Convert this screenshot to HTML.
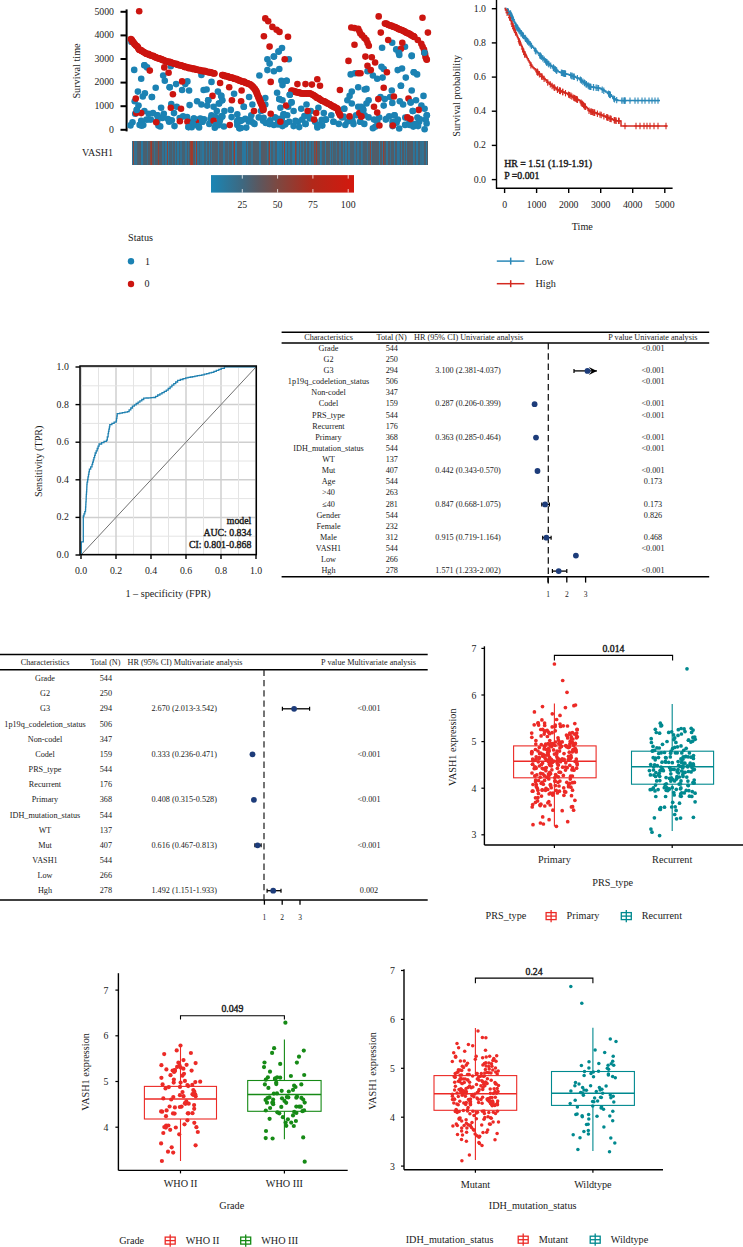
<!DOCTYPE html>
<html><head><meta charset="utf-8"><style>
html,body{margin:0;padding:0;background:#fff;width:743px;height:1247px;overflow:hidden}
svg{display:block}
text{font-family:"Liberation Serif",serif}
</style></head><body>
<svg width="743" height="1247" viewBox="0 0 743 1247">
<line x1="126.6" y1="9.4" x2="126.6" y2="131.4" stroke="#000" stroke-width="2"/>
<line x1="120.5" y1="11.8" x2="126.6" y2="11.8" stroke="#000" stroke-width="2"/>
<text x="114" y="14.5" font-size="9.8" text-anchor="end" fill="#222">5000</text>
<line x1="120.5" y1="35.4" x2="126.6" y2="35.4" stroke="#000" stroke-width="2"/>
<text x="114" y="38.1" font-size="9.8" text-anchor="end" fill="#222">4000</text>
<line x1="120.5" y1="59" x2="126.6" y2="59" stroke="#000" stroke-width="2"/>
<text x="114" y="61.7" font-size="9.8" text-anchor="end" fill="#222">3000</text>
<line x1="120.5" y1="82.6" x2="126.6" y2="82.6" stroke="#000" stroke-width="2"/>
<text x="114" y="85.3" font-size="9.8" text-anchor="end" fill="#222">2000</text>
<line x1="120.5" y1="106.2" x2="126.6" y2="106.2" stroke="#000" stroke-width="2"/>
<text x="114" y="108.9" font-size="9.8" text-anchor="end" fill="#222">1000</text>
<line x1="120.5" y1="129.8" x2="126.6" y2="129.8" stroke="#000" stroke-width="2"/>
<text x="114" y="132.5" font-size="9.8" text-anchor="end" fill="#222">0</text>
<text x="0" y="0" font-size="10.2" text-anchor="middle" fill="#1a1a1a" transform="translate(79.8,71) rotate(-90)">Survival time</text>
<circle cx="134.2" cy="69.9" r="3.3" fill="#1b82b3"/>
<circle cx="144.4" cy="65.2" r="3.3" fill="#1b82b3"/>
<circle cx="147.1" cy="67.4" r="3.3" fill="#1b82b3"/>
<circle cx="141.2" cy="78.7" r="3.3" fill="#1b82b3"/>
<circle cx="163.2" cy="75.5" r="3.3" fill="#1b82b3"/>
<circle cx="164.8" cy="80.8" r="3.3" fill="#1b82b3"/>
<circle cx="170.8" cy="66.3" r="3.3" fill="#1b82b3"/>
<circle cx="155.7" cy="87.8" r="3.3" fill="#1b82b3"/>
<circle cx="169.7" cy="87.3" r="3.3" fill="#1b82b3"/>
<circle cx="176.1" cy="84.1" r="3.3" fill="#1b82b3"/>
<circle cx="187.4" cy="81.4" r="3.3" fill="#1b82b3"/>
<circle cx="185.3" cy="84.1" r="3.3" fill="#1b82b3"/>
<circle cx="182.1" cy="90" r="3.3" fill="#1b82b3"/>
<circle cx="189.1" cy="90.5" r="3.3" fill="#1b82b3"/>
<circle cx="137.9" cy="91.6" r="3.3" fill="#1b82b3"/>
<circle cx="144.9" cy="93.2" r="3.3" fill="#1b82b3"/>
<circle cx="142.8" cy="96.5" r="3.3" fill="#1b82b3"/>
<circle cx="151.9" cy="97" r="3.3" fill="#1b82b3"/>
<circle cx="134.7" cy="101.3" r="3.3" fill="#1b82b3"/>
<circle cx="138.5" cy="105.6" r="3.3" fill="#1b82b3"/>
<circle cx="136.8" cy="109.9" r="3.3" fill="#1b82b3"/>
<circle cx="135.2" cy="113.7" r="3.3" fill="#1b82b3"/>
<circle cx="144.4" cy="111" r="3.3" fill="#1b82b3"/>
<circle cx="148.7" cy="113.7" r="3.3" fill="#1b82b3"/>
<circle cx="153" cy="113.1" r="3.3" fill="#1b82b3"/>
<circle cx="161.1" cy="107.8" r="3.3" fill="#1b82b3"/>
<circle cx="163.8" cy="113.7" r="3.3" fill="#1b82b3"/>
<circle cx="157.3" cy="115.3" r="3.3" fill="#1b82b3"/>
<circle cx="146.5" cy="119.6" r="3.3" fill="#1b82b3"/>
<circle cx="141.2" cy="120.7" r="3.3" fill="#1b82b3"/>
<circle cx="143.3" cy="125" r="3.3" fill="#1b82b3"/>
<circle cx="132.5" cy="122.3" r="3.3" fill="#1b82b3"/>
<circle cx="150.8" cy="119.6" r="3.3" fill="#1b82b3"/>
<circle cx="157.3" cy="120.7" r="3.3" fill="#1b82b3"/>
<circle cx="158.4" cy="125.5" r="3.3" fill="#1b82b3"/>
<circle cx="171.3" cy="104" r="3.3" fill="#1b82b3"/>
<circle cx="176.7" cy="106.7" r="3.3" fill="#1b82b3"/>
<circle cx="174" cy="113.1" r="3.3" fill="#1b82b3"/>
<circle cx="169.1" cy="121.8" r="3.3" fill="#1b82b3"/>
<circle cx="174.5" cy="126.1" r="3.3" fill="#1b82b3"/>
<circle cx="183.1" cy="116.4" r="3.3" fill="#1b82b3"/>
<circle cx="189.6" cy="105.1" r="3.3" fill="#1b82b3"/>
<circle cx="197.1" cy="101.3" r="3.3" fill="#1b82b3"/>
<circle cx="201.4" cy="104.5" r="3.3" fill="#1b82b3"/>
<circle cx="203.6" cy="90" r="3.3" fill="#1b82b3"/>
<circle cx="201.4" cy="74.9" r="3.3" fill="#1b82b3"/>
<circle cx="189.6" cy="121.8" r="3.3" fill="#1b82b3"/>
<circle cx="193.9" cy="118.5" r="3.3" fill="#1b82b3"/>
<circle cx="200.4" cy="118.5" r="3.3" fill="#1b82b3"/>
<circle cx="188.5" cy="127.1" r="3.3" fill="#1b82b3"/>
<circle cx="198.2" cy="126.1" r="3.3" fill="#1b82b3"/>
<circle cx="202.5" cy="121.8" r="3.3" fill="#1b82b3"/>
<circle cx="192.8" cy="123.9" r="3.3" fill="#1b82b3"/>
<circle cx="211.5" cy="81.9" r="3.3" fill="#1b82b3"/>
<circle cx="206.6" cy="89.5" r="3.3" fill="#1b82b3"/>
<circle cx="217.9" cy="91.6" r="3.3" fill="#1b82b3"/>
<circle cx="221.2" cy="95.9" r="3.3" fill="#1b82b3"/>
<circle cx="222.2" cy="100.2" r="3.3" fill="#1b82b3"/>
<circle cx="219" cy="103.5" r="3.3" fill="#1b82b3"/>
<circle cx="208.2" cy="100.2" r="3.3" fill="#1b82b3"/>
<circle cx="207.2" cy="105.6" r="3.3" fill="#1b82b3"/>
<circle cx="213.6" cy="106.7" r="3.3" fill="#1b82b3"/>
<circle cx="216.8" cy="111" r="3.3" fill="#1b82b3"/>
<circle cx="211.5" cy="115.3" r="3.3" fill="#1b82b3"/>
<circle cx="209.3" cy="123.9" r="3.3" fill="#1b82b3"/>
<circle cx="215.8" cy="125" r="3.3" fill="#1b82b3"/>
<circle cx="220.1" cy="119.6" r="3.3" fill="#1b82b3"/>
<circle cx="222.2" cy="116.4" r="3.3" fill="#1b82b3"/>
<circle cx="224.4" cy="111" r="3.3" fill="#1b82b3"/>
<circle cx="230.8" cy="109.9" r="3.3" fill="#1b82b3"/>
<circle cx="234.1" cy="93.8" r="3.3" fill="#1b82b3"/>
<circle cx="237.3" cy="114.2" r="3.3" fill="#1b82b3"/>
<circle cx="238.4" cy="119.6" r="3.3" fill="#1b82b3"/>
<circle cx="237.3" cy="125" r="3.3" fill="#1b82b3"/>
<circle cx="239.5" cy="128.2" r="3.3" fill="#1b82b3"/>
<circle cx="243.8" cy="106.7" r="3.3" fill="#1b82b3"/>
<circle cx="249.1" cy="97" r="3.3" fill="#1b82b3"/>
<circle cx="252.4" cy="104.5" r="3.3" fill="#1b82b3"/>
<circle cx="251.3" cy="115.3" r="3.3" fill="#1b82b3"/>
<circle cx="250.2" cy="119.6" r="3.3" fill="#1b82b3"/>
<circle cx="254.5" cy="123.9" r="3.3" fill="#1b82b3"/>
<circle cx="258.8" cy="117.4" r="3.3" fill="#1b82b3"/>
<circle cx="261" cy="111" r="3.3" fill="#1b82b3"/>
<circle cx="263.1" cy="120.7" r="3.3" fill="#1b82b3"/>
<circle cx="265.3" cy="98.1" r="3.3" fill="#1b82b3"/>
<circle cx="265.3" cy="104.5" r="3.3" fill="#1b82b3"/>
<circle cx="269.6" cy="123.9" r="3.3" fill="#1b82b3"/>
<circle cx="275" cy="117.4" r="3.3" fill="#1b82b3"/>
<circle cx="273.9" cy="125" r="3.3" fill="#1b82b3"/>
<circle cx="278.2" cy="121.8" r="3.3" fill="#1b82b3"/>
<circle cx="282.5" cy="126.1" r="3.3" fill="#1b82b3"/>
<circle cx="280.4" cy="107.8" r="3.3" fill="#1b82b3"/>
<circle cx="283.6" cy="114.2" r="3.3" fill="#1b82b3"/>
<circle cx="277.1" cy="92.7" r="3.3" fill="#1b82b3"/>
<circle cx="279.3" cy="99.1" r="3.3" fill="#1b82b3"/>
<circle cx="282.5" cy="100.2" r="3.3" fill="#1b82b3"/>
<circle cx="281.4" cy="80.8" r="3.3" fill="#1b82b3"/>
<circle cx="282.5" cy="85.1" r="3.3" fill="#1b82b3"/>
<circle cx="259.4" cy="75.5" r="3.3" fill="#1b82b3"/>
<circle cx="267.4" cy="59.3" r="3.3" fill="#1b82b3"/>
<circle cx="269.6" cy="63.6" r="3.3" fill="#1b82b3"/>
<circle cx="273.9" cy="56.6" r="3.3" fill="#1b82b3"/>
<circle cx="267.4" cy="70.1" r="3.3" fill="#1b82b3"/>
<circle cx="273.9" cy="71.2" r="3.3" fill="#1b82b3"/>
<circle cx="279.3" cy="69" r="3.3" fill="#1b82b3"/>
<circle cx="288.8" cy="59.3" r="3.3" fill="#1b82b3"/>
<circle cx="286.6" cy="80.8" r="3.3" fill="#1b82b3"/>
<circle cx="289.8" cy="94.8" r="3.3" fill="#1b82b3"/>
<circle cx="291.5" cy="102.4" r="3.3" fill="#1b82b3"/>
<circle cx="288.2" cy="106.7" r="3.3" fill="#1b82b3"/>
<circle cx="293.6" cy="111" r="3.3" fill="#1b82b3"/>
<circle cx="287.2" cy="115.3" r="3.3" fill="#1b82b3"/>
<circle cx="289.3" cy="121.8" r="3.3" fill="#1b82b3"/>
<circle cx="293.6" cy="126.1" r="3.3" fill="#1b82b3"/>
<circle cx="301.2" cy="108.8" r="3.3" fill="#1b82b3"/>
<circle cx="306.5" cy="104.5" r="3.3" fill="#1b82b3"/>
<circle cx="310.8" cy="111" r="3.3" fill="#1b82b3"/>
<circle cx="318.4" cy="107.8" r="3.3" fill="#1b82b3"/>
<circle cx="302.2" cy="119.6" r="3.3" fill="#1b82b3"/>
<circle cx="305.5" cy="123.9" r="3.3" fill="#1b82b3"/>
<circle cx="309.8" cy="118.5" r="3.3" fill="#1b82b3"/>
<circle cx="315.1" cy="121.8" r="3.3" fill="#1b82b3"/>
<circle cx="317.3" cy="126.1" r="3.3" fill="#1b82b3"/>
<circle cx="323.8" cy="113.1" r="3.3" fill="#1b82b3"/>
<circle cx="325.9" cy="119.6" r="3.3" fill="#1b82b3"/>
<circle cx="331.3" cy="115.3" r="3.3" fill="#1b82b3"/>
<circle cx="333.5" cy="121.8" r="3.3" fill="#1b82b3"/>
<circle cx="338.8" cy="123.9" r="3.3" fill="#1b82b3"/>
<circle cx="342.1" cy="117.4" r="3.3" fill="#1b82b3"/>
<circle cx="344.2" cy="108.8" r="3.3" fill="#1b82b3"/>
<circle cx="347.4" cy="100.2" r="3.3" fill="#1b82b3"/>
<circle cx="349.6" cy="95.9" r="3.3" fill="#1b82b3"/>
<circle cx="351.8" cy="91.6" r="3.3" fill="#1b82b3"/>
<circle cx="351.8" cy="103.5" r="3.3" fill="#1b82b3"/>
<circle cx="358.2" cy="87.3" r="3.3" fill="#1b82b3"/>
<circle cx="350.7" cy="74.4" r="3.3" fill="#1b82b3"/>
<circle cx="355" cy="73.3" r="3.3" fill="#1b82b3"/>
<circle cx="358.2" cy="106.7" r="3.3" fill="#1b82b3"/>
<circle cx="362.5" cy="107.8" r="3.3" fill="#1b82b3"/>
<circle cx="356.1" cy="115.3" r="3.3" fill="#1b82b3"/>
<circle cx="360.4" cy="121.8" r="3.3" fill="#1b82b3"/>
<circle cx="364.7" cy="115.3" r="3.3" fill="#1b82b3"/>
<circle cx="345.3" cy="125" r="3.3" fill="#1b82b3"/>
<circle cx="351.8" cy="119.6" r="3.3" fill="#1b82b3"/>
<circle cx="364.7" cy="89.5" r="3.3" fill="#1b82b3"/>
<circle cx="297.9" cy="121.8" r="3.3" fill="#1b82b3"/>
<circle cx="399.3" cy="55" r="3.3" fill="#1b82b3"/>
<circle cx="411.7" cy="56.1" r="3.3" fill="#1b82b3"/>
<circle cx="381.5" cy="66.8" r="3.3" fill="#1b82b3"/>
<circle cx="383.7" cy="69" r="3.3" fill="#1b82b3"/>
<circle cx="367.5" cy="71.2" r="3.3" fill="#1b82b3"/>
<circle cx="372.9" cy="75.5" r="3.3" fill="#1b82b3"/>
<circle cx="377.2" cy="78.7" r="3.3" fill="#1b82b3"/>
<circle cx="382.6" cy="77.6" r="3.3" fill="#1b82b3"/>
<circle cx="397.7" cy="70.1" r="3.3" fill="#1b82b3"/>
<circle cx="402" cy="68.5" r="3.3" fill="#1b82b3"/>
<circle cx="413.8" cy="72.2" r="3.3" fill="#1b82b3"/>
<circle cx="417.1" cy="74.4" r="3.3" fill="#1b82b3"/>
<circle cx="405.8" cy="77.6" r="3.3" fill="#1b82b3"/>
<circle cx="400.9" cy="85.7" r="3.3" fill="#1b82b3"/>
<circle cx="366.5" cy="88.9" r="3.3" fill="#1b82b3"/>
<circle cx="391.8" cy="90.5" r="3.3" fill="#1b82b3"/>
<circle cx="411.7" cy="90.5" r="3.3" fill="#1b82b3"/>
<circle cx="423.5" cy="95.9" r="3.3" fill="#1b82b3"/>
<circle cx="380.5" cy="97" r="3.3" fill="#1b82b3"/>
<circle cx="384.8" cy="99.1" r="3.3" fill="#1b82b3"/>
<circle cx="390.1" cy="97" r="3.3" fill="#1b82b3"/>
<circle cx="392.3" cy="102.9" r="3.3" fill="#1b82b3"/>
<circle cx="399.8" cy="101.3" r="3.3" fill="#1b82b3"/>
<circle cx="403.1" cy="104.5" r="3.3" fill="#1b82b3"/>
<circle cx="410.6" cy="102.4" r="3.3" fill="#1b82b3"/>
<circle cx="416" cy="100.2" r="3.3" fill="#1b82b3"/>
<circle cx="421.4" cy="105.6" r="3.3" fill="#1b82b3"/>
<circle cx="424.6" cy="108.8" r="3.3" fill="#1b82b3"/>
<circle cx="412.8" cy="111" r="3.3" fill="#1b82b3"/>
<circle cx="368.6" cy="100.2" r="3.3" fill="#1b82b3"/>
<circle cx="366.5" cy="103.5" r="3.3" fill="#1b82b3"/>
<circle cx="361.1" cy="106.7" r="3.3" fill="#1b82b3"/>
<circle cx="363.2" cy="109.9" r="3.3" fill="#1b82b3"/>
<circle cx="383.7" cy="105.6" r="3.3" fill="#1b82b3"/>
<circle cx="394.5" cy="115.3" r="3.3" fill="#1b82b3"/>
<circle cx="385.8" cy="119.6" r="3.3" fill="#1b82b3"/>
<circle cx="396.6" cy="122.8" r="3.3" fill="#1b82b3"/>
<circle cx="426.8" cy="115.3" r="3.3" fill="#1b82b3"/>
<circle cx="425.7" cy="119.6" r="3.3" fill="#1b82b3"/>
<circle cx="419.2" cy="121.8" r="3.3" fill="#1b82b3"/>
<circle cx="418.1" cy="126.1" r="3.3" fill="#1b82b3"/>
<circle cx="424.6" cy="129.3" r="3.3" fill="#1b82b3"/>
<circle cx="368.6" cy="117.4" r="3.3" fill="#1b82b3"/>
<circle cx="374" cy="119.6" r="3.3" fill="#1b82b3"/>
<circle cx="377.2" cy="121.8" r="3.3" fill="#1b82b3"/>
<circle cx="364.3" cy="123.9" r="3.3" fill="#1b82b3"/>
<circle cx="372.9" cy="128.2" r="3.3" fill="#1b82b3"/>
<circle cx="360" cy="121.8" r="3.3" fill="#1b82b3"/>
<circle cx="131.5" cy="42" r="3.3" fill="#1b82b3"/>
<circle cx="278.6" cy="51.6" r="3.3" fill="#1b82b3"/>
<circle cx="282" cy="48" r="3.3" fill="#1b82b3"/>
<circle cx="392.2" cy="42.7" r="3.3" fill="#1b82b3"/>
<circle cx="382.1" cy="47.8" r="3.3" fill="#1b82b3"/>
<circle cx="396.2" cy="49.4" r="3.3" fill="#1b82b3"/>
<circle cx="398.9" cy="52.8" r="3.3" fill="#1b82b3"/>
<circle cx="405" cy="46.7" r="3.3" fill="#1b82b3"/>
<circle cx="411.7" cy="55.5" r="3.3" fill="#1b82b3"/>
<circle cx="424.5" cy="52.8" r="3.3" fill="#1b82b3"/>
<circle cx="171.8" cy="120.3" r="3.3" fill="#1b82b3"/>
<circle cx="223.9" cy="126.5" r="3.3" fill="#1b82b3"/>
<circle cx="130.5" cy="125.4" r="3.3" fill="#1b82b3"/>
<circle cx="379.2" cy="117.5" r="3.3" fill="#1b82b3"/>
<circle cx="405.1" cy="124.9" r="3.3" fill="#1b82b3"/>
<circle cx="397.8" cy="119.6" r="3.3" fill="#1b82b3"/>
<circle cx="240.5" cy="120.9" r="3.3" fill="#1b82b3"/>
<circle cx="426.6" cy="123.4" r="3.3" fill="#1b82b3"/>
<circle cx="237.1" cy="121.4" r="3.3" fill="#1b82b3"/>
<circle cx="211.7" cy="116.6" r="3.3" fill="#1b82b3"/>
<circle cx="160.2" cy="126.4" r="3.3" fill="#1b82b3"/>
<circle cx="214.8" cy="127.7" r="3.3" fill="#1b82b3"/>
<circle cx="204" cy="119.3" r="3.3" fill="#1b82b3"/>
<circle cx="281.8" cy="118.4" r="3.3" fill="#1b82b3"/>
<circle cx="240.9" cy="128" r="3.3" fill="#1b82b3"/>
<circle cx="392.6" cy="126.1" r="3.3" fill="#1b82b3"/>
<circle cx="317.4" cy="127.4" r="3.3" fill="#1b82b3"/>
<circle cx="409.4" cy="122.9" r="3.3" fill="#1b82b3"/>
<circle cx="343.7" cy="116.6" r="3.3" fill="#1b82b3"/>
<circle cx="347.5" cy="121.6" r="3.3" fill="#1b82b3"/>
<circle cx="353.5" cy="124.1" r="3.3" fill="#1b82b3"/>
<circle cx="215" cy="116.6" r="3.3" fill="#1b82b3"/>
<circle cx="405.3" cy="117.6" r="3.3" fill="#1b82b3"/>
<circle cx="270.2" cy="120.3" r="3.3" fill="#1b82b3"/>
<circle cx="218.4" cy="125.2" r="3.3" fill="#1b82b3"/>
<circle cx="420" cy="119.3" r="3.3" fill="#1b82b3"/>
<circle cx="324.8" cy="119.8" r="3.3" fill="#1b82b3"/>
<circle cx="295.5" cy="120.9" r="3.3" fill="#1b82b3"/>
<circle cx="179.7" cy="118" r="3.3" fill="#1b82b3"/>
<circle cx="191.7" cy="127.3" r="3.3" fill="#1b82b3"/>
<circle cx="277.6" cy="118.8" r="3.3" fill="#1b82b3"/>
<circle cx="399.2" cy="128.5" r="3.3" fill="#1b82b3"/>
<circle cx="263.6" cy="117.7" r="3.3" fill="#1b82b3"/>
<circle cx="187.1" cy="117.1" r="3.3" fill="#1b82b3"/>
<circle cx="231.6" cy="117.1" r="3.3" fill="#1b82b3"/>
<circle cx="201" cy="119.2" r="3.3" fill="#1b82b3"/>
<circle cx="299.2" cy="127.1" r="3.3" fill="#1b82b3"/>
<circle cx="352.6" cy="121.2" r="3.3" fill="#1b82b3"/>
<circle cx="252.9" cy="122.6" r="3.3" fill="#1b82b3"/>
<circle cx="241.9" cy="120.2" r="3.3" fill="#1b82b3"/>
<circle cx="148.4" cy="119.5" r="3.3" fill="#1b82b3"/>
<circle cx="417.4" cy="117.6" r="3.3" fill="#1b82b3"/>
<circle cx="279.5" cy="123.9" r="3.3" fill="#1b82b3"/>
<circle cx="386.3" cy="118.7" r="3.3" fill="#1b82b3"/>
<circle cx="210.5" cy="119.1" r="3.3" fill="#1b82b3"/>
<circle cx="248.7" cy="121.6" r="3.3" fill="#1b82b3"/>
<circle cx="413.3" cy="126.6" r="3.3" fill="#1b82b3"/>
<circle cx="389.2" cy="116.3" r="3.3" fill="#1b82b3"/>
<circle cx="139.6" cy="124.9" r="3.3" fill="#1b82b3"/>
<circle cx="396" cy="121.9" r="3.3" fill="#1b82b3"/>
<circle cx="304.4" cy="116" r="3.3" fill="#1b82b3"/>
<circle cx="246.3" cy="127.6" r="3.3" fill="#1b82b3"/>
<circle cx="375.2" cy="126.7" r="3.3" fill="#1b82b3"/>
<circle cx="418.8" cy="119.1" r="3.3" fill="#1b82b3"/>
<circle cx="162.4" cy="117.9" r="3.3" fill="#1b82b3"/>
<circle cx="285.1" cy="124.5" r="3.3" fill="#1b82b3"/>
<circle cx="409.6" cy="125" r="3.3" fill="#1b82b3"/>
<circle cx="322.3" cy="125.6" r="3.3" fill="#1b82b3"/>
<circle cx="265.8" cy="122.9" r="3.3" fill="#1b82b3"/>
<circle cx="141.7" cy="125.8" r="3.3" fill="#1b82b3"/>
<circle cx="199.1" cy="127.5" r="3.3" fill="#1b82b3"/>
<circle cx="321.7" cy="119.8" r="3.3" fill="#1b82b3"/>
<circle cx="168" cy="119.1" r="3.3" fill="#1b82b3"/>
<circle cx="319" cy="124.7" r="3.3" fill="#1b82b3"/>
<circle cx="163.3" cy="116.9" r="3.3" fill="#1b82b3"/>
<circle cx="285.8" cy="123.3" r="3.3" fill="#1b82b3"/>
<circle cx="245.3" cy="118.8" r="3.3" fill="#1b82b3"/>
<circle cx="308.5" cy="116.1" r="3.3" fill="#1b82b3"/>
<circle cx="219.6" cy="121.8" r="3.3" fill="#1b82b3"/>
<circle cx="414.8" cy="124.1" r="3.3" fill="#1b82b3"/>
<circle cx="392.5" cy="121.9" r="3.3" fill="#1b82b3"/>
<circle cx="199.7" cy="119.1" r="3.3" fill="#1b82b3"/>
<circle cx="415.3" cy="124.8" r="3.3" fill="#1b82b3"/>
<circle cx="221.3" cy="116.3" r="3.3" fill="#1b82b3"/>
<circle cx="278" cy="124.4" r="3.3" fill="#1b82b3"/>
<circle cx="130.9" cy="39.1" r="3.3" fill="#cc1510"/>
<circle cx="131.7" cy="39.8" r="3.3" fill="#cc1510"/>
<circle cx="132.2" cy="40.7" r="3.3" fill="#cc1510"/>
<circle cx="132.4" cy="41.5" r="3.3" fill="#cc1510"/>
<circle cx="133" cy="42.1" r="3.3" fill="#cc1510"/>
<circle cx="133.6" cy="42.6" r="3.3" fill="#cc1510"/>
<circle cx="134.4" cy="43.9" r="3.3" fill="#cc1510"/>
<circle cx="134.8" cy="44.2" r="3.3" fill="#cc1510"/>
<circle cx="135.8" cy="45.5" r="3.3" fill="#cc1510"/>
<circle cx="136.4" cy="45.8" r="3.3" fill="#cc1510"/>
<circle cx="137.3" cy="46.3" r="3.3" fill="#cc1510"/>
<circle cx="137.9" cy="47.3" r="3.3" fill="#cc1510"/>
<circle cx="138.1" cy="47.9" r="3.3" fill="#cc1510"/>
<circle cx="138.8" cy="49.3" r="3.3" fill="#cc1510"/>
<circle cx="139.4" cy="49.9" r="3.3" fill="#cc1510"/>
<circle cx="140.5" cy="50.1" r="3.3" fill="#cc1510"/>
<circle cx="141.2" cy="50.4" r="3.3" fill="#cc1510"/>
<circle cx="141.7" cy="50.9" r="3.3" fill="#cc1510"/>
<circle cx="142.9" cy="51.5" r="3.3" fill="#cc1510"/>
<circle cx="143.4" cy="52.1" r="3.3" fill="#cc1510"/>
<circle cx="144.3" cy="52.3" r="3.3" fill="#cc1510"/>
<circle cx="145.3" cy="53.1" r="3.3" fill="#cc1510"/>
<circle cx="145.7" cy="53.5" r="3.3" fill="#cc1510"/>
<circle cx="146.8" cy="54" r="3.3" fill="#cc1510"/>
<circle cx="147.8" cy="53.9" r="3.3" fill="#cc1510"/>
<circle cx="148.8" cy="54.1" r="3.3" fill="#cc1510"/>
<circle cx="149.3" cy="54.9" r="3.3" fill="#cc1510"/>
<circle cx="150" cy="55" r="3.3" fill="#cc1510"/>
<circle cx="150.8" cy="55.5" r="3.3" fill="#cc1510"/>
<circle cx="152.1" cy="55.8" r="3.3" fill="#cc1510"/>
<circle cx="153.1" cy="55.9" r="3.3" fill="#cc1510"/>
<circle cx="153.8" cy="56.4" r="3.3" fill="#cc1510"/>
<circle cx="154.6" cy="56.7" r="3.3" fill="#cc1510"/>
<circle cx="155.6" cy="57.4" r="3.3" fill="#cc1510"/>
<circle cx="156.3" cy="57.5" r="3.3" fill="#cc1510"/>
<circle cx="156.9" cy="57.8" r="3.3" fill="#cc1510"/>
<circle cx="158.1" cy="58.4" r="3.3" fill="#cc1510"/>
<circle cx="159.1" cy="58.2" r="3.3" fill="#cc1510"/>
<circle cx="159.7" cy="58.8" r="3.3" fill="#cc1510"/>
<circle cx="160.3" cy="59" r="3.3" fill="#cc1510"/>
<circle cx="161.3" cy="59" r="3.3" fill="#cc1510"/>
<circle cx="162.1" cy="59.9" r="3.3" fill="#cc1510"/>
<circle cx="163" cy="59.8" r="3.3" fill="#cc1510"/>
<circle cx="164" cy="60.6" r="3.3" fill="#cc1510"/>
<circle cx="164.7" cy="60.6" r="3.3" fill="#cc1510"/>
<circle cx="165.9" cy="61.3" r="3.3" fill="#cc1510"/>
<circle cx="166.9" cy="61.6" r="3.3" fill="#cc1510"/>
<circle cx="167.4" cy="61.5" r="3.3" fill="#cc1510"/>
<circle cx="168.4" cy="62.1" r="3.3" fill="#cc1510"/>
<circle cx="169.6" cy="61.8" r="3.3" fill="#cc1510"/>
<circle cx="170" cy="62.1" r="3.3" fill="#cc1510"/>
<circle cx="170.9" cy="62.6" r="3.3" fill="#cc1510"/>
<circle cx="172" cy="62.7" r="3.3" fill="#cc1510"/>
<circle cx="172.5" cy="63.1" r="3.3" fill="#cc1510"/>
<circle cx="173.6" cy="63.5" r="3.3" fill="#cc1510"/>
<circle cx="174.8" cy="63.8" r="3.3" fill="#cc1510"/>
<circle cx="175.4" cy="64" r="3.3" fill="#cc1510"/>
<circle cx="176.4" cy="63.8" r="3.3" fill="#cc1510"/>
<circle cx="177.4" cy="64.7" r="3.3" fill="#cc1510"/>
<circle cx="178.2" cy="65" r="3.3" fill="#cc1510"/>
<circle cx="178.8" cy="64.9" r="3.3" fill="#cc1510"/>
<circle cx="179.5" cy="65.3" r="3.3" fill="#cc1510"/>
<circle cx="180.4" cy="65.2" r="3.3" fill="#cc1510"/>
<circle cx="181.3" cy="65.5" r="3.3" fill="#cc1510"/>
<circle cx="182.3" cy="65.7" r="3.3" fill="#cc1510"/>
<circle cx="182.9" cy="66" r="3.3" fill="#cc1510"/>
<circle cx="183.9" cy="66.4" r="3.3" fill="#cc1510"/>
<circle cx="184.7" cy="67.1" r="3.3" fill="#cc1510"/>
<circle cx="185.9" cy="66.8" r="3.3" fill="#cc1510"/>
<circle cx="186.6" cy="67.2" r="3.3" fill="#cc1510"/>
<circle cx="187.5" cy="67.3" r="3.3" fill="#cc1510"/>
<circle cx="188.7" cy="68.2" r="3.3" fill="#cc1510"/>
<circle cx="189.4" cy="68" r="3.3" fill="#cc1510"/>
<circle cx="190.1" cy="67.9" r="3.3" fill="#cc1510"/>
<circle cx="191.1" cy="68.2" r="3.3" fill="#cc1510"/>
<circle cx="192.3" cy="68.3" r="3.3" fill="#cc1510"/>
<circle cx="192.7" cy="69.1" r="3.3" fill="#cc1510"/>
<circle cx="193.9" cy="68.7" r="3.3" fill="#cc1510"/>
<circle cx="194.9" cy="68.8" r="3.3" fill="#cc1510"/>
<circle cx="195.7" cy="69.7" r="3.3" fill="#cc1510"/>
<circle cx="196.9" cy="69.7" r="3.3" fill="#cc1510"/>
<circle cx="197.4" cy="69.6" r="3.3" fill="#cc1510"/>
<circle cx="198.2" cy="70.1" r="3.3" fill="#cc1510"/>
<circle cx="199.4" cy="70.3" r="3.3" fill="#cc1510"/>
<circle cx="200.1" cy="70.1" r="3.3" fill="#cc1510"/>
<circle cx="201.3" cy="70.9" r="3.3" fill="#cc1510"/>
<circle cx="202.3" cy="70.9" r="3.3" fill="#cc1510"/>
<circle cx="203.1" cy="71.1" r="3.3" fill="#cc1510"/>
<circle cx="203.7" cy="71.1" r="3.3" fill="#cc1510"/>
<circle cx="204.7" cy="70.9" r="3.3" fill="#cc1510"/>
<circle cx="205.4" cy="71.3" r="3.3" fill="#cc1510"/>
<circle cx="206.4" cy="71.8" r="3.3" fill="#cc1510"/>
<circle cx="207.7" cy="71.8" r="3.3" fill="#cc1510"/>
<circle cx="208.6" cy="72.4" r="3.3" fill="#cc1510"/>
<circle cx="209.6" cy="72.1" r="3.3" fill="#cc1510"/>
<circle cx="210" cy="72.2" r="3.3" fill="#cc1510"/>
<circle cx="210.9" cy="72.4" r="3.3" fill="#cc1510"/>
<circle cx="212.1" cy="73.1" r="3.3" fill="#cc1510"/>
<circle cx="213.1" cy="73" r="3.3" fill="#cc1510"/>
<circle cx="213.9" cy="73.4" r="3.3" fill="#cc1510"/>
<circle cx="214.5" cy="73.5" r="3.3" fill="#cc1510"/>
<circle cx="222.2" cy="75.1" r="3.3" fill="#cc1510"/>
<circle cx="223" cy="75.1" r="3.3" fill="#cc1510"/>
<circle cx="223.6" cy="75.6" r="3.3" fill="#cc1510"/>
<circle cx="224.5" cy="75.9" r="3.3" fill="#cc1510"/>
<circle cx="225.8" cy="75.8" r="3.3" fill="#cc1510"/>
<circle cx="226.3" cy="76.5" r="3.3" fill="#cc1510"/>
<circle cx="227.4" cy="76.2" r="3.3" fill="#cc1510"/>
<circle cx="227.9" cy="76.4" r="3.3" fill="#cc1510"/>
<circle cx="229.2" cy="77.2" r="3.3" fill="#cc1510"/>
<circle cx="229.7" cy="77.5" r="3.3" fill="#cc1510"/>
<circle cx="231" cy="77.6" r="3.3" fill="#cc1510"/>
<circle cx="231.5" cy="77.8" r="3.3" fill="#cc1510"/>
<circle cx="232.3" cy="77.6" r="3.3" fill="#cc1510"/>
<circle cx="233.7" cy="78.4" r="3.3" fill="#cc1510"/>
<circle cx="234.3" cy="78.8" r="3.3" fill="#cc1510"/>
<circle cx="235.1" cy="79" r="3.3" fill="#cc1510"/>
<circle cx="236.2" cy="78.8" r="3.3" fill="#cc1510"/>
<circle cx="236.7" cy="79.2" r="3.3" fill="#cc1510"/>
<circle cx="237.6" cy="79.7" r="3.3" fill="#cc1510"/>
<circle cx="238.5" cy="79.9" r="3.3" fill="#cc1510"/>
<circle cx="239.3" cy="80.7" r="3.3" fill="#cc1510"/>
<circle cx="240.3" cy="80.6" r="3.3" fill="#cc1510"/>
<circle cx="241.4" cy="81.3" r="3.3" fill="#cc1510"/>
<circle cx="242.2" cy="81.7" r="3.3" fill="#cc1510"/>
<circle cx="243.1" cy="81.7" r="3.3" fill="#cc1510"/>
<circle cx="244" cy="81.6" r="3.3" fill="#cc1510"/>
<circle cx="244.8" cy="82.1" r="3.3" fill="#cc1510"/>
<circle cx="245.5" cy="82.9" r="3.3" fill="#cc1510"/>
<circle cx="246.5" cy="83" r="3.3" fill="#cc1510"/>
<circle cx="247.7" cy="83.4" r="3.3" fill="#cc1510"/>
<circle cx="248.3" cy="83.7" r="3.3" fill="#cc1510"/>
<circle cx="249.3" cy="84.2" r="3.3" fill="#cc1510"/>
<circle cx="250" cy="84.3" r="3.3" fill="#cc1510"/>
<circle cx="250.7" cy="84.8" r="3.3" fill="#cc1510"/>
<circle cx="251.7" cy="85.6" r="3.3" fill="#cc1510"/>
<circle cx="252.3" cy="86.5" r="3.3" fill="#cc1510"/>
<circle cx="253.2" cy="86.9" r="3.3" fill="#cc1510"/>
<circle cx="253.7" cy="87.7" r="3.3" fill="#cc1510"/>
<circle cx="254.3" cy="88.5" r="3.3" fill="#cc1510"/>
<circle cx="255" cy="89" r="3.3" fill="#cc1510"/>
<circle cx="255.4" cy="90.2" r="3.3" fill="#cc1510"/>
<circle cx="255.9" cy="91" r="3.3" fill="#cc1510"/>
<circle cx="256.4" cy="91.4" r="3.3" fill="#cc1510"/>
<circle cx="256.6" cy="92.8" r="3.3" fill="#cc1510"/>
<circle cx="257.1" cy="93" r="3.3" fill="#cc1510"/>
<circle cx="257.1" cy="94.2" r="3.3" fill="#cc1510"/>
<circle cx="257.5" cy="94.9" r="3.3" fill="#cc1510"/>
<circle cx="257.9" cy="96.1" r="3.3" fill="#cc1510"/>
<circle cx="258.7" cy="97.1" r="3.3" fill="#cc1510"/>
<circle cx="258.6" cy="97.9" r="3.3" fill="#cc1510"/>
<circle cx="259.3" cy="98.3" r="3.3" fill="#cc1510"/>
<circle cx="259.8" cy="99.8" r="3.3" fill="#cc1510"/>
<circle cx="259.8" cy="100.7" r="3.3" fill="#cc1510"/>
<circle cx="260.2" cy="101.2" r="3.3" fill="#cc1510"/>
<circle cx="260.9" cy="102.4" r="3.3" fill="#cc1510"/>
<circle cx="260.8" cy="102.9" r="3.3" fill="#cc1510"/>
<circle cx="261.4" cy="103.8" r="3.3" fill="#cc1510"/>
<circle cx="261.6" cy="104.7" r="3.3" fill="#cc1510"/>
<circle cx="262.3" cy="105.3" r="3.3" fill="#cc1510"/>
<circle cx="262.6" cy="106.6" r="3.3" fill="#cc1510"/>
<circle cx="262.6" cy="107.4" r="3.3" fill="#cc1510"/>
<circle cx="263.4" cy="108.4" r="3.3" fill="#cc1510"/>
<circle cx="263.4" cy="109.7" r="3.3" fill="#cc1510"/>
<circle cx="291.5" cy="90.8" r="3.3" fill="#cc1510"/>
<circle cx="292" cy="90.5" r="3.3" fill="#cc1510"/>
<circle cx="293" cy="91.2" r="3.3" fill="#cc1510"/>
<circle cx="294.1" cy="91" r="3.3" fill="#cc1510"/>
<circle cx="295.1" cy="91.9" r="3.3" fill="#cc1510"/>
<circle cx="296.3" cy="91.7" r="3.3" fill="#cc1510"/>
<circle cx="296.9" cy="92.5" r="3.3" fill="#cc1510"/>
<circle cx="298.1" cy="92.6" r="3.3" fill="#cc1510"/>
<circle cx="298.8" cy="92.4" r="3.3" fill="#cc1510"/>
<circle cx="300.1" cy="92.9" r="3.3" fill="#cc1510"/>
<circle cx="300.8" cy="93.4" r="3.3" fill="#cc1510"/>
<circle cx="302.2" cy="93.4" r="3.3" fill="#cc1510"/>
<circle cx="303" cy="93.5" r="3.3" fill="#cc1510"/>
<circle cx="304.1" cy="93.6" r="3.3" fill="#cc1510"/>
<circle cx="305.4" cy="93.3" r="3.3" fill="#cc1510"/>
<circle cx="306.5" cy="93.8" r="3.3" fill="#cc1510"/>
<circle cx="307.4" cy="93.3" r="3.3" fill="#cc1510"/>
<circle cx="308.7" cy="93.4" r="3.3" fill="#cc1510"/>
<circle cx="309.5" cy="93.4" r="3.3" fill="#cc1510"/>
<circle cx="310.5" cy="93.6" r="3.3" fill="#cc1510"/>
<circle cx="311.6" cy="94.2" r="3.3" fill="#cc1510"/>
<circle cx="312.8" cy="94.8" r="3.3" fill="#cc1510"/>
<circle cx="313.6" cy="95.3" r="3.3" fill="#cc1510"/>
<circle cx="314.4" cy="95.8" r="3.3" fill="#cc1510"/>
<circle cx="315.3" cy="96.4" r="3.3" fill="#cc1510"/>
<circle cx="316.5" cy="97.4" r="3.3" fill="#cc1510"/>
<circle cx="317.1" cy="98" r="3.3" fill="#cc1510"/>
<circle cx="318.5" cy="98.1" r="3.3" fill="#cc1510"/>
<circle cx="319.3" cy="98.9" r="3.3" fill="#cc1510"/>
<circle cx="320" cy="99.6" r="3.3" fill="#cc1510"/>
<circle cx="320.8" cy="99.8" r="3.3" fill="#cc1510"/>
<circle cx="321.9" cy="100.7" r="3.3" fill="#cc1510"/>
<circle cx="322.6" cy="101" r="3.3" fill="#cc1510"/>
<circle cx="323.7" cy="101.3" r="3.3" fill="#cc1510"/>
<circle cx="324.4" cy="101.5" r="3.3" fill="#cc1510"/>
<circle cx="325.1" cy="101.8" r="3.3" fill="#cc1510"/>
<circle cx="326" cy="102.8" r="3.3" fill="#cc1510"/>
<circle cx="327" cy="102.8" r="3.3" fill="#cc1510"/>
<circle cx="327.8" cy="103.8" r="3.3" fill="#cc1510"/>
<circle cx="329.1" cy="104.1" r="3.3" fill="#cc1510"/>
<circle cx="329.7" cy="104.3" r="3.3" fill="#cc1510"/>
<circle cx="330.5" cy="104.9" r="3.3" fill="#cc1510"/>
<circle cx="331.4" cy="105.4" r="3.3" fill="#cc1510"/>
<circle cx="332.3" cy="106.3" r="3.3" fill="#cc1510"/>
<circle cx="333.6" cy="106.4" r="3.3" fill="#cc1510"/>
<circle cx="334.1" cy="107.2" r="3.3" fill="#cc1510"/>
<circle cx="335" cy="107.2" r="3.3" fill="#cc1510"/>
<circle cx="335.7" cy="107.7" r="3.3" fill="#cc1510"/>
<circle cx="336.9" cy="108.3" r="3.3" fill="#cc1510"/>
<circle cx="337.6" cy="108.8" r="3.3" fill="#cc1510"/>
<circle cx="337.9" cy="109.7" r="3.3" fill="#cc1510"/>
<circle cx="338.3" cy="110.9" r="3.3" fill="#cc1510"/>
<circle cx="338.6" cy="111.7" r="3.3" fill="#cc1510"/>
<circle cx="339.1" cy="112.9" r="3.3" fill="#cc1510"/>
<circle cx="339.7" cy="114.2" r="3.3" fill="#cc1510"/>
<circle cx="340.2" cy="115.4" r="3.3" fill="#cc1510"/>
<circle cx="351.3" cy="27.5" r="3.3" fill="#cc1510"/>
<circle cx="354.5" cy="28.1" r="3.3" fill="#cc1510"/>
<circle cx="358.2" cy="28.9" r="3.3" fill="#cc1510"/>
<circle cx="359.4" cy="31.3" r="3.3" fill="#cc1510"/>
<circle cx="360.3" cy="33.5" r="3.3" fill="#cc1510"/>
<circle cx="362.1" cy="35.4" r="3.3" fill="#cc1510"/>
<circle cx="364.4" cy="37.9" r="3.3" fill="#cc1510"/>
<circle cx="366.4" cy="40" r="3.3" fill="#cc1510"/>
<circle cx="367.6" cy="43" r="3.3" fill="#cc1510"/>
<circle cx="368.8" cy="45.7" r="3.3" fill="#cc1510"/>
<circle cx="384.9" cy="23.5" r="3.3" fill="#cc1510"/>
<circle cx="385.9" cy="23.7" r="3.3" fill="#cc1510"/>
<circle cx="386.5" cy="23.6" r="3.3" fill="#cc1510"/>
<circle cx="387.4" cy="24.3" r="3.3" fill="#cc1510"/>
<circle cx="388.4" cy="25" r="3.3" fill="#cc1510"/>
<circle cx="389.6" cy="25.3" r="3.3" fill="#cc1510"/>
<circle cx="390.6" cy="25.7" r="3.3" fill="#cc1510"/>
<circle cx="391.4" cy="25.6" r="3.3" fill="#cc1510"/>
<circle cx="392.6" cy="26.5" r="3.3" fill="#cc1510"/>
<circle cx="393.4" cy="26.8" r="3.3" fill="#cc1510"/>
<circle cx="394.4" cy="26.8" r="3.3" fill="#cc1510"/>
<circle cx="395.4" cy="27.3" r="3.3" fill="#cc1510"/>
<circle cx="395.9" cy="27.7" r="3.3" fill="#cc1510"/>
<circle cx="397.3" cy="28.1" r="3.3" fill="#cc1510"/>
<circle cx="398.2" cy="29.1" r="3.3" fill="#cc1510"/>
<circle cx="399" cy="29" r="3.3" fill="#cc1510"/>
<circle cx="400" cy="29.6" r="3.3" fill="#cc1510"/>
<circle cx="401.1" cy="30" r="3.3" fill="#cc1510"/>
<circle cx="401.9" cy="30" r="3.3" fill="#cc1510"/>
<circle cx="402.5" cy="30.6" r="3.3" fill="#cc1510"/>
<circle cx="403.7" cy="31.1" r="3.3" fill="#cc1510"/>
<circle cx="404.5" cy="31.3" r="3.3" fill="#cc1510"/>
<circle cx="405.1" cy="32" r="3.3" fill="#cc1510"/>
<circle cx="406.4" cy="32.8" r="3.3" fill="#cc1510"/>
<circle cx="407.3" cy="32.9" r="3.3" fill="#cc1510"/>
<circle cx="408.1" cy="33.5" r="3.3" fill="#cc1510"/>
<circle cx="409" cy="33.6" r="3.3" fill="#cc1510"/>
<circle cx="410.1" cy="34.1" r="3.3" fill="#cc1510"/>
<circle cx="411.1" cy="35.2" r="3.3" fill="#cc1510"/>
<circle cx="411.4" cy="35.2" r="3.3" fill="#cc1510"/>
<circle cx="412.8" cy="36.1" r="3.3" fill="#cc1510"/>
<circle cx="413.5" cy="36" r="3.3" fill="#cc1510"/>
<circle cx="414.2" cy="37" r="3.3" fill="#cc1510"/>
<circle cx="414.2" cy="36.7" r="3.3" fill="#cc1510"/>
<circle cx="417.8" cy="40" r="3.3" fill="#cc1510"/>
<circle cx="421.3" cy="43.7" r="3.3" fill="#cc1510"/>
<circle cx="422.6" cy="46.7" r="3.3" fill="#cc1510"/>
<circle cx="424" cy="49.6" r="3.3" fill="#cc1510"/>
<circle cx="424.3" cy="52.2" r="3.3" fill="#cc1510"/>
<circle cx="425.1" cy="54.1" r="3.3" fill="#cc1510"/>
<circle cx="425.5" cy="57" r="3.3" fill="#cc1510"/>
<circle cx="426.5" cy="59.3" r="3.3" fill="#cc1510"/>
<circle cx="149.8" cy="70.6" r="3.3" fill="#cc1510"/>
<circle cx="164.3" cy="67.4" r="3.3" fill="#cc1510"/>
<circle cx="168.6" cy="72.8" r="3.3" fill="#cc1510"/>
<circle cx="182.1" cy="81.4" r="3.3" fill="#cc1510"/>
<circle cx="172.9" cy="94.3" r="3.3" fill="#cc1510"/>
<circle cx="135.8" cy="98.6" r="3.3" fill="#cc1510"/>
<circle cx="136.3" cy="113.1" r="3.3" fill="#cc1510"/>
<circle cx="141.2" cy="113.1" r="3.3" fill="#cc1510"/>
<circle cx="170.8" cy="107.8" r="3.3" fill="#cc1510"/>
<circle cx="181" cy="108.8" r="3.3" fill="#cc1510"/>
<circle cx="179.9" cy="121.2" r="3.3" fill="#cc1510"/>
<circle cx="187.4" cy="121.8" r="3.3" fill="#cc1510"/>
<circle cx="196.1" cy="122.3" r="3.3" fill="#cc1510"/>
<circle cx="156.2" cy="122.3" r="3.3" fill="#cc1510"/>
<circle cx="220.1" cy="83" r="3.3" fill="#cc1510"/>
<circle cx="212.5" cy="95.9" r="3.3" fill="#cc1510"/>
<circle cx="229.2" cy="87.3" r="3.3" fill="#cc1510"/>
<circle cx="231.9" cy="100.2" r="3.3" fill="#cc1510"/>
<circle cx="241.6" cy="90.5" r="3.3" fill="#cc1510"/>
<circle cx="241.1" cy="101.3" r="3.3" fill="#cc1510"/>
<circle cx="254" cy="111" r="3.3" fill="#cc1510"/>
<circle cx="263.1" cy="109.9" r="3.3" fill="#cc1510"/>
<circle cx="270.7" cy="113.7" r="3.3" fill="#cc1510"/>
<circle cx="280.4" cy="121.8" r="3.3" fill="#cc1510"/>
<circle cx="213.6" cy="120.7" r="3.3" fill="#cc1510"/>
<circle cx="229.8" cy="125" r="3.3" fill="#cc1510"/>
<circle cx="270.7" cy="81.9" r="3.3" fill="#cc1510"/>
<circle cx="284.7" cy="59.3" r="3.3" fill="#cc1510"/>
<circle cx="297.4" cy="84.1" r="3.3" fill="#cc1510"/>
<circle cx="305.5" cy="84.1" r="3.3" fill="#cc1510"/>
<circle cx="311.9" cy="84.6" r="3.3" fill="#cc1510"/>
<circle cx="317.3" cy="79.2" r="3.3" fill="#cc1510"/>
<circle cx="320" cy="85.7" r="3.3" fill="#cc1510"/>
<circle cx="339.9" cy="90" r="3.3" fill="#cc1510"/>
<circle cx="348.5" cy="60.9" r="3.3" fill="#cc1510"/>
<circle cx="358.2" cy="73.3" r="3.3" fill="#cc1510"/>
<circle cx="307.6" cy="111" r="3.3" fill="#cc1510"/>
<circle cx="316.2" cy="113.1" r="3.3" fill="#cc1510"/>
<circle cx="314.1" cy="119.6" r="3.3" fill="#cc1510"/>
<circle cx="349.6" cy="116.4" r="3.3" fill="#cc1510"/>
<circle cx="359.3" cy="113.1" r="3.3" fill="#cc1510"/>
<circle cx="361.4" cy="116.4" r="3.3" fill="#cc1510"/>
<circle cx="286.1" cy="105.6" r="3.3" fill="#cc1510"/>
<circle cx="365.4" cy="56.6" r="3.3" fill="#cc1510"/>
<circle cx="371.8" cy="57.2" r="3.3" fill="#cc1510"/>
<circle cx="375.1" cy="62.5" r="3.3" fill="#cc1510"/>
<circle cx="367.5" cy="65.8" r="3.3" fill="#cc1510"/>
<circle cx="370.8" cy="70.1" r="3.3" fill="#cc1510"/>
<circle cx="386.9" cy="72.2" r="3.3" fill="#cc1510"/>
<circle cx="426.8" cy="59.8" r="3.3" fill="#cc1510"/>
<circle cx="383.7" cy="87.8" r="3.3" fill="#cc1510"/>
<circle cx="378.3" cy="99.1" r="3.3" fill="#cc1510"/>
<circle cx="393.9" cy="96.5" r="3.3" fill="#cc1510"/>
<circle cx="408.5" cy="98.6" r="3.3" fill="#cc1510"/>
<circle cx="418.7" cy="109.9" r="3.3" fill="#cc1510"/>
<circle cx="374" cy="106.7" r="3.3" fill="#cc1510"/>
<circle cx="377.2" cy="112.6" r="3.3" fill="#cc1510"/>
<circle cx="361.1" cy="116.4" r="3.3" fill="#cc1510"/>
<circle cx="407.4" cy="117.4" r="3.3" fill="#cc1510"/>
<circle cx="410.6" cy="119.1" r="3.3" fill="#cc1510"/>
<circle cx="379.4" cy="125.5" r="3.3" fill="#cc1510"/>
<circle cx="392.8" cy="125.5" r="3.3" fill="#cc1510"/>
<circle cx="360.5" cy="73.3" r="3.3" fill="#cc1510"/>
<circle cx="139.2" cy="11.3" r="3.3" fill="#cc1510"/>
<circle cx="265.3" cy="18.4" r="3.3" fill="#cc1510"/>
<circle cx="268.2" cy="21.2" r="3.3" fill="#cc1510"/>
<circle cx="272.4" cy="26.9" r="3.3" fill="#cc1510"/>
<circle cx="276.6" cy="29.7" r="3.3" fill="#cc1510"/>
<circle cx="279.5" cy="31.9" r="3.3" fill="#cc1510"/>
<circle cx="288" cy="36.7" r="3.3" fill="#cc1510"/>
<circle cx="263.9" cy="36.2" r="3.3" fill="#cc1510"/>
<circle cx="269.6" cy="46.6" r="3.3" fill="#cc1510"/>
<circle cx="378.7" cy="16.4" r="3.3" fill="#cc1510"/>
<circle cx="422.5" cy="17.8" r="3.3" fill="#cc1510"/>
<circle cx="354.5" cy="44.7" r="3.3" fill="#cc1510"/>
<circle cx="380.8" cy="32.6" r="3.3" fill="#cc1510"/>
<circle cx="427.9" cy="32.6" r="3.3" fill="#cc1510"/>
<circle cx="388.2" cy="40" r="3.3" fill="#cc1510"/>
<circle cx="402.3" cy="42.7" r="3.3" fill="#cc1510"/>
<circle cx="401" cy="48.7" r="3.3" fill="#cc1510"/>
<circle cx="289.8" cy="94.8" r="3.3" fill="#1b82b3"/>
<circle cx="136.8" cy="109.9" r="3.3" fill="#1b82b3"/>
<circle cx="215.8" cy="125" r="3.3" fill="#1b82b3"/>
<circle cx="219" cy="103.5" r="3.3" fill="#1b82b3"/>
<circle cx="410.6" cy="102.4" r="3.3" fill="#1b82b3"/>
<circle cx="291.5" cy="102.4" r="3.3" fill="#1b82b3"/>
<circle cx="279.3" cy="99.1" r="3.3" fill="#1b82b3"/>
<circle cx="398.9" cy="52.8" r="3.3" fill="#1b82b3"/>
<circle cx="333.5" cy="121.8" r="3.3" fill="#1b82b3"/>
<circle cx="169.7" cy="87.3" r="3.3" fill="#1b82b3"/>
<circle cx="363.2" cy="109.9" r="3.3" fill="#1b82b3"/>
<circle cx="269.6" cy="123.9" r="3.3" fill="#1b82b3"/>
<circle cx="426.8" cy="115.3" r="3.3" fill="#1b82b3"/>
<circle cx="424.5" cy="52.8" r="3.3" fill="#1b82b3"/>
<circle cx="283.6" cy="114.2" r="3.3" fill="#1b82b3"/>
<circle cx="412.8" cy="111" r="3.3" fill="#1b82b3"/>
<circle cx="273.9" cy="56.6" r="3.3" fill="#1b82b3"/>
<circle cx="198.2" cy="126.1" r="3.3" fill="#1b82b3"/>
<circle cx="144.4" cy="65.2" r="3.3" fill="#1b82b3"/>
<circle cx="239.5" cy="128.2" r="3.3" fill="#1b82b3"/>
<circle cx="344.2" cy="108.8" r="3.3" fill="#1b82b3"/>
<circle cx="151.9" cy="97" r="3.3" fill="#1b82b3"/>
<circle cx="192.8" cy="123.9" r="3.3" fill="#1b82b3"/>
<circle cx="278.6" cy="51.6" r="3.3" fill="#1b82b3"/>
<circle cx="202.5" cy="121.8" r="3.3" fill="#1b82b3"/>
<circle cx="250.2" cy="119.6" r="3.3" fill="#1b82b3"/>
<circle cx="188.5" cy="127.1" r="3.3" fill="#1b82b3"/>
<circle cx="208.2" cy="100.2" r="3.3" fill="#1b82b3"/>
<circle cx="305.5" cy="123.9" r="3.3" fill="#1b82b3"/>
<circle cx="221.2" cy="95.9" r="3.3" fill="#1b82b3"/>
<circle cx="222.2" cy="116.4" r="3.3" fill="#1b82b3"/>
<circle cx="243.8" cy="106.7" r="3.3" fill="#1b82b3"/>
<circle cx="157.3" cy="115.3" r="3.3" fill="#1b82b3"/>
<circle cx="400.9" cy="85.7" r="3.3" fill="#1b82b3"/>
<circle cx="394.5" cy="115.3" r="3.3" fill="#1b82b3"/>
<circle cx="413.8" cy="72.2" r="3.3" fill="#1b82b3"/>
<circle cx="193.9" cy="118.5" r="3.3" fill="#1b82b3"/>
<circle cx="222.2" cy="100.2" r="3.3" fill="#1b82b3"/>
<circle cx="325.9" cy="119.6" r="3.3" fill="#1b82b3"/>
<circle cx="286.6" cy="80.8" r="3.3" fill="#1b82b3"/>
<text x="113" y="156" font-size="10" text-anchor="end" fill="#222">VASH1</text>
<g shape-rendering="crispEdges">
<rect x="132" y="141.3" width="1" height="23.4" fill="rgb(47, 115, 150)"/>
<rect x="133" y="141.3" width="1" height="23.4" fill="rgb(136, 72, 61)"/>
<rect x="134" y="141.3" width="1" height="23.4" fill="rgb(49, 113, 147)"/>
<rect x="135" y="141.3" width="2" height="23.4" fill="rgb(53, 111, 143)"/>
<rect x="137" y="141.3" width="1" height="23.4" fill="rgb(73, 96, 112)"/>
<rect x="138" y="141.3" width="1" height="23.4" fill="rgb(82, 92, 104)"/>
<rect x="139" y="141.3" width="2" height="23.4" fill="rgb(83, 91, 102)"/>
<rect x="141" y="141.3" width="1" height="23.4" fill="rgb(37, 121, 163)"/>
<rect x="142" y="141.3" width="1" height="23.4" fill="rgb(38, 121, 162)"/>
<rect x="143" y="141.3" width="2" height="23.4" fill="rgb(75, 95, 110)"/>
<rect x="145" y="141.3" width="2" height="23.4" fill="rgb(73, 96, 111)"/>
<rect x="147" y="141.3" width="1" height="23.4" fill="rgb(53, 111, 143)"/>
<rect x="148" y="141.3" width="2" height="23.4" fill="rgb(80, 93, 105)"/>
<rect x="150" y="141.3" width="1" height="23.4" fill="rgb(136, 71, 61)"/>
<rect x="151" y="141.3" width="1" height="23.4" fill="rgb(163, 56, 42)"/>
<rect x="152" y="141.3" width="2" height="23.4" fill="rgb(84, 91, 101)"/>
<rect x="154" y="141.3" width="1" height="23.4" fill="rgb(54, 111, 141)"/>
<rect x="155" y="141.3" width="2" height="23.4" fill="rgb(75, 95, 110)"/>
<rect x="157" y="141.3" width="1" height="23.4" fill="rgb(80, 93, 106)"/>
<rect x="158" y="141.3" width="1" height="23.4" fill="rgb(142, 68, 57)"/>
<rect x="159" y="141.3" width="2" height="23.4" fill="rgb(85, 90, 101)"/>
<rect x="161" y="141.3" width="1" height="23.4" fill="rgb(83, 91, 103)"/>
<rect x="162" y="141.3" width="2" height="23.4" fill="rgb(51, 112, 145)"/>
<rect x="164" y="141.3" width="1" height="23.4" fill="rgb(72, 96, 112)"/>
<rect x="165" y="141.3" width="2" height="23.4" fill="rgb(43, 118, 156)"/>
<rect x="167" y="141.3" width="1" height="23.4" fill="rgb(141, 69, 58)"/>
<rect x="168" y="141.3" width="1" height="23.4" fill="rgb(37, 121, 163)"/>
<rect x="169" y="141.3" width="2" height="23.4" fill="rgb(73, 96, 112)"/>
<rect x="171" y="141.3" width="1" height="23.4" fill="rgb(74, 95, 110)"/>
<rect x="172" y="141.3" width="1" height="23.4" fill="rgb(55, 110, 140)"/>
<rect x="173" y="141.3" width="1" height="23.4" fill="rgb(77, 94, 108)"/>
<rect x="174" y="141.3" width="1" height="23.4" fill="rgb(81, 92, 105)"/>
<rect x="175" y="141.3" width="1" height="23.4" fill="rgb(41, 119, 158)"/>
<rect x="176" y="141.3" width="1" height="23.4" fill="rgb(73, 96, 111)"/>
<rect x="177" y="141.3" width="2" height="23.4" fill="rgb(41, 119, 158)"/>
<rect x="179" y="141.3" width="1" height="23.4" fill="rgb(74, 95, 110)"/>
<rect x="180" y="141.3" width="2" height="23.4" fill="rgb(51, 112, 145)"/>
<rect x="182" y="141.3" width="1" height="23.4" fill="rgb(70, 97, 114)"/>
<rect x="183" y="141.3" width="2" height="23.4" fill="rgb(71, 97, 113)"/>
<rect x="185" y="141.3" width="2" height="23.4" fill="rgb(47, 115, 150)"/>
<rect x="187" y="141.3" width="1" height="23.4" fill="rgb(78, 93, 107)"/>
<rect x="188" y="141.3" width="1" height="23.4" fill="rgb(51, 113, 146)"/>
<rect x="189" y="141.3" width="1" height="23.4" fill="rgb(80, 93, 105)"/>
<rect x="190" y="141.3" width="1" height="23.4" fill="rgb(145, 66, 55)"/>
<rect x="191" y="141.3" width="1" height="23.4" fill="rgb(165, 55, 40)"/>
<rect x="192" y="141.3" width="1" height="23.4" fill="rgb(157, 60, 46)"/>
<rect x="193" y="141.3" width="2" height="23.4" fill="rgb(83, 91, 103)"/>
<rect x="195" y="141.3" width="1" height="23.4" fill="rgb(42, 118, 157)"/>
<rect x="196" y="141.3" width="1" height="23.4" fill="rgb(150, 64, 51)"/>
<rect x="197" y="141.3" width="2" height="23.4" fill="rgb(51, 112, 145)"/>
<rect x="199" y="141.3" width="1" height="23.4" fill="rgb(71, 96, 113)"/>
<rect x="200" y="141.3" width="2" height="23.4" fill="rgb(55, 110, 140)"/>
<rect x="202" y="141.3" width="2" height="23.4" fill="rgb(42, 118, 157)"/>
<rect x="204" y="141.3" width="2" height="23.4" fill="rgb(70, 97, 114)"/>
<rect x="206" y="141.3" width="1" height="23.4" fill="rgb(44, 117, 155)"/>
<rect x="207" y="141.3" width="1" height="23.4" fill="rgb(72, 96, 112)"/>
<rect x="208" y="141.3" width="1" height="23.4" fill="rgb(77, 94, 108)"/>
<rect x="209" y="141.3" width="1" height="23.4" fill="rgb(39, 120, 161)"/>
<rect x="210" y="141.3" width="1" height="23.4" fill="rgb(76, 94, 109)"/>
<rect x="211" y="141.3" width="1" height="23.4" fill="rgb(46, 116, 152)"/>
<rect x="212" y="141.3" width="1" height="23.4" fill="rgb(83, 91, 103)"/>
<rect x="213" y="141.3" width="2" height="23.4" fill="rgb(71, 97, 113)"/>
<rect x="215" y="141.3" width="1" height="23.4" fill="rgb(80, 93, 105)"/>
<rect x="216" y="141.3" width="1" height="23.4" fill="rgb(83, 91, 102)"/>
<rect x="217" y="141.3" width="1" height="23.4" fill="rgb(80, 93, 105)"/>
<rect x="218" y="141.3" width="1" height="23.4" fill="rgb(40, 119, 160)"/>
<rect x="219" y="141.3" width="1" height="23.4" fill="rgb(76, 94, 109)"/>
<rect x="220" y="141.3" width="1" height="23.4" fill="rgb(84, 91, 101)"/>
<rect x="221" y="141.3" width="2" height="23.4" fill="rgb(81, 92, 105)"/>
<rect x="223" y="141.3" width="2" height="23.4" fill="rgb(46, 115, 151)"/>
<rect x="225" y="141.3" width="1" height="23.4" fill="rgb(75, 95, 110)"/>
<rect x="226" y="141.3" width="2" height="23.4" fill="rgb(77, 94, 108)"/>
<rect x="228" y="141.3" width="1" height="23.4" fill="rgb(55, 110, 140)"/>
<rect x="229" y="141.3" width="2" height="23.4" fill="rgb(82, 92, 103)"/>
<rect x="231" y="141.3" width="1" height="23.4" fill="rgb(76, 94, 108)"/>
<rect x="232" y="141.3" width="1" height="23.4" fill="rgb(38, 121, 163)"/>
<rect x="233" y="141.3" width="1" height="23.4" fill="rgb(71, 97, 113)"/>
<rect x="234" y="141.3" width="1" height="23.4" fill="rgb(157, 60, 46)"/>
<rect x="235" y="141.3" width="2" height="23.4" fill="rgb(37, 121, 164)"/>
<rect x="237" y="141.3" width="1" height="23.4" fill="rgb(83, 92, 103)"/>
<rect x="238" y="141.3" width="1" height="23.4" fill="rgb(82, 92, 104)"/>
<rect x="239" y="141.3" width="1" height="23.4" fill="rgb(78, 94, 107)"/>
<rect x="240" y="141.3" width="2" height="23.4" fill="rgb(74, 95, 111)"/>
<rect x="242" y="141.3" width="2" height="23.4" fill="rgb(42, 118, 157)"/>
<rect x="244" y="141.3" width="2" height="23.4" fill="rgb(39, 120, 161)"/>
<rect x="246" y="141.3" width="1" height="23.4" fill="rgb(79, 93, 106)"/>
<rect x="247" y="141.3" width="1" height="23.4" fill="rgb(39, 120, 160)"/>
<rect x="248" y="141.3" width="2" height="23.4" fill="rgb(75, 95, 109)"/>
<rect x="250" y="141.3" width="1" height="23.4" fill="rgb(72, 96, 112)"/>
<rect x="251" y="141.3" width="2" height="23.4" fill="rgb(53, 112, 143)"/>
<rect x="253" y="141.3" width="2" height="23.4" fill="rgb(84, 91, 101)"/>
<rect x="255" y="141.3" width="2" height="23.4" fill="rgb(76, 94, 108)"/>
<rect x="257" y="141.3" width="2" height="23.4" fill="rgb(79, 93, 106)"/>
<rect x="259" y="141.3" width="2" height="23.4" fill="rgb(40, 119, 159)"/>
<rect x="261" y="141.3" width="2" height="23.4" fill="rgb(83, 91, 103)"/>
<rect x="263" y="141.3" width="2" height="23.4" fill="rgb(84, 91, 102)"/>
<rect x="265" y="141.3" width="2" height="23.4" fill="rgb(74, 95, 111)"/>
<rect x="267" y="141.3" width="1" height="23.4" fill="rgb(46, 116, 152)"/>
<rect x="268" y="141.3" width="1" height="23.4" fill="rgb(80, 92, 105)"/>
<rect x="269" y="141.3" width="1" height="23.4" fill="rgb(152, 62, 50)"/>
<rect x="270" y="141.3" width="1" height="23.4" fill="rgb(46, 116, 152)"/>
<rect x="271" y="141.3" width="2" height="23.4" fill="rgb(73, 96, 111)"/>
<rect x="273" y="141.3" width="2" height="23.4" fill="rgb(51, 112, 145)"/>
<rect x="275" y="141.3" width="2" height="23.4" fill="rgb(80, 93, 105)"/>
<rect x="277" y="141.3" width="2" height="23.4" fill="rgb(36, 122, 165)"/>
<rect x="279" y="141.3" width="2" height="23.4" fill="rgb(47, 115, 150)"/>
<rect x="281" y="141.3" width="1" height="23.4" fill="rgb(50, 113, 147)"/>
<rect x="282" y="141.3" width="1" height="23.4" fill="rgb(71, 97, 113)"/>
<rect x="283" y="141.3" width="1" height="23.4" fill="rgb(37, 121, 164)"/>
<rect x="284" y="141.3" width="1" height="23.4" fill="rgb(152, 63, 50)"/>
<rect x="285" y="141.3" width="2" height="23.4" fill="rgb(40, 120, 160)"/>
<rect x="287" y="141.3" width="1" height="23.4" fill="rgb(77, 94, 108)"/>
<rect x="288" y="141.3" width="2" height="23.4" fill="rgb(48, 114, 149)"/>
<rect x="290" y="141.3" width="2" height="23.4" fill="rgb(70, 97, 114)"/>
<rect x="292" y="141.3" width="1" height="23.4" fill="rgb(50, 113, 146)"/>
<rect x="293" y="141.3" width="2" height="23.4" fill="rgb(41, 119, 158)"/>
<rect x="295" y="141.3" width="1" height="23.4" fill="rgb(145, 66, 55)"/>
<rect x="296" y="141.3" width="1" height="23.4" fill="rgb(84, 91, 102)"/>
<rect x="297" y="141.3" width="2" height="23.4" fill="rgb(44, 117, 154)"/>
<rect x="299" y="141.3" width="1" height="23.4" fill="rgb(85, 91, 101)"/>
<rect x="300" y="141.3" width="1" height="23.4" fill="rgb(39, 120, 161)"/>
<rect x="301" y="141.3" width="2" height="23.4" fill="rgb(73, 96, 112)"/>
<rect x="303" y="141.3" width="1" height="23.4" fill="rgb(47, 115, 150)"/>
<rect x="304" y="141.3" width="2" height="23.4" fill="rgb(81, 92, 104)"/>
<rect x="306" y="141.3" width="1" height="23.4" fill="rgb(36, 122, 165)"/>
<rect x="307" y="141.3" width="2" height="23.4" fill="rgb(79, 93, 106)"/>
<rect x="309" y="141.3" width="2" height="23.4" fill="rgb(47, 115, 150)"/>
<rect x="311" y="141.3" width="1" height="23.4" fill="rgb(70, 97, 114)"/>
<rect x="312" y="141.3" width="2" height="23.4" fill="rgb(55, 110, 141)"/>
<rect x="314" y="141.3" width="1" height="23.4" fill="rgb(136, 71, 61)"/>
<rect x="315" y="141.3" width="1" height="23.4" fill="rgb(81, 92, 104)"/>
<rect x="316" y="141.3" width="1" height="23.4" fill="rgb(153, 62, 49)"/>
<rect x="317" y="141.3" width="1" height="23.4" fill="rgb(83, 91, 103)"/>
<rect x="318" y="141.3" width="2" height="23.4" fill="rgb(81, 92, 104)"/>
<rect x="320" y="141.3" width="1" height="23.4" fill="rgb(38, 121, 162)"/>
<rect x="321" y="141.3" width="1" height="23.4" fill="rgb(50, 113, 146)"/>
<rect x="322" y="141.3" width="1" height="23.4" fill="rgb(75, 95, 110)"/>
<rect x="323" y="141.3" width="2" height="23.4" fill="rgb(80, 92, 105)"/>
<rect x="325" y="141.3" width="1" height="23.4" fill="rgb(36, 122, 164)"/>
<rect x="326" y="141.3" width="2" height="23.4" fill="rgb(82, 92, 103)"/>
<rect x="328" y="141.3" width="2" height="23.4" fill="rgb(78, 94, 107)"/>
<rect x="330" y="141.3" width="1" height="23.4" fill="rgb(44, 117, 155)"/>
<rect x="331" y="141.3" width="1" height="23.4" fill="rgb(78, 94, 107)"/>
<rect x="332" y="141.3" width="1" height="23.4" fill="rgb(52, 112, 143)"/>
<rect x="333" y="141.3" width="1" height="23.4" fill="rgb(77, 94, 108)"/>
<rect x="334" y="141.3" width="2" height="23.4" fill="rgb(71, 97, 113)"/>
<rect x="336" y="141.3" width="1" height="23.4" fill="rgb(51, 112, 145)"/>
<rect x="337" y="141.3" width="2" height="23.4" fill="rgb(85, 90, 101)"/>
<rect x="339" y="141.3" width="2" height="23.4" fill="rgb(51, 112, 145)"/>
<rect x="341" y="141.3" width="1" height="23.4" fill="rgb(85, 90, 101)"/>
<rect x="342" y="141.3" width="1" height="23.4" fill="rgb(79, 93, 106)"/>
<rect x="343" y="141.3" width="1" height="23.4" fill="rgb(44, 117, 155)"/>
<rect x="344" y="141.3" width="1" height="23.4" fill="rgb(77, 94, 108)"/>
<rect x="345" y="141.3" width="2" height="23.4" fill="rgb(44, 117, 154)"/>
<rect x="347" y="141.3" width="1" height="23.4" fill="rgb(84, 91, 102)"/>
<rect x="348" y="141.3" width="2" height="23.4" fill="rgb(47, 115, 150)"/>
<rect x="350" y="141.3" width="2" height="23.4" fill="rgb(76, 95, 109)"/>
<rect x="352" y="141.3" width="2" height="23.4" fill="rgb(77, 94, 108)"/>
<rect x="354" y="141.3" width="2" height="23.4" fill="rgb(51, 113, 146)"/>
<rect x="356" y="141.3" width="1" height="23.4" fill="rgb(80, 93, 105)"/>
<rect x="357" y="141.3" width="2" height="23.4" fill="rgb(50, 113, 146)"/>
<rect x="359" y="141.3" width="2" height="23.4" fill="rgb(74, 95, 111)"/>
<rect x="361" y="141.3" width="1" height="23.4" fill="rgb(40, 119, 159)"/>
<rect x="362" y="141.3" width="1" height="23.4" fill="rgb(55, 110, 140)"/>
<rect x="363" y="141.3" width="1" height="23.4" fill="rgb(76, 94, 109)"/>
<rect x="364" y="141.3" width="1" height="23.4" fill="rgb(77, 94, 108)"/>
<rect x="365" y="141.3" width="2" height="23.4" fill="rgb(74, 95, 110)"/>
<rect x="367" y="141.3" width="1" height="23.4" fill="rgb(52, 112, 144)"/>
<rect x="368" y="141.3" width="2" height="23.4" fill="rgb(80, 93, 105)"/>
<rect x="370" y="141.3" width="1" height="23.4" fill="rgb(143, 68, 56)"/>
<rect x="371" y="141.3" width="1" height="23.4" fill="rgb(41, 119, 159)"/>
<rect x="372" y="141.3" width="1" height="23.4" fill="rgb(80, 92, 105)"/>
<rect x="373" y="141.3" width="1" height="23.4" fill="rgb(84, 91, 102)"/>
<rect x="374" y="141.3" width="2" height="23.4" fill="rgb(77, 94, 108)"/>
<rect x="376" y="141.3" width="1" height="23.4" fill="rgb(84, 91, 101)"/>
<rect x="377" y="141.3" width="2" height="23.4" fill="rgb(80, 93, 105)"/>
<rect x="379" y="141.3" width="1" height="23.4" fill="rgb(36, 122, 165)"/>
<rect x="380" y="141.3" width="2" height="23.4" fill="rgb(84, 91, 102)"/>
<rect x="382" y="141.3" width="1" height="23.4" fill="rgb(45, 116, 153)"/>
<rect x="383" y="141.3" width="1" height="23.4" fill="rgb(151, 63, 50)"/>
<rect x="384" y="141.3" width="2" height="23.4" fill="rgb(85, 90, 101)"/>
<rect x="386" y="141.3" width="2" height="23.4" fill="rgb(46, 116, 151)"/>
<rect x="388" y="141.3" width="2" height="23.4" fill="rgb(83, 91, 103)"/>
<rect x="390" y="141.3" width="1" height="23.4" fill="rgb(54, 111, 141)"/>
<rect x="391" y="141.3" width="1" height="23.4" fill="rgb(78, 93, 107)"/>
<rect x="392" y="141.3" width="2" height="23.4" fill="rgb(80, 93, 105)"/>
<rect x="394" y="141.3" width="1" height="23.4" fill="rgb(36, 122, 165)"/>
<rect x="395" y="141.3" width="2" height="23.4" fill="rgb(81, 92, 105)"/>
<rect x="397" y="141.3" width="2" height="23.4" fill="rgb(44, 117, 155)"/>
<rect x="399" y="141.3" width="1" height="23.4" fill="rgb(54, 110, 141)"/>
<rect x="400" y="141.3" width="1" height="23.4" fill="rgb(82, 92, 103)"/>
<rect x="401" y="141.3" width="1" height="23.4" fill="rgb(40, 119, 159)"/>
<rect x="402" y="141.3" width="2" height="23.4" fill="rgb(83, 91, 103)"/>
<rect x="404" y="141.3" width="1" height="23.4" fill="rgb(46, 115, 151)"/>
<rect x="405" y="141.3" width="1" height="23.4" fill="rgb(83, 92, 103)"/>
<rect x="406" y="141.3" width="1" height="23.4" fill="rgb(41, 119, 159)"/>
<rect x="407" y="141.3" width="2" height="23.4" fill="rgb(83, 91, 103)"/>
<rect x="409" y="141.3" width="2" height="23.4" fill="rgb(75, 95, 110)"/>
<rect x="411" y="141.3" width="2" height="23.4" fill="rgb(81, 92, 105)"/>
<rect x="413" y="141.3" width="1" height="23.4" fill="rgb(43, 117, 155)"/>
<rect x="414" y="141.3" width="1" height="23.4" fill="rgb(51, 113, 145)"/>
<rect x="415" y="141.3" width="1" height="23.4" fill="rgb(79, 93, 106)"/>
<rect x="416" y="141.3" width="2" height="23.4" fill="rgb(42, 118, 158)"/>
<rect x="418" y="141.3" width="2" height="23.4" fill="rgb(74, 95, 111)"/>
<rect x="420" y="141.3" width="2" height="23.4" fill="rgb(53, 111, 142)"/>
<rect x="422" y="141.3" width="1" height="23.4" fill="rgb(48, 115, 150)"/>
<rect x="423" y="141.3" width="1" height="23.4" fill="rgb(51, 113, 145)"/>
<rect x="424" y="141.3" width="2" height="23.4" fill="rgb(78, 93, 107)"/>
<rect x="426" y="141.3" width="1" height="23.4" fill="rgb(38, 121, 162)"/>
<rect x="427" y="141.3" width="1" height="23.4" fill="rgb(78, 94, 107)"/>
</g>
<defs><linearGradient id="cb" x1="0" x2="1" y1="0" y2="0"><stop offset="0" stop-color="rgb(26,134,181)"/><stop offset="0.22" stop-color="rgb(62,104,128)"/><stop offset="0.33" stop-color="rgb(90,88,96)"/><stop offset="0.466" stop-color="rgb(125,72,65)"/><stop offset="0.71" stop-color="rgb(178,40,26)"/><stop offset="1" stop-color="rgb(212,24,14)"/></linearGradient></defs>
<rect x="211" y="175.1" width="143" height="17.5" fill="url(#cb)"/>
<line x1="242.3" y1="175.1" x2="242.3" y2="178.6" stroke="#fff" stroke-width="0.8"/>
<line x1="242.3" y1="189.1" x2="242.3" y2="192.6" stroke="#fff" stroke-width="0.8"/>
<text x="242.3" y="207.8" font-size="9.8" text-anchor="middle" fill="#222">25</text>
<line x1="277.6" y1="175.1" x2="277.6" y2="178.6" stroke="#fff" stroke-width="0.8"/>
<line x1="277.6" y1="189.1" x2="277.6" y2="192.6" stroke="#fff" stroke-width="0.8"/>
<text x="277.6" y="207.8" font-size="9.8" text-anchor="middle" fill="#222">50</text>
<line x1="312.9" y1="175.1" x2="312.9" y2="178.6" stroke="#fff" stroke-width="0.8"/>
<line x1="312.9" y1="189.1" x2="312.9" y2="192.6" stroke="#fff" stroke-width="0.8"/>
<text x="312.9" y="207.8" font-size="9.8" text-anchor="middle" fill="#222">75</text>
<line x1="348.2" y1="175.1" x2="348.2" y2="178.6" stroke="#fff" stroke-width="0.8"/>
<line x1="348.2" y1="189.1" x2="348.2" y2="192.6" stroke="#fff" stroke-width="0.8"/>
<text x="348.2" y="207.8" font-size="9.8" text-anchor="middle" fill="#222">100</text>
<text x="128.1" y="240.9" font-size="10.2" text-anchor="start" fill="#1a1a1a">Status</text>
<circle cx="131" cy="261.3" r="3.2" fill="#1b82b3"/>
<circle cx="131" cy="284" r="3.2" fill="#cc1510"/>
<text x="145" y="264.5" font-size="10" text-anchor="start" fill="#1a1a1a">1</text>
<text x="144.5" y="287.3" font-size="10" text-anchor="start" fill="#1a1a1a">0</text>
<line x1="496.5" y1="0" x2="496.5" y2="188.8" stroke="#000" stroke-width="1.4"/>
<line x1="496" y1="188.3" x2="672.6" y2="188.3" stroke="#000" stroke-width="1.4"/>
<line x1="491.8" y1="8.7" x2="496.5" y2="8.7" stroke="#000" stroke-width="1.4"/>
<text x="486" y="11.7" font-size="9.8" text-anchor="end" fill="#222">1.0</text>
<line x1="491.8" y1="42.9" x2="496.5" y2="42.9" stroke="#000" stroke-width="1.4"/>
<text x="486" y="45.9" font-size="9.8" text-anchor="end" fill="#222">0.8</text>
<line x1="491.8" y1="77.1" x2="496.5" y2="77.1" stroke="#000" stroke-width="1.4"/>
<text x="486" y="80.1" font-size="9.8" text-anchor="end" fill="#222">0.6</text>
<line x1="491.8" y1="111.2" x2="496.5" y2="111.2" stroke="#000" stroke-width="1.4"/>
<text x="486" y="114.2" font-size="9.8" text-anchor="end" fill="#222">0.4</text>
<line x1="491.8" y1="145.4" x2="496.5" y2="145.4" stroke="#000" stroke-width="1.4"/>
<text x="486" y="148.4" font-size="9.8" text-anchor="end" fill="#222">0.2</text>
<line x1="491.8" y1="179.6" x2="496.5" y2="179.6" stroke="#000" stroke-width="1.4"/>
<text x="486" y="182.6" font-size="9.8" text-anchor="end" fill="#222">0.0</text>
<line x1="504.6" y1="188.3" x2="504.6" y2="193" stroke="#000" stroke-width="1.4"/>
<text x="504.6" y="207.8" font-size="9.8" text-anchor="middle" fill="#222">0</text>
<line x1="536.6" y1="188.3" x2="536.6" y2="193" stroke="#000" stroke-width="1.4"/>
<text x="536.6" y="207.8" font-size="9.8" text-anchor="middle" fill="#222">1000</text>
<line x1="568.7" y1="188.3" x2="568.7" y2="193" stroke="#000" stroke-width="1.4"/>
<text x="568.7" y="207.8" font-size="9.8" text-anchor="middle" fill="#222">2000</text>
<line x1="600.7" y1="188.3" x2="600.7" y2="193" stroke="#000" stroke-width="1.4"/>
<text x="600.7" y="207.8" font-size="9.8" text-anchor="middle" fill="#222">3000</text>
<line x1="632.7" y1="188.3" x2="632.7" y2="193" stroke="#000" stroke-width="1.4"/>
<text x="632.7" y="207.8" font-size="9.8" text-anchor="middle" fill="#222">4000</text>
<line x1="664.8" y1="188.3" x2="664.8" y2="193" stroke="#000" stroke-width="1.4"/>
<text x="664.8" y="207.8" font-size="9.8" text-anchor="middle" fill="#222">5000</text>
<text x="0" y="0" font-size="10.2" text-anchor="middle" fill="#1a1a1a" transform="translate(459.5,95.8) rotate(-90)">Survival probability</text>
<text x="582.3" y="230.4" font-size="10.2" text-anchor="middle" fill="#1a1a1a">Time</text>
<path d="M504.6 8.4 H505.8 V9.5 H507.0 V10.6 H508.3 V11.8 H509.5 V12.9 H510.7 V14.0 H511.4 V15.5 H512.0 V17.1 H512.7 V18.6 H513.4 V20.1 H514.0 V21.6 H514.7 V23.1 H515.3 V24.7 H516.0 V26.2 H517.0 V27.6 H518.1 V29.0 H519.1 V30.4 H520.2 V31.8 H521.2 V33.2 H522.2 V34.5 H523.2 V35.7 H524.2 V37.0 H525.2 V38.2 H526.2 V39.5 H527.2 V40.7 H528.2 V42.0 H529.3 V43.3 H530.4 V44.6 H531.5 V45.9 H532.6 V47.2 H533.7 V48.6 H534.8 V49.9 H535.9 V51.2 H537.0 V52.5 H538.2 V53.7 H539.3 V54.8 H540.5 V56.0 H541.7 V57.2 H542.8 V58.3 H544.0 V59.5 H545.2 V60.7 H546.3 V61.8 H547.5 V63.0 H548.8 V64.1 H550.1 V65.2 H551.4 V66.3 H552.8 V67.3 H554.1 V68.4 H555.4 V69.5 H556.7 V70.6 H558.0 V71.7 H559.7 V72.2 H561.5 V72.7 H563.2 V73.2 H565.0 V73.7 H566.7 V74.2 H568.5 V74.7 H570.2 V75.2 H572.0 V75.9 H573.7 V76.6 H575.5 V77.3 H577.2 V78.0 H579.0 V78.7 H580.3 V79.7 H581.6 V80.7 H582.9 V81.7 H584.2 V82.7 H585.6 V83.6 H586.9 V84.6 H588.2 V85.6 H589.5 V86.6 H591.2 V86.9 H593.0 V87.2 H594.8 V87.5 H596.5 V87.8 H598.2 V88.1 H600.0 V88.4 H601.5 V89.3 H602.9 V90.1 H604.4 V91.0 H605.8 V91.9 H607.2 V92.7 H608.7 V93.6 H610.0 V94.9 H611.4 V96.3 H612.7 V97.7 H614.0 V99.0 H615.8 V99.8 H617.5 V100.6 H619.1 V100.6 H620.8 V100.6 H622.4 V100.6 H624.0 V100.6 H625.7 V100.6 H627.3 V100.6 H628.9 V100.6 H630.6 V100.6 H632.2 V100.6 H633.8 V100.6 H635.5 V100.6 H637.1 V100.6 H638.8 V100.6 H640.4 V100.6 H642.0 V100.6 H643.7 V100.6 H645.3 V100.6 H646.9 V100.6 H648.6 V100.6 H650.2 V100.6 H651.8 V100.6 H653.5 V100.6 H655.1 V100.6 H656.7 V100.6 H658.4 V100.6 H660.0 V100.6" fill="none" stroke="#2a88b8" stroke-width="1.5"/>
<path d="M504.6 8.4 H505.5 V9.9 H506.4 V11.3 H507.2 V12.8 H508.1 V14.2 H509.0 V15.7 H509.6 V17.3 H510.2 V18.8 H510.7 V20.4 H511.3 V21.9 H511.9 V23.5 H512.5 V25.0 H513.0 V26.6 H513.6 V28.1 H514.2 V29.7 H514.9 V31.2 H515.5 V32.8 H516.2 V34.3 H516.9 V35.9 H517.5 V37.4 H518.2 V38.9 H518.8 V40.5 H519.5 V42.0 H520.1 V43.5 H520.8 V45.0 H521.5 V46.6 H522.1 V48.1 H522.8 V49.6 H523.4 V51.2 H524.1 V52.7 H524.7 V54.2 H525.6 V55.7 H526.5 V57.3 H527.3 V58.8 H528.2 V60.4 H529.1 V61.9 H530.0 V63.4 H530.8 V65.0 H531.7 V66.5 H532.9 V67.7 H534.0 V68.8 H535.2 V70.0 H536.4 V71.2 H537.5 V72.3 H538.7 V73.5 H540.0 V74.7 H541.2 V76.0 H542.5 V77.2 H543.7 V78.5 H545.0 V79.7 H546.2 V81.0 H547.5 V82.2 H549.0 V83.4 H550.4 V84.5 H551.9 V85.7 H553.3 V86.9 H554.8 V88.0 H556.2 V89.2 H557.7 V89.8 H559.2 V90.5 H560.7 V91.1 H562.2 V91.7 H563.7 V92.3 H565.2 V93.0 H566.7 V93.6 H568.2 V94.5 H569.8 V95.3 H571.3 V96.2 H572.9 V97.1 H574.4 V98.0 H575.9 V98.8 H577.5 V99.7 H579.0 V100.6 H580.2 V101.8 H581.3 V102.9 H582.5 V104.1 H583.7 V105.3 H584.8 V106.4 H586.0 V107.6 H587.2 V108.8 H588.3 V109.9 H589.5 V111.1 H591.2 V111.7 H593.0 V112.3 H594.8 V112.8 H596.5 V113.4 H598.2 V114.0 H600.0 V114.6 H601.7 V115.3 H603.5 V116.0 H605.2 V116.7 H607.0 V117.4 H608.7 V118.1 H610.5 V118.8 H612.2 V119.4 H614.0 V120.0 H615.7 V120.7 H617.5 V120.8 H619.2 V120.9 H621.0 V121.0 H621.0 V122.7 H621.0 V124.3 H621.0 V126.0 H622.7 V126.0 H624.3 V126.0 H626.0 V126.0 H627.6 V126.0 H629.3 V126.0 H630.9 V126.0 H632.6 V126.0 H634.3 V126.0 H635.9 V126.0 H637.6 V126.0 H639.2 V126.0 H640.9 V126.0 H642.5 V126.0 H644.2 V126.0 H645.9 V126.0 H647.5 V126.0 H649.2 V126.0 H650.8 V126.0 H652.5 V126.0 H654.1 V126.0 H655.8 V126.0 H657.5 V126.0 H659.1 V126.0 H660.8 V126.0 H662.4 V126.0 H664.1 V126.0 H665.7 V126.0 H667.4 V126.0" fill="none" stroke="#d42a20" stroke-width="1.5"/>
<line x1="507.6" y1="8" x2="507.6" y2="14.4" stroke="#2a88b8" stroke-width="1.1"/>
<line x1="506" y1="11.2" x2="509.2" y2="11.2" stroke="#2a88b8" stroke-width="1.2"/>
<line x1="508.4" y1="8.7" x2="508.4" y2="15.1" stroke="#2a88b8" stroke-width="1.1"/>
<line x1="506.8" y1="11.9" x2="510" y2="11.9" stroke="#2a88b8" stroke-width="1.2"/>
<line x1="508.4" y1="8.7" x2="508.4" y2="15.1" stroke="#2a88b8" stroke-width="1.1"/>
<line x1="506.8" y1="11.9" x2="510" y2="11.9" stroke="#2a88b8" stroke-width="1.2"/>
<line x1="510.1" y1="10.1" x2="510.1" y2="16.5" stroke="#2a88b8" stroke-width="1.1"/>
<line x1="508.5" y1="13.3" x2="511.7" y2="13.3" stroke="#2a88b8" stroke-width="1.2"/>
<line x1="510.7" y1="10.8" x2="510.7" y2="17.2" stroke="#2a88b8" stroke-width="1.1"/>
<line x1="509.1" y1="14" x2="512.3" y2="14" stroke="#2a88b8" stroke-width="1.2"/>
<line x1="511.5" y1="12.7" x2="511.5" y2="19.1" stroke="#2a88b8" stroke-width="1.1"/>
<line x1="509.9" y1="15.9" x2="513.1" y2="15.9" stroke="#2a88b8" stroke-width="1.2"/>
<line x1="511.5" y1="12.7" x2="511.5" y2="19.1" stroke="#2a88b8" stroke-width="1.1"/>
<line x1="509.9" y1="15.9" x2="513.1" y2="15.9" stroke="#2a88b8" stroke-width="1.2"/>
<line x1="512.3" y1="14.6" x2="512.3" y2="21" stroke="#2a88b8" stroke-width="1.1"/>
<line x1="510.7" y1="17.8" x2="513.9" y2="17.8" stroke="#2a88b8" stroke-width="1.2"/>
<line x1="513.2" y1="16.4" x2="513.2" y2="22.8" stroke="#2a88b8" stroke-width="1.1"/>
<line x1="511.6" y1="19.6" x2="514.8" y2="19.6" stroke="#2a88b8" stroke-width="1.2"/>
<line x1="515.9" y1="22.5" x2="515.9" y2="28.9" stroke="#2a88b8" stroke-width="1.1"/>
<line x1="514.3" y1="25.7" x2="517.5" y2="25.7" stroke="#2a88b8" stroke-width="1.2"/>
<line x1="516.4" y1="23.4" x2="516.4" y2="29.8" stroke="#2a88b8" stroke-width="1.1"/>
<line x1="514.8" y1="26.6" x2="518" y2="26.6" stroke="#2a88b8" stroke-width="1.2"/>
<line x1="517.2" y1="24.6" x2="517.2" y2="31" stroke="#2a88b8" stroke-width="1.1"/>
<line x1="515.6" y1="27.8" x2="518.8" y2="27.8" stroke="#2a88b8" stroke-width="1.2"/>
<line x1="517.2" y1="24.6" x2="517.2" y2="31" stroke="#2a88b8" stroke-width="1.1"/>
<line x1="515.6" y1="27.8" x2="518.8" y2="27.8" stroke="#2a88b8" stroke-width="1.2"/>
<line x1="518" y1="25.5" x2="518" y2="31.9" stroke="#2a88b8" stroke-width="1.1"/>
<line x1="516.4" y1="28.7" x2="519.6" y2="28.7" stroke="#2a88b8" stroke-width="1.2"/>
<line x1="518.9" y1="27.1" x2="518.9" y2="33.5" stroke="#2a88b8" stroke-width="1.1"/>
<line x1="517.3" y1="30.3" x2="520.5" y2="30.3" stroke="#2a88b8" stroke-width="1.2"/>
<line x1="520" y1="28.4" x2="520" y2="34.8" stroke="#2a88b8" stroke-width="1.1"/>
<line x1="518.4" y1="31.6" x2="521.6" y2="31.6" stroke="#2a88b8" stroke-width="1.2"/>
<line x1="521.1" y1="30" x2="521.1" y2="36.4" stroke="#2a88b8" stroke-width="1.1"/>
<line x1="519.5" y1="33.2" x2="522.7" y2="33.2" stroke="#2a88b8" stroke-width="1.2"/>
<line x1="521.2" y1="30" x2="521.2" y2="36.4" stroke="#2a88b8" stroke-width="1.1"/>
<line x1="519.6" y1="33.2" x2="522.8" y2="33.2" stroke="#2a88b8" stroke-width="1.2"/>
<line x1="522.5" y1="31.6" x2="522.5" y2="38" stroke="#2a88b8" stroke-width="1.1"/>
<line x1="520.9" y1="34.8" x2="524.1" y2="34.8" stroke="#2a88b8" stroke-width="1.2"/>
<line x1="523.2" y1="32.4" x2="523.2" y2="38.8" stroke="#2a88b8" stroke-width="1.1"/>
<line x1="521.6" y1="35.6" x2="524.8" y2="35.6" stroke="#2a88b8" stroke-width="1.2"/>
<line x1="523.5" y1="32.8" x2="523.5" y2="39.2" stroke="#2a88b8" stroke-width="1.1"/>
<line x1="521.9" y1="36" x2="525.1" y2="36" stroke="#2a88b8" stroke-width="1.2"/>
<line x1="525.1" y1="34.8" x2="525.1" y2="41.2" stroke="#2a88b8" stroke-width="1.1"/>
<line x1="523.5" y1="38" x2="526.7" y2="38" stroke="#2a88b8" stroke-width="1.2"/>
<line x1="525.6" y1="35.6" x2="525.6" y2="42" stroke="#2a88b8" stroke-width="1.1"/>
<line x1="524" y1="38.8" x2="527.2" y2="38.8" stroke="#2a88b8" stroke-width="1.2"/>
<line x1="526.7" y1="36.8" x2="526.7" y2="43.2" stroke="#2a88b8" stroke-width="1.1"/>
<line x1="525.1" y1="40" x2="528.3" y2="40" stroke="#2a88b8" stroke-width="1.2"/>
<line x1="527.5" y1="38" x2="527.5" y2="44.4" stroke="#2a88b8" stroke-width="1.1"/>
<line x1="525.9" y1="41.2" x2="529.1" y2="41.2" stroke="#2a88b8" stroke-width="1.2"/>
<line x1="528" y1="38.4" x2="528" y2="44.8" stroke="#2a88b8" stroke-width="1.1"/>
<line x1="526.4" y1="41.6" x2="529.6" y2="41.6" stroke="#2a88b8" stroke-width="1.2"/>
<line x1="528.9" y1="39.6" x2="528.9" y2="46" stroke="#2a88b8" stroke-width="1.1"/>
<line x1="527.3" y1="42.8" x2="530.5" y2="42.8" stroke="#2a88b8" stroke-width="1.2"/>
<line x1="530.2" y1="41.1" x2="530.2" y2="47.5" stroke="#2a88b8" stroke-width="1.1"/>
<line x1="528.6" y1="44.3" x2="531.8" y2="44.3" stroke="#2a88b8" stroke-width="1.2"/>
<line x1="531.4" y1="42.7" x2="531.4" y2="49.1" stroke="#2a88b8" stroke-width="1.1"/>
<line x1="529.8" y1="45.9" x2="533" y2="45.9" stroke="#2a88b8" stroke-width="1.2"/>
<line x1="535.3" y1="47.4" x2="535.3" y2="53.8" stroke="#2a88b8" stroke-width="1.1"/>
<line x1="533.7" y1="50.6" x2="536.9" y2="50.6" stroke="#2a88b8" stroke-width="1.2"/>
<line x1="535.9" y1="48.1" x2="535.9" y2="54.5" stroke="#2a88b8" stroke-width="1.1"/>
<line x1="534.3" y1="51.3" x2="537.5" y2="51.3" stroke="#2a88b8" stroke-width="1.2"/>
<line x1="539.8" y1="52.2" x2="539.8" y2="58.6" stroke="#2a88b8" stroke-width="1.1"/>
<line x1="538.2" y1="55.4" x2="541.4" y2="55.4" stroke="#2a88b8" stroke-width="1.2"/>
<line x1="540.4" y1="52.6" x2="540.4" y2="59" stroke="#2a88b8" stroke-width="1.1"/>
<line x1="538.8" y1="55.8" x2="542" y2="55.8" stroke="#2a88b8" stroke-width="1.2"/>
<line x1="541.3" y1="53.6" x2="541.3" y2="60" stroke="#2a88b8" stroke-width="1.1"/>
<line x1="539.7" y1="56.8" x2="542.9" y2="56.8" stroke="#2a88b8" stroke-width="1.2"/>
<line x1="542.8" y1="55.1" x2="542.8" y2="61.5" stroke="#2a88b8" stroke-width="1.1"/>
<line x1="541.2" y1="58.3" x2="544.4" y2="58.3" stroke="#2a88b8" stroke-width="1.2"/>
<line x1="544.2" y1="56.5" x2="544.2" y2="62.9" stroke="#2a88b8" stroke-width="1.1"/>
<line x1="542.6" y1="59.7" x2="545.8" y2="59.7" stroke="#2a88b8" stroke-width="1.2"/>
<line x1="545.7" y1="58" x2="545.7" y2="64.4" stroke="#2a88b8" stroke-width="1.1"/>
<line x1="544.1" y1="61.2" x2="547.3" y2="61.2" stroke="#2a88b8" stroke-width="1.2"/>
<line x1="546.6" y1="59.1" x2="546.6" y2="65.5" stroke="#2a88b8" stroke-width="1.1"/>
<line x1="545" y1="62.3" x2="548.2" y2="62.3" stroke="#2a88b8" stroke-width="1.2"/>
<line x1="546.7" y1="59.1" x2="546.7" y2="65.5" stroke="#2a88b8" stroke-width="1.1"/>
<line x1="545.1" y1="62.3" x2="548.3" y2="62.3" stroke="#2a88b8" stroke-width="1.2"/>
<line x1="547" y1="59.4" x2="547" y2="65.8" stroke="#2a88b8" stroke-width="1.1"/>
<line x1="545.4" y1="62.6" x2="548.6" y2="62.6" stroke="#2a88b8" stroke-width="1.2"/>
<line x1="548.3" y1="60.4" x2="548.3" y2="66.8" stroke="#2a88b8" stroke-width="1.1"/>
<line x1="546.7" y1="63.6" x2="549.9" y2="63.6" stroke="#2a88b8" stroke-width="1.2"/>
<line x1="548.9" y1="61.1" x2="548.9" y2="67.5" stroke="#2a88b8" stroke-width="1.1"/>
<line x1="547.3" y1="64.3" x2="550.5" y2="64.3" stroke="#2a88b8" stroke-width="1.2"/>
<line x1="550.7" y1="62.4" x2="550.7" y2="68.8" stroke="#2a88b8" stroke-width="1.1"/>
<line x1="549.1" y1="65.6" x2="552.3" y2="65.6" stroke="#2a88b8" stroke-width="1.2"/>
<line x1="553.4" y1="64.6" x2="553.4" y2="71" stroke="#2a88b8" stroke-width="1.1"/>
<line x1="551.8" y1="67.8" x2="555" y2="67.8" stroke="#2a88b8" stroke-width="1.2"/>
<line x1="553.5" y1="64.6" x2="553.5" y2="71" stroke="#2a88b8" stroke-width="1.1"/>
<line x1="551.9" y1="67.8" x2="555.1" y2="67.8" stroke="#2a88b8" stroke-width="1.2"/>
<line x1="554.3" y1="65.6" x2="554.3" y2="72" stroke="#2a88b8" stroke-width="1.1"/>
<line x1="552.7" y1="68.8" x2="555.9" y2="68.8" stroke="#2a88b8" stroke-width="1.2"/>
<line x1="555.5" y1="66.2" x2="555.5" y2="72.6" stroke="#2a88b8" stroke-width="1.1"/>
<line x1="553.9" y1="69.4" x2="557.1" y2="69.4" stroke="#2a88b8" stroke-width="1.2"/>
<line x1="556.2" y1="66.9" x2="556.2" y2="73.3" stroke="#2a88b8" stroke-width="1.1"/>
<line x1="554.6" y1="70.1" x2="557.8" y2="70.1" stroke="#2a88b8" stroke-width="1.2"/>
<line x1="556.7" y1="67.5" x2="556.7" y2="73.9" stroke="#2a88b8" stroke-width="1.1"/>
<line x1="555.1" y1="70.7" x2="558.3" y2="70.7" stroke="#2a88b8" stroke-width="1.2"/>
<line x1="561.4" y1="69.5" x2="561.4" y2="75.9" stroke="#2a88b8" stroke-width="1.1"/>
<line x1="559.8" y1="72.7" x2="563" y2="72.7" stroke="#2a88b8" stroke-width="1.2"/>
<line x1="562.5" y1="69.8" x2="562.5" y2="76.2" stroke="#2a88b8" stroke-width="1.1"/>
<line x1="560.9" y1="73" x2="564.1" y2="73" stroke="#2a88b8" stroke-width="1.2"/>
<line x1="563.6" y1="70.2" x2="563.6" y2="76.6" stroke="#2a88b8" stroke-width="1.1"/>
<line x1="562" y1="73.4" x2="565.2" y2="73.4" stroke="#2a88b8" stroke-width="1.2"/>
<line x1="563.6" y1="70.2" x2="563.6" y2="76.6" stroke="#2a88b8" stroke-width="1.1"/>
<line x1="562" y1="73.4" x2="565.2" y2="73.4" stroke="#2a88b8" stroke-width="1.2"/>
<line x1="564.6" y1="70.3" x2="564.6" y2="76.7" stroke="#2a88b8" stroke-width="1.1"/>
<line x1="563" y1="73.5" x2="566.2" y2="73.5" stroke="#2a88b8" stroke-width="1.2"/>
<line x1="564.8" y1="70.5" x2="564.8" y2="76.9" stroke="#2a88b8" stroke-width="1.1"/>
<line x1="563.2" y1="73.7" x2="566.4" y2="73.7" stroke="#2a88b8" stroke-width="1.2"/>
<line x1="565.2" y1="70.6" x2="565.2" y2="77" stroke="#2a88b8" stroke-width="1.1"/>
<line x1="563.6" y1="73.8" x2="566.8" y2="73.8" stroke="#2a88b8" stroke-width="1.2"/>
<line x1="565.6" y1="70.7" x2="565.6" y2="77.1" stroke="#2a88b8" stroke-width="1.1"/>
<line x1="564" y1="73.9" x2="567.2" y2="73.9" stroke="#2a88b8" stroke-width="1.2"/>
<line x1="570.7" y1="72.2" x2="570.7" y2="78.6" stroke="#2a88b8" stroke-width="1.1"/>
<line x1="569.1" y1="75.4" x2="572.3" y2="75.4" stroke="#2a88b8" stroke-width="1.2"/>
<line x1="571.9" y1="72.8" x2="571.9" y2="79.2" stroke="#2a88b8" stroke-width="1.1"/>
<line x1="570.3" y1="76" x2="573.5" y2="76" stroke="#2a88b8" stroke-width="1.2"/>
<line x1="572" y1="72.8" x2="572" y2="79.2" stroke="#2a88b8" stroke-width="1.1"/>
<line x1="570.4" y1="76" x2="573.6" y2="76" stroke="#2a88b8" stroke-width="1.2"/>
<line x1="573.4" y1="73.4" x2="573.4" y2="79.8" stroke="#2a88b8" stroke-width="1.1"/>
<line x1="571.8" y1="76.6" x2="575" y2="76.6" stroke="#2a88b8" stroke-width="1.2"/>
<line x1="574.3" y1="73.6" x2="574.3" y2="80" stroke="#2a88b8" stroke-width="1.1"/>
<line x1="572.7" y1="76.8" x2="575.9" y2="76.8" stroke="#2a88b8" stroke-width="1.2"/>
<line x1="577.4" y1="74.9" x2="577.4" y2="81.3" stroke="#2a88b8" stroke-width="1.1"/>
<line x1="575.8" y1="78.1" x2="579" y2="78.1" stroke="#2a88b8" stroke-width="1.2"/>
<line x1="580.4" y1="76.4" x2="580.4" y2="82.8" stroke="#2a88b8" stroke-width="1.1"/>
<line x1="578.8" y1="79.6" x2="582" y2="79.6" stroke="#2a88b8" stroke-width="1.2"/>
<line x1="581.4" y1="77.3" x2="581.4" y2="83.7" stroke="#2a88b8" stroke-width="1.1"/>
<line x1="579.8" y1="80.5" x2="583" y2="80.5" stroke="#2a88b8" stroke-width="1.2"/>
<line x1="582.9" y1="78.5" x2="582.9" y2="84.9" stroke="#2a88b8" stroke-width="1.1"/>
<line x1="581.3" y1="81.7" x2="584.5" y2="81.7" stroke="#2a88b8" stroke-width="1.2"/>
<line x1="584.4" y1="79.5" x2="584.4" y2="85.9" stroke="#2a88b8" stroke-width="1.1"/>
<line x1="582.8" y1="82.7" x2="586" y2="82.7" stroke="#2a88b8" stroke-width="1.2"/>
<line x1="585" y1="80.1" x2="585" y2="86.5" stroke="#2a88b8" stroke-width="1.1"/>
<line x1="583.4" y1="83.3" x2="586.6" y2="83.3" stroke="#2a88b8" stroke-width="1.2"/>
<line x1="586.2" y1="81" x2="586.2" y2="87.4" stroke="#2a88b8" stroke-width="1.1"/>
<line x1="584.6" y1="84.2" x2="587.8" y2="84.2" stroke="#2a88b8" stroke-width="1.2"/>
<line x1="586.4" y1="81" x2="586.4" y2="87.4" stroke="#2a88b8" stroke-width="1.1"/>
<line x1="584.8" y1="84.2" x2="588" y2="84.2" stroke="#2a88b8" stroke-width="1.2"/>
<line x1="588" y1="82.2" x2="588" y2="88.6" stroke="#2a88b8" stroke-width="1.1"/>
<line x1="586.4" y1="85.4" x2="589.6" y2="85.4" stroke="#2a88b8" stroke-width="1.2"/>
<line x1="588.8" y1="82.8" x2="588.8" y2="89.2" stroke="#2a88b8" stroke-width="1.1"/>
<line x1="587.2" y1="86" x2="590.4" y2="86" stroke="#2a88b8" stroke-width="1.2"/>
<line x1="589.4" y1="83.4" x2="589.4" y2="89.8" stroke="#2a88b8" stroke-width="1.1"/>
<line x1="587.8" y1="86.6" x2="591" y2="86.6" stroke="#2a88b8" stroke-width="1.2"/>
<line x1="590.5" y1="83.6" x2="590.5" y2="90" stroke="#2a88b8" stroke-width="1.1"/>
<line x1="588.9" y1="86.8" x2="592.1" y2="86.8" stroke="#2a88b8" stroke-width="1.2"/>
<line x1="590.9" y1="83.7" x2="590.9" y2="90.1" stroke="#2a88b8" stroke-width="1.1"/>
<line x1="589.3" y1="86.9" x2="592.5" y2="86.9" stroke="#2a88b8" stroke-width="1.2"/>
<line x1="593.4" y1="84.1" x2="593.4" y2="90.5" stroke="#2a88b8" stroke-width="1.1"/>
<line x1="591.8" y1="87.3" x2="595" y2="87.3" stroke="#2a88b8" stroke-width="1.2"/>
<line x1="593.6" y1="84.1" x2="593.6" y2="90.5" stroke="#2a88b8" stroke-width="1.1"/>
<line x1="592" y1="87.3" x2="595.2" y2="87.3" stroke="#2a88b8" stroke-width="1.2"/>
<line x1="596.1" y1="84.5" x2="596.1" y2="90.9" stroke="#2a88b8" stroke-width="1.1"/>
<line x1="594.5" y1="87.7" x2="597.7" y2="87.7" stroke="#2a88b8" stroke-width="1.2"/>
<line x1="597.2" y1="84.7" x2="597.2" y2="91.1" stroke="#2a88b8" stroke-width="1.1"/>
<line x1="595.6" y1="87.9" x2="598.8" y2="87.9" stroke="#2a88b8" stroke-width="1.2"/>
<line x1="598.6" y1="84.9" x2="598.6" y2="91.3" stroke="#2a88b8" stroke-width="1.1"/>
<line x1="597" y1="88.1" x2="600.2" y2="88.1" stroke="#2a88b8" stroke-width="1.2"/>
<line x1="602.2" y1="86.5" x2="602.2" y2="92.9" stroke="#2a88b8" stroke-width="1.1"/>
<line x1="600.6" y1="89.7" x2="603.8" y2="89.7" stroke="#2a88b8" stroke-width="1.2"/>
<line x1="603.8" y1="87.5" x2="603.8" y2="93.9" stroke="#2a88b8" stroke-width="1.1"/>
<line x1="602.2" y1="90.7" x2="605.4" y2="90.7" stroke="#2a88b8" stroke-width="1.2"/>
<line x1="608.6" y1="90.4" x2="608.6" y2="96.8" stroke="#2a88b8" stroke-width="1.1"/>
<line x1="607" y1="93.6" x2="610.2" y2="93.6" stroke="#2a88b8" stroke-width="1.2"/>
<line x1="609.4" y1="91.1" x2="609.4" y2="97.5" stroke="#2a88b8" stroke-width="1.1"/>
<line x1="607.8" y1="94.3" x2="611" y2="94.3" stroke="#2a88b8" stroke-width="1.2"/>
<line x1="609.8" y1="91.5" x2="609.8" y2="97.9" stroke="#2a88b8" stroke-width="1.1"/>
<line x1="608.2" y1="94.7" x2="611.4" y2="94.7" stroke="#2a88b8" stroke-width="1.2"/>
<line x1="609.9" y1="91.5" x2="609.9" y2="97.9" stroke="#2a88b8" stroke-width="1.1"/>
<line x1="608.3" y1="94.7" x2="611.5" y2="94.7" stroke="#2a88b8" stroke-width="1.2"/>
<line x1="610.3" y1="91.8" x2="610.3" y2="98.2" stroke="#2a88b8" stroke-width="1.1"/>
<line x1="608.7" y1="95" x2="611.9" y2="95" stroke="#2a88b8" stroke-width="1.2"/>
<line x1="613.8" y1="95.4" x2="613.8" y2="101.8" stroke="#2a88b8" stroke-width="1.1"/>
<line x1="612.2" y1="98.6" x2="615.4" y2="98.6" stroke="#2a88b8" stroke-width="1.2"/>
<line x1="614.6" y1="96" x2="614.6" y2="102.4" stroke="#2a88b8" stroke-width="1.1"/>
<line x1="613" y1="99.2" x2="616.2" y2="99.2" stroke="#2a88b8" stroke-width="1.2"/>
<line x1="616.7" y1="96.9" x2="616.7" y2="103.3" stroke="#2a88b8" stroke-width="1.1"/>
<line x1="615.1" y1="100.1" x2="618.3" y2="100.1" stroke="#2a88b8" stroke-width="1.2"/>
<line x1="621.8" y1="97.4" x2="621.8" y2="103.8" stroke="#2a88b8" stroke-width="1.1"/>
<line x1="620.2" y1="100.6" x2="623.4" y2="100.6" stroke="#2a88b8" stroke-width="1.2"/>
<line x1="623.1" y1="97.4" x2="623.1" y2="103.8" stroke="#2a88b8" stroke-width="1.1"/>
<line x1="621.5" y1="100.6" x2="624.7" y2="100.6" stroke="#2a88b8" stroke-width="1.2"/>
<line x1="624.6" y1="97.4" x2="624.6" y2="103.8" stroke="#2a88b8" stroke-width="1.1"/>
<line x1="623" y1="100.6" x2="626.2" y2="100.6" stroke="#2a88b8" stroke-width="1.2"/>
<line x1="624.9" y1="97.4" x2="624.9" y2="103.8" stroke="#2a88b8" stroke-width="1.1"/>
<line x1="623.3" y1="100.6" x2="626.5" y2="100.6" stroke="#2a88b8" stroke-width="1.2"/>
<line x1="625" y1="97.4" x2="625" y2="103.8" stroke="#2a88b8" stroke-width="1.1"/>
<line x1="623.4" y1="100.6" x2="626.6" y2="100.6" stroke="#2a88b8" stroke-width="1.2"/>
<line x1="630" y1="97.4" x2="630" y2="103.8" stroke="#2a88b8" stroke-width="1.1"/>
<line x1="628.4" y1="100.6" x2="631.6" y2="100.6" stroke="#2a88b8" stroke-width="1.2"/>
<line x1="635" y1="97.4" x2="635" y2="103.8" stroke="#2a88b8" stroke-width="1.1"/>
<line x1="633.4" y1="100.6" x2="636.6" y2="100.6" stroke="#2a88b8" stroke-width="1.2"/>
<line x1="638" y1="97.4" x2="638" y2="103.8" stroke="#2a88b8" stroke-width="1.1"/>
<line x1="636.4" y1="100.6" x2="639.6" y2="100.6" stroke="#2a88b8" stroke-width="1.2"/>
<line x1="642" y1="97.4" x2="642" y2="103.8" stroke="#2a88b8" stroke-width="1.1"/>
<line x1="640.4" y1="100.6" x2="643.6" y2="100.6" stroke="#2a88b8" stroke-width="1.2"/>
<line x1="645" y1="97.4" x2="645" y2="103.8" stroke="#2a88b8" stroke-width="1.1"/>
<line x1="643.4" y1="100.6" x2="646.6" y2="100.6" stroke="#2a88b8" stroke-width="1.2"/>
<line x1="649" y1="97.4" x2="649" y2="103.8" stroke="#2a88b8" stroke-width="1.1"/>
<line x1="647.4" y1="100.6" x2="650.6" y2="100.6" stroke="#2a88b8" stroke-width="1.2"/>
<line x1="652" y1="97.4" x2="652" y2="103.8" stroke="#2a88b8" stroke-width="1.1"/>
<line x1="650.4" y1="100.6" x2="653.6" y2="100.6" stroke="#2a88b8" stroke-width="1.2"/>
<line x1="655" y1="97.4" x2="655" y2="103.8" stroke="#2a88b8" stroke-width="1.1"/>
<line x1="653.4" y1="100.6" x2="656.6" y2="100.6" stroke="#2a88b8" stroke-width="1.2"/>
<line x1="658" y1="97.4" x2="658" y2="103.8" stroke="#2a88b8" stroke-width="1.1"/>
<line x1="656.4" y1="100.6" x2="659.6" y2="100.6" stroke="#2a88b8" stroke-width="1.2"/>
<line x1="507.1" y1="9.5" x2="507.1" y2="15.9" stroke="#d42a20" stroke-width="1.1"/>
<line x1="505.5" y1="12.7" x2="508.7" y2="12.7" stroke="#d42a20" stroke-width="1.2"/>
<line x1="509.6" y1="14.4" x2="509.6" y2="20.8" stroke="#d42a20" stroke-width="1.1"/>
<line x1="508" y1="17.6" x2="511.2" y2="17.6" stroke="#d42a20" stroke-width="1.2"/>
<line x1="512" y1="20.7" x2="512" y2="27.1" stroke="#d42a20" stroke-width="1.1"/>
<line x1="510.4" y1="23.9" x2="513.6" y2="23.9" stroke="#d42a20" stroke-width="1.2"/>
<line x1="512.9" y1="23.1" x2="512.9" y2="29.5" stroke="#d42a20" stroke-width="1.1"/>
<line x1="511.3" y1="26.3" x2="514.5" y2="26.3" stroke="#d42a20" stroke-width="1.2"/>
<line x1="513.7" y1="25.1" x2="513.7" y2="31.5" stroke="#d42a20" stroke-width="1.1"/>
<line x1="512.1" y1="28.3" x2="515.3" y2="28.3" stroke="#d42a20" stroke-width="1.2"/>
<line x1="515.5" y1="29.3" x2="515.5" y2="35.7" stroke="#d42a20" stroke-width="1.1"/>
<line x1="513.9" y1="32.5" x2="517.1" y2="32.5" stroke="#d42a20" stroke-width="1.2"/>
<line x1="519.3" y1="38.3" x2="519.3" y2="44.7" stroke="#d42a20" stroke-width="1.1"/>
<line x1="517.7" y1="41.5" x2="520.9" y2="41.5" stroke="#d42a20" stroke-width="1.2"/>
<line x1="519.8" y1="39.7" x2="519.8" y2="46.1" stroke="#d42a20" stroke-width="1.1"/>
<line x1="518.2" y1="42.9" x2="521.4" y2="42.9" stroke="#d42a20" stroke-width="1.2"/>
<line x1="522.5" y1="45.8" x2="522.5" y2="52.2" stroke="#d42a20" stroke-width="1.1"/>
<line x1="520.9" y1="49" x2="524.1" y2="49" stroke="#d42a20" stroke-width="1.2"/>
<line x1="523.7" y1="48.7" x2="523.7" y2="55.1" stroke="#d42a20" stroke-width="1.1"/>
<line x1="522.1" y1="51.9" x2="525.3" y2="51.9" stroke="#d42a20" stroke-width="1.2"/>
<line x1="524.7" y1="51" x2="524.7" y2="57.4" stroke="#d42a20" stroke-width="1.1"/>
<line x1="523.1" y1="54.2" x2="526.3" y2="54.2" stroke="#d42a20" stroke-width="1.2"/>
<line x1="525" y1="51.4" x2="525" y2="57.8" stroke="#d42a20" stroke-width="1.1"/>
<line x1="523.4" y1="54.6" x2="526.6" y2="54.6" stroke="#d42a20" stroke-width="1.2"/>
<line x1="530.9" y1="62" x2="530.9" y2="68.4" stroke="#d42a20" stroke-width="1.1"/>
<line x1="529.3" y1="65.2" x2="532.5" y2="65.2" stroke="#d42a20" stroke-width="1.2"/>
<line x1="537" y1="68.5" x2="537" y2="74.9" stroke="#d42a20" stroke-width="1.1"/>
<line x1="535.4" y1="71.7" x2="538.6" y2="71.7" stroke="#d42a20" stroke-width="1.2"/>
<line x1="537.4" y1="68.8" x2="537.4" y2="75.2" stroke="#d42a20" stroke-width="1.1"/>
<line x1="535.8" y1="72" x2="539" y2="72" stroke="#d42a20" stroke-width="1.2"/>
<line x1="537.9" y1="69.6" x2="537.9" y2="76" stroke="#d42a20" stroke-width="1.1"/>
<line x1="536.3" y1="72.8" x2="539.5" y2="72.8" stroke="#d42a20" stroke-width="1.2"/>
<line x1="539.4" y1="71" x2="539.4" y2="77.4" stroke="#d42a20" stroke-width="1.1"/>
<line x1="537.8" y1="74.2" x2="541" y2="74.2" stroke="#d42a20" stroke-width="1.2"/>
<line x1="541.6" y1="73.2" x2="541.6" y2="79.6" stroke="#d42a20" stroke-width="1.1"/>
<line x1="540" y1="76.4" x2="543.2" y2="76.4" stroke="#d42a20" stroke-width="1.2"/>
<line x1="542.1" y1="73.6" x2="542.1" y2="80" stroke="#d42a20" stroke-width="1.1"/>
<line x1="540.5" y1="76.8" x2="543.7" y2="76.8" stroke="#d42a20" stroke-width="1.2"/>
<line x1="544.1" y1="75.7" x2="544.1" y2="82.1" stroke="#d42a20" stroke-width="1.1"/>
<line x1="542.5" y1="78.9" x2="545.7" y2="78.9" stroke="#d42a20" stroke-width="1.2"/>
<line x1="547.7" y1="79.3" x2="547.7" y2="85.7" stroke="#d42a20" stroke-width="1.1"/>
<line x1="546.1" y1="82.5" x2="549.3" y2="82.5" stroke="#d42a20" stroke-width="1.2"/>
<line x1="550.3" y1="81.2" x2="550.3" y2="87.6" stroke="#d42a20" stroke-width="1.1"/>
<line x1="548.7" y1="84.4" x2="551.9" y2="84.4" stroke="#d42a20" stroke-width="1.2"/>
<line x1="552.1" y1="82.8" x2="552.1" y2="89.2" stroke="#d42a20" stroke-width="1.1"/>
<line x1="550.5" y1="86" x2="553.7" y2="86" stroke="#d42a20" stroke-width="1.2"/>
<line x1="554" y1="84.1" x2="554" y2="90.5" stroke="#d42a20" stroke-width="1.1"/>
<line x1="552.4" y1="87.3" x2="555.6" y2="87.3" stroke="#d42a20" stroke-width="1.2"/>
<line x1="554.7" y1="84.7" x2="554.7" y2="91.1" stroke="#d42a20" stroke-width="1.1"/>
<line x1="553.1" y1="87.9" x2="556.3" y2="87.9" stroke="#d42a20" stroke-width="1.2"/>
<line x1="557.4" y1="86.4" x2="557.4" y2="92.8" stroke="#d42a20" stroke-width="1.1"/>
<line x1="555.8" y1="89.6" x2="559" y2="89.6" stroke="#d42a20" stroke-width="1.2"/>
<line x1="557.6" y1="86.6" x2="557.6" y2="93" stroke="#d42a20" stroke-width="1.1"/>
<line x1="556" y1="89.8" x2="559.2" y2="89.8" stroke="#d42a20" stroke-width="1.2"/>
<line x1="559.6" y1="87.4" x2="559.6" y2="93.8" stroke="#d42a20" stroke-width="1.1"/>
<line x1="558" y1="90.6" x2="561.2" y2="90.6" stroke="#d42a20" stroke-width="1.2"/>
<line x1="559.8" y1="87.6" x2="559.8" y2="94" stroke="#d42a20" stroke-width="1.1"/>
<line x1="558.2" y1="90.8" x2="561.4" y2="90.8" stroke="#d42a20" stroke-width="1.2"/>
<line x1="559.8" y1="87.6" x2="559.8" y2="94" stroke="#d42a20" stroke-width="1.1"/>
<line x1="558.2" y1="90.8" x2="561.4" y2="90.8" stroke="#d42a20" stroke-width="1.2"/>
<line x1="560.4" y1="87.8" x2="560.4" y2="94.2" stroke="#d42a20" stroke-width="1.1"/>
<line x1="558.8" y1="91" x2="562" y2="91" stroke="#d42a20" stroke-width="1.2"/>
<line x1="562.7" y1="88.8" x2="562.7" y2="95.2" stroke="#d42a20" stroke-width="1.1"/>
<line x1="561.1" y1="92" x2="564.3" y2="92" stroke="#d42a20" stroke-width="1.2"/>
<line x1="562.8" y1="88.8" x2="562.8" y2="95.2" stroke="#d42a20" stroke-width="1.1"/>
<line x1="561.2" y1="92" x2="564.4" y2="92" stroke="#d42a20" stroke-width="1.2"/>
<line x1="565.5" y1="90" x2="565.5" y2="96.4" stroke="#d42a20" stroke-width="1.1"/>
<line x1="563.9" y1="93.2" x2="567.1" y2="93.2" stroke="#d42a20" stroke-width="1.2"/>
<line x1="568.6" y1="91.4" x2="568.6" y2="97.8" stroke="#d42a20" stroke-width="1.1"/>
<line x1="567" y1="94.6" x2="570.2" y2="94.6" stroke="#d42a20" stroke-width="1.2"/>
<line x1="569.6" y1="91.9" x2="569.6" y2="98.3" stroke="#d42a20" stroke-width="1.1"/>
<line x1="568" y1="95.1" x2="571.2" y2="95.1" stroke="#d42a20" stroke-width="1.2"/>
<line x1="570.9" y1="92.6" x2="570.9" y2="99" stroke="#d42a20" stroke-width="1.1"/>
<line x1="569.3" y1="95.8" x2="572.5" y2="95.8" stroke="#d42a20" stroke-width="1.2"/>
<line x1="571.9" y1="93.4" x2="571.9" y2="99.8" stroke="#d42a20" stroke-width="1.1"/>
<line x1="570.3" y1="96.6" x2="573.5" y2="96.6" stroke="#d42a20" stroke-width="1.2"/>
<line x1="573.7" y1="94.4" x2="573.7" y2="100.8" stroke="#d42a20" stroke-width="1.1"/>
<line x1="572.1" y1="97.6" x2="575.3" y2="97.6" stroke="#d42a20" stroke-width="1.2"/>
<line x1="574.4" y1="94.9" x2="574.4" y2="101.3" stroke="#d42a20" stroke-width="1.1"/>
<line x1="572.8" y1="98.1" x2="576" y2="98.1" stroke="#d42a20" stroke-width="1.2"/>
<line x1="575.4" y1="95.4" x2="575.4" y2="101.8" stroke="#d42a20" stroke-width="1.1"/>
<line x1="573.8" y1="98.6" x2="577" y2="98.6" stroke="#d42a20" stroke-width="1.2"/>
<line x1="576.5" y1="95.9" x2="576.5" y2="102.3" stroke="#d42a20" stroke-width="1.1"/>
<line x1="574.9" y1="99.1" x2="578.1" y2="99.1" stroke="#d42a20" stroke-width="1.2"/>
<line x1="576.9" y1="96.1" x2="576.9" y2="102.5" stroke="#d42a20" stroke-width="1.1"/>
<line x1="575.3" y1="99.3" x2="578.5" y2="99.3" stroke="#d42a20" stroke-width="1.2"/>
<line x1="577.5" y1="96.6" x2="577.5" y2="103" stroke="#d42a20" stroke-width="1.1"/>
<line x1="575.9" y1="99.8" x2="579.1" y2="99.8" stroke="#d42a20" stroke-width="1.2"/>
<line x1="581.2" y1="99.6" x2="581.2" y2="106" stroke="#d42a20" stroke-width="1.1"/>
<line x1="579.6" y1="102.8" x2="582.8" y2="102.8" stroke="#d42a20" stroke-width="1.2"/>
<line x1="582.3" y1="100.7" x2="582.3" y2="107.1" stroke="#d42a20" stroke-width="1.1"/>
<line x1="580.7" y1="103.9" x2="583.9" y2="103.9" stroke="#d42a20" stroke-width="1.2"/>
<line x1="582.3" y1="100.7" x2="582.3" y2="107.1" stroke="#d42a20" stroke-width="1.1"/>
<line x1="580.7" y1="103.9" x2="583.9" y2="103.9" stroke="#d42a20" stroke-width="1.2"/>
<line x1="583.5" y1="101.7" x2="583.5" y2="108.1" stroke="#d42a20" stroke-width="1.1"/>
<line x1="581.9" y1="104.9" x2="585.1" y2="104.9" stroke="#d42a20" stroke-width="1.2"/>
<line x1="584.3" y1="102.8" x2="584.3" y2="109.2" stroke="#d42a20" stroke-width="1.1"/>
<line x1="582.7" y1="106" x2="585.9" y2="106" stroke="#d42a20" stroke-width="1.2"/>
<line x1="585.2" y1="103.6" x2="585.2" y2="110" stroke="#d42a20" stroke-width="1.1"/>
<line x1="583.6" y1="106.8" x2="586.8" y2="106.8" stroke="#d42a20" stroke-width="1.2"/>
<line x1="585.3" y1="103.6" x2="585.3" y2="110" stroke="#d42a20" stroke-width="1.1"/>
<line x1="583.7" y1="106.8" x2="586.9" y2="106.8" stroke="#d42a20" stroke-width="1.2"/>
<line x1="589" y1="107.5" x2="589" y2="113.9" stroke="#d42a20" stroke-width="1.1"/>
<line x1="587.4" y1="110.7" x2="590.6" y2="110.7" stroke="#d42a20" stroke-width="1.2"/>
<line x1="590.8" y1="108.4" x2="590.8" y2="114.8" stroke="#d42a20" stroke-width="1.1"/>
<line x1="589.2" y1="111.6" x2="592.4" y2="111.6" stroke="#d42a20" stroke-width="1.2"/>
<line x1="591.2" y1="108.5" x2="591.2" y2="114.9" stroke="#d42a20" stroke-width="1.1"/>
<line x1="589.6" y1="111.7" x2="592.8" y2="111.7" stroke="#d42a20" stroke-width="1.2"/>
<line x1="592" y1="108.7" x2="592" y2="115.1" stroke="#d42a20" stroke-width="1.1"/>
<line x1="590.4" y1="111.9" x2="593.6" y2="111.9" stroke="#d42a20" stroke-width="1.2"/>
<line x1="592.6" y1="108.9" x2="592.6" y2="115.3" stroke="#d42a20" stroke-width="1.1"/>
<line x1="591" y1="112.1" x2="594.2" y2="112.1" stroke="#d42a20" stroke-width="1.2"/>
<line x1="593.8" y1="109.3" x2="593.8" y2="115.7" stroke="#d42a20" stroke-width="1.1"/>
<line x1="592.2" y1="112.5" x2="595.4" y2="112.5" stroke="#d42a20" stroke-width="1.2"/>
<line x1="594.2" y1="109.5" x2="594.2" y2="115.9" stroke="#d42a20" stroke-width="1.1"/>
<line x1="592.6" y1="112.7" x2="595.8" y2="112.7" stroke="#d42a20" stroke-width="1.2"/>
<line x1="594.7" y1="109.6" x2="594.7" y2="116" stroke="#d42a20" stroke-width="1.1"/>
<line x1="593.1" y1="112.8" x2="596.3" y2="112.8" stroke="#d42a20" stroke-width="1.2"/>
<line x1="597.4" y1="110.6" x2="597.4" y2="117" stroke="#d42a20" stroke-width="1.1"/>
<line x1="595.8" y1="113.8" x2="599" y2="113.8" stroke="#d42a20" stroke-width="1.2"/>
<line x1="600" y1="111.4" x2="600" y2="117.8" stroke="#d42a20" stroke-width="1.1"/>
<line x1="598.4" y1="114.6" x2="601.6" y2="114.6" stroke="#d42a20" stroke-width="1.2"/>
<line x1="601.2" y1="111.8" x2="601.2" y2="118.2" stroke="#d42a20" stroke-width="1.1"/>
<line x1="599.6" y1="115" x2="602.8" y2="115" stroke="#d42a20" stroke-width="1.2"/>
<line x1="603.9" y1="113" x2="603.9" y2="119.4" stroke="#d42a20" stroke-width="1.1"/>
<line x1="602.3" y1="116.2" x2="605.5" y2="116.2" stroke="#d42a20" stroke-width="1.2"/>
<line x1="606.7" y1="114.1" x2="606.7" y2="120.5" stroke="#d42a20" stroke-width="1.1"/>
<line x1="605.1" y1="117.3" x2="608.3" y2="117.3" stroke="#d42a20" stroke-width="1.2"/>
<line x1="607.5" y1="114.3" x2="607.5" y2="120.7" stroke="#d42a20" stroke-width="1.1"/>
<line x1="605.9" y1="117.5" x2="609.1" y2="117.5" stroke="#d42a20" stroke-width="1.2"/>
<line x1="608.1" y1="114.7" x2="608.1" y2="121.1" stroke="#d42a20" stroke-width="1.1"/>
<line x1="606.5" y1="117.9" x2="609.7" y2="117.9" stroke="#d42a20" stroke-width="1.2"/>
<line x1="610.1" y1="115.5" x2="610.1" y2="121.9" stroke="#d42a20" stroke-width="1.1"/>
<line x1="608.5" y1="118.7" x2="611.7" y2="118.7" stroke="#d42a20" stroke-width="1.2"/>
<line x1="610.2" y1="115.5" x2="610.2" y2="121.9" stroke="#d42a20" stroke-width="1.1"/>
<line x1="608.6" y1="118.7" x2="611.8" y2="118.7" stroke="#d42a20" stroke-width="1.2"/>
<line x1="611.2" y1="115.8" x2="611.2" y2="122.2" stroke="#d42a20" stroke-width="1.1"/>
<line x1="609.6" y1="119" x2="612.8" y2="119" stroke="#d42a20" stroke-width="1.2"/>
<line x1="614.2" y1="116.9" x2="614.2" y2="123.3" stroke="#d42a20" stroke-width="1.1"/>
<line x1="612.6" y1="120.1" x2="615.8" y2="120.1" stroke="#d42a20" stroke-width="1.2"/>
<line x1="614.7" y1="117.1" x2="614.7" y2="123.5" stroke="#d42a20" stroke-width="1.1"/>
<line x1="613.1" y1="120.3" x2="616.3" y2="120.3" stroke="#d42a20" stroke-width="1.2"/>
<line x1="615.2" y1="117.3" x2="615.2" y2="123.7" stroke="#d42a20" stroke-width="1.1"/>
<line x1="613.6" y1="120.5" x2="616.8" y2="120.5" stroke="#d42a20" stroke-width="1.2"/>
<line x1="616.2" y1="117.5" x2="616.2" y2="123.9" stroke="#d42a20" stroke-width="1.1"/>
<line x1="614.6" y1="120.7" x2="617.8" y2="120.7" stroke="#d42a20" stroke-width="1.2"/>
<line x1="618.5" y1="117.6" x2="618.5" y2="124" stroke="#d42a20" stroke-width="1.1"/>
<line x1="616.9" y1="120.8" x2="620.1" y2="120.8" stroke="#d42a20" stroke-width="1.2"/>
<line x1="619.2" y1="117.7" x2="619.2" y2="124.1" stroke="#d42a20" stroke-width="1.1"/>
<line x1="617.6" y1="120.9" x2="620.8" y2="120.9" stroke="#d42a20" stroke-width="1.2"/>
<line x1="625" y1="122.8" x2="625" y2="129.2" stroke="#d42a20" stroke-width="1.1"/>
<line x1="623.4" y1="126" x2="626.6" y2="126" stroke="#d42a20" stroke-width="1.2"/>
<line x1="636" y1="122.8" x2="636" y2="129.2" stroke="#d42a20" stroke-width="1.1"/>
<line x1="634.4" y1="126" x2="637.6" y2="126" stroke="#d42a20" stroke-width="1.2"/>
<line x1="640" y1="122.8" x2="640" y2="129.2" stroke="#d42a20" stroke-width="1.1"/>
<line x1="638.4" y1="126" x2="641.6" y2="126" stroke="#d42a20" stroke-width="1.2"/>
<line x1="644" y1="122.8" x2="644" y2="129.2" stroke="#d42a20" stroke-width="1.1"/>
<line x1="642.4" y1="126" x2="645.6" y2="126" stroke="#d42a20" stroke-width="1.2"/>
<line x1="647" y1="122.8" x2="647" y2="129.2" stroke="#d42a20" stroke-width="1.1"/>
<line x1="645.4" y1="126" x2="648.6" y2="126" stroke="#d42a20" stroke-width="1.2"/>
<line x1="650" y1="122.8" x2="650" y2="129.2" stroke="#d42a20" stroke-width="1.1"/>
<line x1="648.4" y1="126" x2="651.6" y2="126" stroke="#d42a20" stroke-width="1.2"/>
<line x1="654" y1="122.8" x2="654" y2="129.2" stroke="#d42a20" stroke-width="1.1"/>
<line x1="652.4" y1="126" x2="655.6" y2="126" stroke="#d42a20" stroke-width="1.2"/>
<line x1="658" y1="122.8" x2="658" y2="129.2" stroke="#d42a20" stroke-width="1.1"/>
<line x1="656.4" y1="126" x2="659.6" y2="126" stroke="#d42a20" stroke-width="1.2"/>
<line x1="666" y1="122.8" x2="666" y2="129.2" stroke="#d42a20" stroke-width="1.1"/>
<line x1="664.4" y1="126" x2="667.6" y2="126" stroke="#d42a20" stroke-width="1.2"/>
<text x="504.3" y="167" font-size="9.8" text-anchor="start" fill="#1a1a1a" stroke="#1a1a1a" stroke-width="0.4">HR = 1.51 (1.19-1.91)</text>
<text x="504.3" y="178.8" font-size="9.8" text-anchor="start" fill="#1a1a1a" stroke="#1a1a1a" stroke-width="0.4">P =0.001</text>
<line x1="496.8" y1="261.1" x2="524.4" y2="261.1" stroke="#2a88b8" stroke-width="1.5"/>
<line x1="510.7" y1="257.6" x2="510.7" y2="264.6" stroke="#2a88b8" stroke-width="1.5"/>
<line x1="496.8" y1="283.7" x2="524.4" y2="283.7" stroke="#d42a20" stroke-width="1.5"/>
<line x1="510.7" y1="280.2" x2="510.7" y2="287.2" stroke="#d42a20" stroke-width="1.5"/>
<text x="535.5" y="264.5" font-size="10.2" text-anchor="start" fill="#1a1a1a">Low</text>
<text x="535.5" y="287" font-size="10.2" text-anchor="start" fill="#1a1a1a">High</text>
<line x1="81" y1="367" x2="81" y2="555" stroke="#cfcfcf" stroke-width="1.5"/>
<line x1="81" y1="555" x2="256" y2="555" stroke="#cfcfcf" stroke-width="1.5"/>
<line x1="98.5" y1="367" x2="98.5" y2="555" stroke="#e4e4e4" stroke-width="1.0"/>
<line x1="81" y1="536.2" x2="256" y2="536.2" stroke="#e4e4e4" stroke-width="1.0"/>
<line x1="116" y1="367" x2="116" y2="555" stroke="#cfcfcf" stroke-width="1.5"/>
<line x1="81" y1="517.4" x2="256" y2="517.4" stroke="#cfcfcf" stroke-width="1.5"/>
<line x1="133.5" y1="367" x2="133.5" y2="555" stroke="#e4e4e4" stroke-width="1.0"/>
<line x1="81" y1="498.6" x2="256" y2="498.6" stroke="#e4e4e4" stroke-width="1.0"/>
<line x1="151" y1="367" x2="151" y2="555" stroke="#cfcfcf" stroke-width="1.5"/>
<line x1="81" y1="479.8" x2="256" y2="479.8" stroke="#cfcfcf" stroke-width="1.5"/>
<line x1="168.5" y1="367" x2="168.5" y2="555" stroke="#e4e4e4" stroke-width="1.0"/>
<line x1="81" y1="461" x2="256" y2="461" stroke="#e4e4e4" stroke-width="1.0"/>
<line x1="186" y1="367" x2="186" y2="555" stroke="#cfcfcf" stroke-width="1.5"/>
<line x1="81" y1="442.2" x2="256" y2="442.2" stroke="#cfcfcf" stroke-width="1.5"/>
<line x1="203.5" y1="367" x2="203.5" y2="555" stroke="#e4e4e4" stroke-width="1.0"/>
<line x1="81" y1="423.4" x2="256" y2="423.4" stroke="#e4e4e4" stroke-width="1.0"/>
<line x1="221" y1="367" x2="221" y2="555" stroke="#cfcfcf" stroke-width="1.5"/>
<line x1="81" y1="404.6" x2="256" y2="404.6" stroke="#cfcfcf" stroke-width="1.5"/>
<line x1="238.5" y1="367" x2="238.5" y2="555" stroke="#e4e4e4" stroke-width="1.0"/>
<line x1="81" y1="385.8" x2="256" y2="385.8" stroke="#e4e4e4" stroke-width="1.0"/>
<line x1="256" y1="367" x2="256" y2="555" stroke="#cfcfcf" stroke-width="1.5"/>
<line x1="81" y1="367" x2="256" y2="367" stroke="#cfcfcf" stroke-width="1.5"/>
<line x1="81" y1="555" x2="256" y2="367" stroke="#707070" stroke-width="1"/>
<path d="M81.3 553.8 H81.3 V551.4 H81.3 V549.0 H81.3 V546.7 H81.3 V544.3 H81.3 V541.9 H83.3 V540.3 H83.3 V538.1 H83.3 V535.9 H83.3 V533.7 H83.3 V531.5 H83.3 V529.3 H83.3 V527.0 H83.3 V524.8 H83.3 V522.6 H83.3 V520.4 H83.3 V518.2 H83.3 V516.0 H84.0 V513.9 H84.8 V511.7 H85.5 V509.6 H85.6 V507.0 H85.8 V504.4 H85.9 V501.9 H86.1 V499.3 H86.2 V496.7 H86.3 V494.3 H86.5 V491.8 H86.7 V489.4 H86.8 V487.0 H86.9 V484.5 H87.1 V482.1 H87.6 V479.5 H88.0 V476.9 H88.5 V474.4 H88.9 V471.8 H89.4 V469.2 H90.7 V466.8 H92.0 V464.4 H92.6 V462.1 H93.3 V459.8 H93.9 V457.6 H94.6 V455.3 H95.2 V453.0 H96.2 V450.8 H97.2 V448.5 H98.1 V446.2 H99.1 V444.0 H101.6 V442.7 H104.0 V441.4 H106.5 V440.1 H107.3 V436.9 H108.1 V433.7 H108.5 V431.4 H108.9 V429.1 H109.4 V426.9 H109.8 V424.6 H111.9 V423.3 H114.1 V422.1 H116.2 V420.8 H116.5 V418.4 H116.9 V416.0 H117.2 V413.6 H119.8 V413.1 H122.3 V412.6 H124.9 V412.2 H127.5 V411.7 H129.1 V409.9 H130.8 V408.0 H132.4 V406.2 H134.3 V404.9 H136.2 V403.5 H138.1 V402.1 H139.9 V400.8 H141.8 V399.5 H143.7 V398.1 H146.1 V398.0 H148.6 V397.8 H151.0 V397.6 H153.4 V397.5 H155.6 V396.3 H157.7 V395.0 H159.9 V393.8 H162.0 V392.6 H164.2 V391.3 H166.3 V390.1 H168.2 V388.5 H170.1 V386.9 H171.9 V385.2 H173.8 V383.6 H175.7 V382.0 H177.6 V380.4 H180.3 V379.5 H183.0 V378.7 H185.7 V377.8 H188.0 V377.4 H190.3 V377.0 H192.6 V376.6 H194.9 V376.1 H197.2 V375.7 H199.5 V375.3 H201.8 V374.9 H204.2 V374.2 H206.7 V373.6 H209.1 V372.9 H211.5 V372.3 H213.9 V371.3 H216.3 V370.4 H218.8 V369.4 H221.2 V368.4 H224.4 V366.8 H226.6 V366.8 H228.9 V366.8 H231.1 V366.8 H233.3 V366.8 H235.6 V366.8 H237.8 V366.8 H240.1 V366.8 H242.3 V366.8 H244.5 V366.8 H246.8 V366.8 H249.0 V366.8 H251.2 V366.8 H253.5 V366.8 H255.7 V366.8" fill="none" stroke="#1f80b0" stroke-width="1.3"/>
<rect x="80" y="366" width="176.3" height="188.6" fill="none" stroke="#000" stroke-width="1.5"/>
<line x1="75.5" y1="555" x2="80" y2="555" stroke="#000" stroke-width="1.4"/>
<text x="68.8" y="558" font-size="9.8" text-anchor="end" fill="#222">0.0</text>
<line x1="81" y1="554.5" x2="81" y2="559" stroke="#000" stroke-width="1.4"/>
<text x="81" y="573.8" font-size="9.8" text-anchor="middle" fill="#222">0.0</text>
<line x1="75.5" y1="517.4" x2="80" y2="517.4" stroke="#000" stroke-width="1.4"/>
<text x="68.8" y="520.4" font-size="9.8" text-anchor="end" fill="#222">0.2</text>
<line x1="116" y1="554.5" x2="116" y2="559" stroke="#000" stroke-width="1.4"/>
<text x="116" y="573.8" font-size="9.8" text-anchor="middle" fill="#222">0.2</text>
<line x1="75.5" y1="479.8" x2="80" y2="479.8" stroke="#000" stroke-width="1.4"/>
<text x="68.8" y="482.8" font-size="9.8" text-anchor="end" fill="#222">0.4</text>
<line x1="151" y1="554.5" x2="151" y2="559" stroke="#000" stroke-width="1.4"/>
<text x="151" y="573.8" font-size="9.8" text-anchor="middle" fill="#222">0.4</text>
<line x1="75.5" y1="442.2" x2="80" y2="442.2" stroke="#000" stroke-width="1.4"/>
<text x="68.8" y="445.2" font-size="9.8" text-anchor="end" fill="#222">0.6</text>
<line x1="186" y1="554.5" x2="186" y2="559" stroke="#000" stroke-width="1.4"/>
<text x="186" y="573.8" font-size="9.8" text-anchor="middle" fill="#222">0.6</text>
<line x1="75.5" y1="404.6" x2="80" y2="404.6" stroke="#000" stroke-width="1.4"/>
<text x="68.8" y="407.6" font-size="9.8" text-anchor="end" fill="#222">0.8</text>
<line x1="221" y1="554.5" x2="221" y2="559" stroke="#000" stroke-width="1.4"/>
<text x="221" y="573.8" font-size="9.8" text-anchor="middle" fill="#222">0.8</text>
<line x1="75.5" y1="367" x2="80" y2="367" stroke="#000" stroke-width="1.4"/>
<text x="68.8" y="370" font-size="9.8" text-anchor="end" fill="#222">1.0</text>
<line x1="256" y1="554.5" x2="256" y2="559" stroke="#000" stroke-width="1.4"/>
<text x="256" y="573.8" font-size="9.8" text-anchor="middle" fill="#222">1.0</text>
<text x="251.3" y="524" font-size="9.8" text-anchor="end" fill="#1a1a1a" stroke="#1a1a1a" stroke-width="0.4">model</text>
<text x="251.3" y="535.8" font-size="9.8" text-anchor="end" fill="#1a1a1a" stroke="#1a1a1a" stroke-width="0.4">AUC: 0.834</text>
<text x="251.3" y="548.3" font-size="9.8" text-anchor="end" fill="#1a1a1a" stroke="#1a1a1a" stroke-width="0.4">CI: 0.801-0.868</text>
<text x="168" y="596.8" font-size="10.2" text-anchor="middle" fill="#1a1a1a">1 – specificity (FPR)</text>
<text x="0" y="0" font-size="10.2" text-anchor="middle" fill="#1a1a1a" transform="translate(42.3,461.3) rotate(-90)">Sensitivity (TPR)</text>
<line x1="281.6" y1="332.3" x2="709.2" y2="332.3" stroke="#000" stroke-width="1.5"/>
<line x1="281.6" y1="343.1" x2="709.2" y2="343.1" stroke="#000" stroke-width="1.5"/>
<line x1="281.6" y1="576.8" x2="709.2" y2="576.8" stroke="#000" stroke-width="1.5"/>
<text x="328.5" y="339.9" font-size="8.2" text-anchor="middle" fill="#1a1a1a">Characteristics</text>
<text x="376.6" y="339.9" font-size="8.2" text-anchor="start" fill="#1a1a1a">Total (N)</text>
<text x="414" y="339.9" font-size="8.2" text-anchor="start" fill="#1a1a1a">HR (95% CI) Univariate analysis</text>
<text x="608.3" y="339.9" font-size="8.2" text-anchor="start" fill="#1a1a1a">P value Univariate analysis</text>
<text x="328.5" y="350.8" font-size="8.2" text-anchor="middle" fill="#1a1a1a">Grade</text>
<text x="391.8" y="350.8" font-size="8.2" text-anchor="middle" fill="#1a1a1a">544</text>
<text x="653" y="350.8" font-size="8.2" text-anchor="middle" fill="#1a1a1a">&lt;0.001</text>
<text x="328.5" y="361.9" font-size="8.2" text-anchor="middle" fill="#1a1a1a">G2</text>
<text x="391.8" y="361.9" font-size="8.2" text-anchor="middle" fill="#1a1a1a">250</text>
<text x="328.5" y="373.1" font-size="8.2" text-anchor="middle" fill="#1a1a1a">G3</text>
<text x="391.8" y="373.1" font-size="8.2" text-anchor="middle" fill="#1a1a1a">294</text>
<text x="468" y="373.1" font-size="8.2" text-anchor="middle" fill="#1a1a1a">3.100 (2.381-4.037)</text>
<text x="653" y="373.1" font-size="8.2" text-anchor="middle" fill="#1a1a1a">&lt;0.001</text>
<text x="328.5" y="384.2" font-size="8.2" text-anchor="middle" fill="#1a1a1a">1p19q_codeletion_status</text>
<text x="391.8" y="384.2" font-size="8.2" text-anchor="middle" fill="#1a1a1a">506</text>
<text x="653" y="384.2" font-size="8.2" text-anchor="middle" fill="#1a1a1a">&lt;0.001</text>
<text x="328.5" y="395.3" font-size="8.2" text-anchor="middle" fill="#1a1a1a">Non-codel</text>
<text x="391.8" y="395.3" font-size="8.2" text-anchor="middle" fill="#1a1a1a">347</text>
<text x="328.5" y="406.4" font-size="8.2" text-anchor="middle" fill="#1a1a1a">Codel</text>
<text x="391.8" y="406.4" font-size="8.2" text-anchor="middle" fill="#1a1a1a">159</text>
<text x="468" y="406.4" font-size="8.2" text-anchor="middle" fill="#1a1a1a">0.287 (0.206-0.399)</text>
<text x="653" y="406.4" font-size="8.2" text-anchor="middle" fill="#1a1a1a">&lt;0.001</text>
<text x="328.5" y="417.6" font-size="8.2" text-anchor="middle" fill="#1a1a1a">PRS_type</text>
<text x="391.8" y="417.6" font-size="8.2" text-anchor="middle" fill="#1a1a1a">544</text>
<text x="653" y="417.6" font-size="8.2" text-anchor="middle" fill="#1a1a1a">&lt;0.001</text>
<text x="328.5" y="428.7" font-size="8.2" text-anchor="middle" fill="#1a1a1a">Recurrent</text>
<text x="391.8" y="428.7" font-size="8.2" text-anchor="middle" fill="#1a1a1a">176</text>
<text x="328.5" y="439.8" font-size="8.2" text-anchor="middle" fill="#1a1a1a">Primary</text>
<text x="391.8" y="439.8" font-size="8.2" text-anchor="middle" fill="#1a1a1a">368</text>
<text x="468" y="439.8" font-size="8.2" text-anchor="middle" fill="#1a1a1a">0.363 (0.285-0.464)</text>
<text x="653" y="439.8" font-size="8.2" text-anchor="middle" fill="#1a1a1a">&lt;0.001</text>
<text x="328.5" y="450.9" font-size="8.2" text-anchor="middle" fill="#1a1a1a">IDH_mutation_status</text>
<text x="391.8" y="450.9" font-size="8.2" text-anchor="middle" fill="#1a1a1a">544</text>
<text x="653" y="450.9" font-size="8.2" text-anchor="middle" fill="#1a1a1a">&lt;0.001</text>
<text x="328.5" y="462.1" font-size="8.2" text-anchor="middle" fill="#1a1a1a">WT</text>
<text x="391.8" y="462.1" font-size="8.2" text-anchor="middle" fill="#1a1a1a">137</text>
<text x="328.5" y="473.2" font-size="8.2" text-anchor="middle" fill="#1a1a1a">Mut</text>
<text x="391.8" y="473.2" font-size="8.2" text-anchor="middle" fill="#1a1a1a">407</text>
<text x="468" y="473.2" font-size="8.2" text-anchor="middle" fill="#1a1a1a">0.442 (0.343-0.570)</text>
<text x="653" y="473.2" font-size="8.2" text-anchor="middle" fill="#1a1a1a">&lt;0.001</text>
<text x="328.5" y="484.3" font-size="8.2" text-anchor="middle" fill="#1a1a1a">Age</text>
<text x="391.8" y="484.3" font-size="8.2" text-anchor="middle" fill="#1a1a1a">544</text>
<text x="653" y="484.3" font-size="8.2" text-anchor="middle" fill="#1a1a1a">0.173</text>
<text x="328.5" y="495.4" font-size="8.2" text-anchor="middle" fill="#1a1a1a">&gt;40</text>
<text x="391.8" y="495.4" font-size="8.2" text-anchor="middle" fill="#1a1a1a">263</text>
<text x="328.5" y="506.6" font-size="8.2" text-anchor="middle" fill="#1a1a1a">≤40</text>
<text x="391.8" y="506.6" font-size="8.2" text-anchor="middle" fill="#1a1a1a">281</text>
<text x="468" y="506.6" font-size="8.2" text-anchor="middle" fill="#1a1a1a">0.847 (0.668-1.075)</text>
<text x="653" y="506.6" font-size="8.2" text-anchor="middle" fill="#1a1a1a">0.173</text>
<text x="328.5" y="517.7" font-size="8.2" text-anchor="middle" fill="#1a1a1a">Gender</text>
<text x="391.8" y="517.7" font-size="8.2" text-anchor="middle" fill="#1a1a1a">544</text>
<text x="653" y="517.7" font-size="8.2" text-anchor="middle" fill="#1a1a1a">0.826</text>
<text x="328.5" y="528.8" font-size="8.2" text-anchor="middle" fill="#1a1a1a">Female</text>
<text x="391.8" y="528.8" font-size="8.2" text-anchor="middle" fill="#1a1a1a">232</text>
<text x="328.5" y="539.9" font-size="8.2" text-anchor="middle" fill="#1a1a1a">Male</text>
<text x="391.8" y="539.9" font-size="8.2" text-anchor="middle" fill="#1a1a1a">312</text>
<text x="468" y="539.9" font-size="8.2" text-anchor="middle" fill="#1a1a1a">0.915 (0.719-1.164)</text>
<text x="653" y="539.9" font-size="8.2" text-anchor="middle" fill="#1a1a1a">0.468</text>
<text x="328.5" y="551" font-size="8.2" text-anchor="middle" fill="#1a1a1a">VASH1</text>
<text x="391.8" y="551" font-size="8.2" text-anchor="middle" fill="#1a1a1a">544</text>
<text x="653" y="551" font-size="8.2" text-anchor="middle" fill="#1a1a1a">&lt;0.001</text>
<text x="328.5" y="562.2" font-size="8.2" text-anchor="middle" fill="#1a1a1a">Low</text>
<text x="391.8" y="562.2" font-size="8.2" text-anchor="middle" fill="#1a1a1a">266</text>
<text x="328.5" y="573.3" font-size="8.2" text-anchor="middle" fill="#1a1a1a">Hgh</text>
<text x="391.8" y="573.3" font-size="8.2" text-anchor="middle" fill="#1a1a1a">278</text>
<text x="468" y="573.3" font-size="8.2" text-anchor="middle" fill="#1a1a1a">1.571 (1.233-2.002)</text>
<text x="653" y="573.3" font-size="8.2" text-anchor="middle" fill="#1a1a1a">&lt;0.001</text>
<line x1="548.3" y1="343.1" x2="548.3" y2="583.4" stroke="#111" stroke-width="1.25" stroke-dasharray="6.4,3.8"/>
<line x1="574" y1="370.9" x2="596.9" y2="370.9" stroke="#000" stroke-width="1.3"/>
<line x1="574" y1="368.9" x2="574" y2="372.9" stroke="#000" stroke-width="1.2"/>
<path d="M588.9 366.9 L596.9 370.9 L588.9 374.9 L591.9 370.9 Z" fill="#000"/>
<circle cx="587.5" cy="370.9" r="2.9" fill="#1d3c7a"/>
<line x1="534.1" y1="404.2" x2="535" y2="404.2" stroke="#000" stroke-width="1.3"/>
<circle cx="534.6" cy="404.2" r="2.9" fill="#1d3c7a"/>
<line x1="535.6" y1="437.6" x2="536.5" y2="437.6" stroke="#000" stroke-width="1.3"/>
<circle cx="536" cy="437.6" r="2.9" fill="#1d3c7a"/>
<line x1="537.1" y1="471" x2="538" y2="471" stroke="#000" stroke-width="1.3"/>
<circle cx="537.5" cy="471" r="2.9" fill="#1d3c7a"/>
<line x1="541.8" y1="504.4" x2="549.4" y2="504.4" stroke="#000" stroke-width="1.3"/>
<line x1="541.8" y1="502.4" x2="541.8" y2="506.4" stroke="#000" stroke-width="1.2"/>
<line x1="549.4" y1="502.4" x2="549.4" y2="506.4" stroke="#000" stroke-width="1.2"/>
<circle cx="545.1" cy="504.4" r="2.9" fill="#1d3c7a"/>
<line x1="542.7" y1="537.7" x2="551.1" y2="537.7" stroke="#000" stroke-width="1.3"/>
<line x1="542.7" y1="535.7" x2="542.7" y2="539.7" stroke="#000" stroke-width="1.2"/>
<line x1="551.1" y1="535.7" x2="551.1" y2="539.7" stroke="#000" stroke-width="1.2"/>
<circle cx="546.4" cy="537.7" r="2.9" fill="#1d3c7a"/>
<circle cx="575.9" cy="555.6" r="2.9" fill="#1d3c7a"/>
<line x1="552.4" y1="571.1" x2="566.8" y2="571.1" stroke="#000" stroke-width="1.3"/>
<line x1="552.4" y1="569.1" x2="552.4" y2="573.1" stroke="#000" stroke-width="1.2"/>
<line x1="566.8" y1="569.1" x2="566.8" y2="573.1" stroke="#000" stroke-width="1.2"/>
<circle cx="558.7" cy="571.1" r="2.9" fill="#1d3c7a"/>
<line x1="548" y1="576.8" x2="548" y2="582.6" stroke="#000" stroke-width="1.3"/>
<text x="548" y="596.6" font-size="7.5" text-anchor="middle" fill="#1a1a1a">1</text>
<line x1="566.8" y1="576.8" x2="566.8" y2="582.6" stroke="#000" stroke-width="1.3"/>
<text x="566.8" y="596.6" font-size="7.5" text-anchor="middle" fill="#1a1a1a">2</text>
<line x1="585.6" y1="576.8" x2="585.6" y2="582.6" stroke="#000" stroke-width="1.3"/>
<text x="585.6" y="596.6" font-size="7.5" text-anchor="middle" fill="#1a1a1a">3</text>
<line x1="0" y1="654.5" x2="427.7" y2="654.5" stroke="#000" stroke-width="1.5"/>
<line x1="0" y1="669.8" x2="427.7" y2="669.8" stroke="#000" stroke-width="1.5"/>
<line x1="0" y1="899.9" x2="427.7" y2="899.9" stroke="#000" stroke-width="1.5"/>
<text x="45" y="664.9" font-size="8.2" text-anchor="middle" fill="#1a1a1a">Characteristics</text>
<text x="90.4" y="664.9" font-size="8.2" text-anchor="start" fill="#1a1a1a">Total (N)</text>
<text x="127.5" y="664.9" font-size="8.2" text-anchor="start" fill="#1a1a1a">HR (95% CI) Multivariate analysis</text>
<text x="321.1" y="664.9" font-size="8.2" text-anchor="start" fill="#1a1a1a">P value Multivariate analysis</text>
<text x="45" y="681.1" font-size="8.2" text-anchor="middle" fill="#1a1a1a">Grade</text>
<text x="105.9" y="681.1" font-size="8.2" text-anchor="middle" fill="#1a1a1a">544</text>
<text x="45" y="696.3" font-size="8.2" text-anchor="middle" fill="#1a1a1a">G2</text>
<text x="105.9" y="696.3" font-size="8.2" text-anchor="middle" fill="#1a1a1a">250</text>
<text x="45" y="711.4" font-size="8.2" text-anchor="middle" fill="#1a1a1a">G3</text>
<text x="105.9" y="711.4" font-size="8.2" text-anchor="middle" fill="#1a1a1a">294</text>
<text x="184.2" y="711.4" font-size="8.2" text-anchor="middle" fill="#1a1a1a">2.670 (2.013-3.542)</text>
<text x="369" y="711.4" font-size="8.2" text-anchor="middle" fill="#1a1a1a">&lt;0.001</text>
<text x="45" y="726.6" font-size="8.2" text-anchor="middle" fill="#1a1a1a">1p19q_codeletion_status</text>
<text x="105.9" y="726.6" font-size="8.2" text-anchor="middle" fill="#1a1a1a">506</text>
<text x="45" y="741.7" font-size="8.2" text-anchor="middle" fill="#1a1a1a">Non-codel</text>
<text x="105.9" y="741.7" font-size="8.2" text-anchor="middle" fill="#1a1a1a">347</text>
<text x="45" y="756.9" font-size="8.2" text-anchor="middle" fill="#1a1a1a">Codel</text>
<text x="105.9" y="756.9" font-size="8.2" text-anchor="middle" fill="#1a1a1a">159</text>
<text x="184.2" y="756.9" font-size="8.2" text-anchor="middle" fill="#1a1a1a">0.333 (0.236-0.471)</text>
<text x="369" y="756.9" font-size="8.2" text-anchor="middle" fill="#1a1a1a">&lt;0.001</text>
<text x="45" y="772.1" font-size="8.2" text-anchor="middle" fill="#1a1a1a">PRS_type</text>
<text x="105.9" y="772.1" font-size="8.2" text-anchor="middle" fill="#1a1a1a">544</text>
<text x="45" y="787.2" font-size="8.2" text-anchor="middle" fill="#1a1a1a">Recurrent</text>
<text x="105.9" y="787.2" font-size="8.2" text-anchor="middle" fill="#1a1a1a">176</text>
<text x="45" y="802.4" font-size="8.2" text-anchor="middle" fill="#1a1a1a">Primary</text>
<text x="105.9" y="802.4" font-size="8.2" text-anchor="middle" fill="#1a1a1a">368</text>
<text x="184.2" y="802.4" font-size="8.2" text-anchor="middle" fill="#1a1a1a">0.408 (0.315-0.528)</text>
<text x="369" y="802.4" font-size="8.2" text-anchor="middle" fill="#1a1a1a">&lt;0.001</text>
<text x="45" y="817.5" font-size="8.2" text-anchor="middle" fill="#1a1a1a">IDH_mutation_status</text>
<text x="105.9" y="817.5" font-size="8.2" text-anchor="middle" fill="#1a1a1a">544</text>
<text x="45" y="832.7" font-size="8.2" text-anchor="middle" fill="#1a1a1a">WT</text>
<text x="105.9" y="832.7" font-size="8.2" text-anchor="middle" fill="#1a1a1a">137</text>
<text x="45" y="847.9" font-size="8.2" text-anchor="middle" fill="#1a1a1a">Mut</text>
<text x="105.9" y="847.9" font-size="8.2" text-anchor="middle" fill="#1a1a1a">407</text>
<text x="184.2" y="847.9" font-size="8.2" text-anchor="middle" fill="#1a1a1a">0.616 (0.467-0.813)</text>
<text x="369" y="847.9" font-size="8.2" text-anchor="middle" fill="#1a1a1a">&lt;0.001</text>
<text x="45" y="863" font-size="8.2" text-anchor="middle" fill="#1a1a1a">VASH1</text>
<text x="105.9" y="863" font-size="8.2" text-anchor="middle" fill="#1a1a1a">544</text>
<text x="45" y="878.2" font-size="8.2" text-anchor="middle" fill="#1a1a1a">Low</text>
<text x="105.9" y="878.2" font-size="8.2" text-anchor="middle" fill="#1a1a1a">266</text>
<text x="45" y="893.3" font-size="8.2" text-anchor="middle" fill="#1a1a1a">Hgh</text>
<text x="105.9" y="893.3" font-size="8.2" text-anchor="middle" fill="#1a1a1a">278</text>
<text x="184.2" y="893.3" font-size="8.2" text-anchor="middle" fill="#1a1a1a">1.492 (1.151-1.933)</text>
<text x="369" y="893.3" font-size="8.2" text-anchor="middle" fill="#1a1a1a">0.002</text>
<line x1="264" y1="669.8" x2="264" y2="904.5" stroke="#222" stroke-width="1.25" stroke-dasharray="6.3,3.9"/>
<line x1="282.4" y1="708.8" x2="309.6" y2="708.8" stroke="#000" stroke-width="1.3"/>
<line x1="282.4" y1="706.8" x2="282.4" y2="710.8" stroke="#000" stroke-width="1.2"/>
<line x1="309.6" y1="706.8" x2="309.6" y2="710.8" stroke="#000" stroke-width="1.2"/>
<circle cx="294.1" cy="708.8" r="2.9" fill="#1d3c7a"/>
<line x1="252.1" y1="754.3" x2="253" y2="754.3" stroke="#000" stroke-width="1.3"/>
<circle cx="252.5" cy="754.3" r="2.9" fill="#1d3c7a"/>
<line x1="253.5" y1="799.8" x2="254.3" y2="799.8" stroke="#000" stroke-width="1.3"/>
<circle cx="253.9" cy="799.8" r="2.9" fill="#1d3c7a"/>
<line x1="254.9" y1="845.3" x2="261.1" y2="845.3" stroke="#000" stroke-width="1.3"/>
<line x1="254.9" y1="843.3" x2="254.9" y2="847.3" stroke="#000" stroke-width="1.2"/>
<line x1="261.1" y1="843.3" x2="261.1" y2="847.3" stroke="#000" stroke-width="1.2"/>
<circle cx="257.6" cy="845.3" r="2.9" fill="#1d3c7a"/>
<line x1="267.1" y1="890.7" x2="281" y2="890.7" stroke="#000" stroke-width="1.3"/>
<line x1="267.1" y1="888.7" x2="267.1" y2="892.7" stroke="#000" stroke-width="1.2"/>
<line x1="281" y1="888.7" x2="281" y2="892.7" stroke="#000" stroke-width="1.2"/>
<circle cx="273.2" cy="890.7" r="2.9" fill="#1d3c7a"/>
<line x1="264.4" y1="899.9" x2="264.4" y2="904.7" stroke="#000" stroke-width="1.3"/>
<text x="264.4" y="919.5" font-size="7.5" text-anchor="middle" fill="#1a1a1a">1</text>
<line x1="282.2" y1="899.9" x2="282.2" y2="904.7" stroke="#000" stroke-width="1.3"/>
<text x="282.2" y="919.5" font-size="7.5" text-anchor="middle" fill="#1a1a1a">2</text>
<line x1="300" y1="899.9" x2="300" y2="904.7" stroke="#000" stroke-width="1.3"/>
<text x="300" y="919.5" font-size="7.5" text-anchor="middle" fill="#1a1a1a">3</text>
<line x1="484.4" y1="646.3" x2="484.4" y2="845" stroke="#000" stroke-width="1.4"/>
<line x1="484.4" y1="845" x2="743" y2="845" stroke="#000" stroke-width="1.4"/>
<line x1="481.4" y1="648.4" x2="484.4" y2="648.4" stroke="#000" stroke-width="1.2"/>
<text x="476.4" y="651.9" font-size="9.8" text-anchor="end" fill="#222">7</text>
<line x1="481.4" y1="695" x2="484.4" y2="695" stroke="#000" stroke-width="1.2"/>
<text x="476.4" y="698.5" font-size="9.8" text-anchor="end" fill="#222">6</text>
<line x1="481.4" y1="741.6" x2="484.4" y2="741.6" stroke="#000" stroke-width="1.2"/>
<text x="476.4" y="745.1" font-size="9.8" text-anchor="end" fill="#222">5</text>
<line x1="481.4" y1="788.2" x2="484.4" y2="788.2" stroke="#000" stroke-width="1.2"/>
<text x="476.4" y="791.7" font-size="9.8" text-anchor="end" fill="#222">4</text>
<line x1="481.4" y1="834.8" x2="484.4" y2="834.8" stroke="#000" stroke-width="1.2"/>
<text x="476.4" y="838.3" font-size="9.8" text-anchor="end" fill="#222">3</text>
<line x1="554.4" y1="845" x2="554.4" y2="848" stroke="#000" stroke-width="1.2"/>
<text x="554.4" y="862.7" font-size="10.2" text-anchor="middle" fill="#1a1a1a">Primary</text>
<circle cx="559" cy="786" r="1.85" fill="#ec2a26"/>
<circle cx="571.5" cy="795.7" r="1.85" fill="#ec2a26"/>
<circle cx="538.3" cy="761.8" r="1.85" fill="#ec2a26"/>
<circle cx="569.8" cy="765.3" r="1.85" fill="#ec2a26"/>
<circle cx="542.7" cy="816.9" r="1.85" fill="#ec2a26"/>
<circle cx="549.2" cy="794" r="1.85" fill="#ec2a26"/>
<circle cx="542.1" cy="790.1" r="1.85" fill="#ec2a26"/>
<circle cx="552.1" cy="732.7" r="1.85" fill="#ec2a26"/>
<circle cx="543.7" cy="769" r="1.85" fill="#ec2a26"/>
<circle cx="538.6" cy="780.5" r="1.85" fill="#ec2a26"/>
<circle cx="567.5" cy="726" r="1.85" fill="#ec2a26"/>
<circle cx="544.6" cy="780.4" r="1.85" fill="#ec2a26"/>
<circle cx="577.2" cy="729.7" r="1.85" fill="#ec2a26"/>
<circle cx="538.1" cy="722.8" r="1.85" fill="#ec2a26"/>
<circle cx="556.6" cy="719.5" r="1.85" fill="#ec2a26"/>
<circle cx="567.2" cy="767.7" r="1.85" fill="#ec2a26"/>
<circle cx="556.2" cy="790.4" r="1.85" fill="#ec2a26"/>
<circle cx="553.7" cy="761.2" r="1.85" fill="#ec2a26"/>
<circle cx="564.7" cy="791.8" r="1.85" fill="#ec2a26"/>
<circle cx="576.7" cy="733.1" r="1.85" fill="#ec2a26"/>
<circle cx="549.6" cy="764.2" r="1.85" fill="#ec2a26"/>
<circle cx="564" cy="753.6" r="1.85" fill="#ec2a26"/>
<circle cx="531.7" cy="733.1" r="1.85" fill="#ec2a26"/>
<circle cx="549.1" cy="775.3" r="1.85" fill="#ec2a26"/>
<circle cx="547.7" cy="789.5" r="1.85" fill="#ec2a26"/>
<circle cx="534.2" cy="768.6" r="1.85" fill="#ec2a26"/>
<circle cx="543.3" cy="784.2" r="1.85" fill="#ec2a26"/>
<circle cx="569.8" cy="744.1" r="1.85" fill="#ec2a26"/>
<circle cx="540.6" cy="773.3" r="1.85" fill="#ec2a26"/>
<circle cx="541.1" cy="735.9" r="1.85" fill="#ec2a26"/>
<circle cx="544.7" cy="725.4" r="1.85" fill="#ec2a26"/>
<circle cx="558" cy="737.8" r="1.85" fill="#ec2a26"/>
<circle cx="570.9" cy="787.2" r="1.85" fill="#ec2a26"/>
<circle cx="542.7" cy="729.4" r="1.85" fill="#ec2a26"/>
<circle cx="571.3" cy="736.8" r="1.85" fill="#ec2a26"/>
<circle cx="548.5" cy="774.1" r="1.85" fill="#ec2a26"/>
<circle cx="545.9" cy="770.7" r="1.85" fill="#ec2a26"/>
<circle cx="532.7" cy="759" r="1.85" fill="#ec2a26"/>
<circle cx="535.6" cy="767.4" r="1.85" fill="#ec2a26"/>
<circle cx="540.8" cy="729.5" r="1.85" fill="#ec2a26"/>
<circle cx="558.4" cy="740.2" r="1.85" fill="#ec2a26"/>
<circle cx="541.2" cy="783.3" r="1.85" fill="#ec2a26"/>
<circle cx="535.8" cy="744.1" r="1.85" fill="#ec2a26"/>
<circle cx="551.9" cy="769.8" r="1.85" fill="#ec2a26"/>
<circle cx="537.3" cy="788.2" r="1.85" fill="#ec2a26"/>
<circle cx="570.3" cy="779.1" r="1.85" fill="#ec2a26"/>
<circle cx="548.8" cy="801.7" r="1.85" fill="#ec2a26"/>
<circle cx="548.4" cy="755" r="1.85" fill="#ec2a26"/>
<circle cx="563.9" cy="760.1" r="1.85" fill="#ec2a26"/>
<circle cx="572.6" cy="806.7" r="1.85" fill="#ec2a26"/>
<circle cx="571.2" cy="757.4" r="1.85" fill="#ec2a26"/>
<circle cx="563.9" cy="795.3" r="1.85" fill="#ec2a26"/>
<circle cx="535.5" cy="802.3" r="1.85" fill="#ec2a26"/>
<circle cx="535.4" cy="768.4" r="1.85" fill="#ec2a26"/>
<circle cx="573.8" cy="745.6" r="1.85" fill="#ec2a26"/>
<circle cx="570.6" cy="776.2" r="1.85" fill="#ec2a26"/>
<circle cx="548.4" cy="761.8" r="1.85" fill="#ec2a26"/>
<circle cx="539.3" cy="757.7" r="1.85" fill="#ec2a26"/>
<circle cx="574.8" cy="723.6" r="1.85" fill="#ec2a26"/>
<circle cx="556.8" cy="753.5" r="1.85" fill="#ec2a26"/>
<circle cx="532.6" cy="764.2" r="1.85" fill="#ec2a26"/>
<circle cx="555" cy="745.3" r="1.85" fill="#ec2a26"/>
<circle cx="565.5" cy="770.1" r="1.85" fill="#ec2a26"/>
<circle cx="536" cy="759.2" r="1.85" fill="#ec2a26"/>
<circle cx="546" cy="788.3" r="1.85" fill="#ec2a26"/>
<circle cx="565.9" cy="745.5" r="1.85" fill="#ec2a26"/>
<circle cx="558.5" cy="760.6" r="1.85" fill="#ec2a26"/>
<circle cx="553" cy="793.2" r="1.85" fill="#ec2a26"/>
<circle cx="548.5" cy="748.8" r="1.85" fill="#ec2a26"/>
<circle cx="548.8" cy="778.9" r="1.85" fill="#ec2a26"/>
<circle cx="551.7" cy="746.6" r="1.85" fill="#ec2a26"/>
<circle cx="572.5" cy="742.7" r="1.85" fill="#ec2a26"/>
<circle cx="552.9" cy="810.2" r="1.85" fill="#ec2a26"/>
<circle cx="538.6" cy="725.1" r="1.85" fill="#ec2a26"/>
<circle cx="569.8" cy="783.3" r="1.85" fill="#ec2a26"/>
<circle cx="548.5" cy="732.2" r="1.85" fill="#ec2a26"/>
<circle cx="565.9" cy="745.8" r="1.85" fill="#ec2a26"/>
<circle cx="574.1" cy="750.7" r="1.85" fill="#ec2a26"/>
<circle cx="549.1" cy="819.7" r="1.85" fill="#ec2a26"/>
<circle cx="576.2" cy="751.9" r="1.85" fill="#ec2a26"/>
<circle cx="546.2" cy="759.9" r="1.85" fill="#ec2a26"/>
<circle cx="548.2" cy="760" r="1.85" fill="#ec2a26"/>
<circle cx="546.6" cy="749.5" r="1.85" fill="#ec2a26"/>
<circle cx="552.2" cy="762.5" r="1.85" fill="#ec2a26"/>
<circle cx="572.4" cy="776" r="1.85" fill="#ec2a26"/>
<circle cx="550.6" cy="773.7" r="1.85" fill="#ec2a26"/>
<circle cx="542.7" cy="756.2" r="1.85" fill="#ec2a26"/>
<circle cx="545" cy="730.8" r="1.85" fill="#ec2a26"/>
<circle cx="568.5" cy="756.3" r="1.85" fill="#ec2a26"/>
<circle cx="552.4" cy="762" r="1.85" fill="#ec2a26"/>
<circle cx="553.6" cy="749.9" r="1.85" fill="#ec2a26"/>
<circle cx="560.5" cy="745" r="1.85" fill="#ec2a26"/>
<circle cx="567.7" cy="737.9" r="1.85" fill="#ec2a26"/>
<circle cx="569.9" cy="734.2" r="1.85" fill="#ec2a26"/>
<circle cx="536.8" cy="774.9" r="1.85" fill="#ec2a26"/>
<circle cx="551.3" cy="759.3" r="1.85" fill="#ec2a26"/>
<circle cx="543.4" cy="824" r="1.85" fill="#ec2a26"/>
<circle cx="549.3" cy="760" r="1.85" fill="#ec2a26"/>
<circle cx="550.5" cy="743.8" r="1.85" fill="#ec2a26"/>
<circle cx="576.5" cy="737.8" r="1.85" fill="#ec2a26"/>
<circle cx="538" cy="723.2" r="1.85" fill="#ec2a26"/>
<circle cx="554.8" cy="777.5" r="1.85" fill="#ec2a26"/>
<circle cx="554.9" cy="780.9" r="1.85" fill="#ec2a26"/>
<circle cx="574.9" cy="800.3" r="1.85" fill="#ec2a26"/>
<circle cx="544.5" cy="746.6" r="1.85" fill="#ec2a26"/>
<circle cx="550.2" cy="765.5" r="1.85" fill="#ec2a26"/>
<circle cx="544.1" cy="756" r="1.85" fill="#ec2a26"/>
<circle cx="555.4" cy="742" r="1.85" fill="#ec2a26"/>
<circle cx="541.9" cy="719.9" r="1.85" fill="#ec2a26"/>
<circle cx="569.6" cy="746.8" r="1.85" fill="#ec2a26"/>
<circle cx="572.4" cy="732.6" r="1.85" fill="#ec2a26"/>
<circle cx="539.4" cy="766" r="1.85" fill="#ec2a26"/>
<circle cx="537.6" cy="800.9" r="1.85" fill="#ec2a26"/>
<circle cx="540.2" cy="777.2" r="1.85" fill="#ec2a26"/>
<circle cx="545.5" cy="790.3" r="1.85" fill="#ec2a26"/>
<circle cx="555.3" cy="725" r="1.85" fill="#ec2a26"/>
<circle cx="570.2" cy="758.9" r="1.85" fill="#ec2a26"/>
<circle cx="547.4" cy="736.5" r="1.85" fill="#ec2a26"/>
<circle cx="544.3" cy="775.5" r="1.85" fill="#ec2a26"/>
<circle cx="535.5" cy="797.8" r="1.85" fill="#ec2a26"/>
<circle cx="550.2" cy="805" r="1.85" fill="#ec2a26"/>
<circle cx="562" cy="760.2" r="1.85" fill="#ec2a26"/>
<circle cx="542.8" cy="773.8" r="1.85" fill="#ec2a26"/>
<circle cx="533" cy="824.7" r="1.85" fill="#ec2a26"/>
<circle cx="563.7" cy="787.8" r="1.85" fill="#ec2a26"/>
<circle cx="547.8" cy="802.8" r="1.85" fill="#ec2a26"/>
<circle cx="574.4" cy="782.4" r="1.85" fill="#ec2a26"/>
<circle cx="547.8" cy="752.3" r="1.85" fill="#ec2a26"/>
<circle cx="542.6" cy="763" r="1.85" fill="#ec2a26"/>
<circle cx="567.3" cy="736.1" r="1.85" fill="#ec2a26"/>
<circle cx="571.4" cy="806.9" r="1.85" fill="#ec2a26"/>
<circle cx="544.8" cy="806" r="1.85" fill="#ec2a26"/>
<circle cx="536.3" cy="784.5" r="1.85" fill="#ec2a26"/>
<circle cx="532.5" cy="764.3" r="1.85" fill="#ec2a26"/>
<circle cx="568.5" cy="786.7" r="1.85" fill="#ec2a26"/>
<circle cx="535.4" cy="749.5" r="1.85" fill="#ec2a26"/>
<circle cx="559.9" cy="748" r="1.85" fill="#ec2a26"/>
<circle cx="557" cy="751.1" r="1.85" fill="#ec2a26"/>
<circle cx="575.4" cy="743.4" r="1.85" fill="#ec2a26"/>
<circle cx="565.4" cy="707.6" r="1.85" fill="#ec2a26"/>
<circle cx="543.4" cy="754.6" r="1.85" fill="#ec2a26"/>
<circle cx="552.7" cy="743.7" r="1.85" fill="#ec2a26"/>
<circle cx="542.3" cy="789.9" r="1.85" fill="#ec2a26"/>
<circle cx="535.6" cy="781.8" r="1.85" fill="#ec2a26"/>
<circle cx="539.6" cy="753.7" r="1.85" fill="#ec2a26"/>
<circle cx="558.4" cy="765" r="1.85" fill="#ec2a26"/>
<circle cx="566.5" cy="735.1" r="1.85" fill="#ec2a26"/>
<circle cx="572.2" cy="751.9" r="1.85" fill="#ec2a26"/>
<circle cx="556.3" cy="753.5" r="1.85" fill="#ec2a26"/>
<circle cx="562.2" cy="758.8" r="1.85" fill="#ec2a26"/>
<circle cx="552.6" cy="744.4" r="1.85" fill="#ec2a26"/>
<circle cx="532.2" cy="807" r="1.85" fill="#ec2a26"/>
<circle cx="560.6" cy="726.4" r="1.85" fill="#ec2a26"/>
<circle cx="559.1" cy="772.2" r="1.85" fill="#ec2a26"/>
<circle cx="533" cy="791.1" r="1.85" fill="#ec2a26"/>
<circle cx="548.1" cy="753.6" r="1.85" fill="#ec2a26"/>
<circle cx="549.8" cy="762.6" r="1.85" fill="#ec2a26"/>
<circle cx="570.2" cy="741.4" r="1.85" fill="#ec2a26"/>
<circle cx="557.4" cy="793" r="1.85" fill="#ec2a26"/>
<circle cx="549.8" cy="740.5" r="1.85" fill="#ec2a26"/>
<circle cx="557.2" cy="763" r="1.85" fill="#ec2a26"/>
<circle cx="562.7" cy="767.2" r="1.85" fill="#ec2a26"/>
<circle cx="547.6" cy="749.3" r="1.85" fill="#ec2a26"/>
<circle cx="531.8" cy="737.3" r="1.85" fill="#ec2a26"/>
<circle cx="536.3" cy="786.5" r="1.85" fill="#ec2a26"/>
<circle cx="540.6" cy="753.2" r="1.85" fill="#ec2a26"/>
<circle cx="562.2" cy="741.9" r="1.85" fill="#ec2a26"/>
<circle cx="549.6" cy="757.4" r="1.85" fill="#ec2a26"/>
<circle cx="577.4" cy="736.8" r="1.85" fill="#ec2a26"/>
<circle cx="576.6" cy="768.2" r="1.85" fill="#ec2a26"/>
<circle cx="576.3" cy="759.1" r="1.85" fill="#ec2a26"/>
<circle cx="560" cy="715.4" r="1.85" fill="#ec2a26"/>
<circle cx="573.7" cy="749.3" r="1.85" fill="#ec2a26"/>
<circle cx="568.6" cy="784.9" r="1.85" fill="#ec2a26"/>
<circle cx="533" cy="784.5" r="1.85" fill="#ec2a26"/>
<circle cx="531.9" cy="751.5" r="1.85" fill="#ec2a26"/>
<circle cx="542.2" cy="754.1" r="1.85" fill="#ec2a26"/>
<circle cx="547.4" cy="750" r="1.85" fill="#ec2a26"/>
<circle cx="539" cy="758.4" r="1.85" fill="#ec2a26"/>
<circle cx="573.9" cy="705.7" r="1.85" fill="#ec2a26"/>
<circle cx="572.9" cy="739.1" r="1.85" fill="#ec2a26"/>
<circle cx="574.4" cy="734" r="1.85" fill="#ec2a26"/>
<circle cx="551.6" cy="745.2" r="1.85" fill="#ec2a26"/>
<circle cx="573.6" cy="810.2" r="1.85" fill="#ec2a26"/>
<circle cx="558" cy="764.8" r="1.85" fill="#ec2a26"/>
<circle cx="565.5" cy="767" r="1.85" fill="#ec2a26"/>
<circle cx="544.6" cy="723.1" r="1.85" fill="#ec2a26"/>
<circle cx="541.5" cy="796.1" r="1.85" fill="#ec2a26"/>
<circle cx="549.2" cy="750.9" r="1.85" fill="#ec2a26"/>
<circle cx="572.5" cy="782.7" r="1.85" fill="#ec2a26"/>
<circle cx="545.3" cy="768" r="1.85" fill="#ec2a26"/>
<circle cx="532.7" cy="804.5" r="1.85" fill="#ec2a26"/>
<circle cx="546.7" cy="755.1" r="1.85" fill="#ec2a26"/>
<circle cx="576.1" cy="750.1" r="1.85" fill="#ec2a26"/>
<circle cx="549.6" cy="733.7" r="1.85" fill="#ec2a26"/>
<circle cx="575.3" cy="748.7" r="1.85" fill="#ec2a26"/>
<circle cx="546.3" cy="767.6" r="1.85" fill="#ec2a26"/>
<circle cx="571.9" cy="769.8" r="1.85" fill="#ec2a26"/>
<circle cx="541.3" cy="744.5" r="1.85" fill="#ec2a26"/>
<circle cx="556.8" cy="756.6" r="1.85" fill="#ec2a26"/>
<circle cx="559.3" cy="759.5" r="1.85" fill="#ec2a26"/>
<circle cx="555.2" cy="781.2" r="1.85" fill="#ec2a26"/>
<circle cx="569.8" cy="733" r="1.85" fill="#ec2a26"/>
<circle cx="555.4" cy="785.6" r="1.85" fill="#ec2a26"/>
<circle cx="577" cy="729.4" r="1.85" fill="#ec2a26"/>
<circle cx="550.6" cy="785.4" r="1.85" fill="#ec2a26"/>
<circle cx="562.2" cy="810.7" r="1.85" fill="#ec2a26"/>
<circle cx="559.5" cy="751.1" r="1.85" fill="#ec2a26"/>
<circle cx="544.1" cy="748.9" r="1.85" fill="#ec2a26"/>
<circle cx="570.9" cy="755.6" r="1.85" fill="#ec2a26"/>
<circle cx="573.9" cy="770.2" r="1.85" fill="#ec2a26"/>
<circle cx="560.4" cy="742.5" r="1.85" fill="#ec2a26"/>
<circle cx="560.5" cy="761.7" r="1.85" fill="#ec2a26"/>
<circle cx="536.1" cy="768.2" r="1.85" fill="#ec2a26"/>
<circle cx="550.3" cy="784.6" r="1.85" fill="#ec2a26"/>
<circle cx="549.7" cy="772.4" r="1.85" fill="#ec2a26"/>
<circle cx="577.2" cy="764.8" r="1.85" fill="#ec2a26"/>
<circle cx="544.2" cy="734.1" r="1.85" fill="#ec2a26"/>
<circle cx="560" cy="724" r="1.85" fill="#ec2a26"/>
<circle cx="563.3" cy="725.8" r="1.85" fill="#ec2a26"/>
<circle cx="544.6" cy="731.5" r="1.85" fill="#ec2a26"/>
<circle cx="555.6" cy="774.5" r="1.85" fill="#ec2a26"/>
<circle cx="558.8" cy="743.6" r="1.85" fill="#ec2a26"/>
<circle cx="565.8" cy="762.8" r="1.85" fill="#ec2a26"/>
<circle cx="577" cy="763.4" r="1.85" fill="#ec2a26"/>
<circle cx="556.1" cy="775.8" r="1.85" fill="#ec2a26"/>
<circle cx="568.4" cy="747.6" r="1.85" fill="#ec2a26"/>
<circle cx="542" cy="782.3" r="1.85" fill="#ec2a26"/>
<circle cx="569.3" cy="752.2" r="1.85" fill="#ec2a26"/>
<circle cx="559.4" cy="791.2" r="1.85" fill="#ec2a26"/>
<circle cx="542.5" cy="706.6" r="1.85" fill="#ec2a26"/>
<circle cx="572.5" cy="790.2" r="1.85" fill="#ec2a26"/>
<circle cx="575.5" cy="705" r="1.85" fill="#ec2a26"/>
<circle cx="572.7" cy="743.2" r="1.85" fill="#ec2a26"/>
<circle cx="545.2" cy="758.3" r="1.85" fill="#ec2a26"/>
<circle cx="559.9" cy="781.1" r="1.85" fill="#ec2a26"/>
<circle cx="551.5" cy="765.8" r="1.85" fill="#ec2a26"/>
<circle cx="551.2" cy="743.8" r="1.85" fill="#ec2a26"/>
<circle cx="552.7" cy="795.1" r="1.85" fill="#ec2a26"/>
<circle cx="552.2" cy="726.9" r="1.85" fill="#ec2a26"/>
<circle cx="531.8" cy="752.2" r="1.85" fill="#ec2a26"/>
<circle cx="550.2" cy="745.7" r="1.85" fill="#ec2a26"/>
<circle cx="554.4" cy="754.1" r="1.85" fill="#ec2a26"/>
<circle cx="538.4" cy="793.5" r="1.85" fill="#ec2a26"/>
<circle cx="540" cy="804.8" r="1.85" fill="#ec2a26"/>
<circle cx="566.8" cy="782.3" r="1.85" fill="#ec2a26"/>
<circle cx="572.8" cy="749.8" r="1.85" fill="#ec2a26"/>
<circle cx="565.8" cy="792.1" r="1.85" fill="#ec2a26"/>
<circle cx="535.6" cy="780.1" r="1.85" fill="#ec2a26"/>
<circle cx="534.8" cy="775.9" r="1.85" fill="#ec2a26"/>
<circle cx="545.7" cy="744" r="1.85" fill="#ec2a26"/>
<circle cx="544.9" cy="745.6" r="1.85" fill="#ec2a26"/>
<circle cx="547.2" cy="730.4" r="1.85" fill="#ec2a26"/>
<circle cx="576.2" cy="735.3" r="1.85" fill="#ec2a26"/>
<circle cx="560.5" cy="772.3" r="1.85" fill="#ec2a26"/>
<circle cx="540.9" cy="804.2" r="1.85" fill="#ec2a26"/>
<circle cx="572.6" cy="767.7" r="1.85" fill="#ec2a26"/>
<circle cx="557.4" cy="768.3" r="1.85" fill="#ec2a26"/>
<circle cx="536.2" cy="756.8" r="1.85" fill="#ec2a26"/>
<circle cx="564.7" cy="791.4" r="1.85" fill="#ec2a26"/>
<circle cx="563.3" cy="775.4" r="1.85" fill="#ec2a26"/>
<circle cx="564.1" cy="759.4" r="1.85" fill="#ec2a26"/>
<circle cx="556.8" cy="761.1" r="1.85" fill="#ec2a26"/>
<circle cx="535.9" cy="740.6" r="1.85" fill="#ec2a26"/>
<circle cx="532" cy="773" r="1.85" fill="#ec2a26"/>
<circle cx="566.8" cy="746.8" r="1.85" fill="#ec2a26"/>
<circle cx="557.5" cy="758.5" r="1.85" fill="#ec2a26"/>
<circle cx="555.1" cy="726.6" r="1.85" fill="#ec2a26"/>
<circle cx="537.9" cy="797.6" r="1.85" fill="#ec2a26"/>
<circle cx="538" cy="751" r="1.85" fill="#ec2a26"/>
<circle cx="555.3" cy="730.8" r="1.85" fill="#ec2a26"/>
<circle cx="534.8" cy="766.9" r="1.85" fill="#ec2a26"/>
<circle cx="575.1" cy="761.5" r="1.85" fill="#ec2a26"/>
<circle cx="551.2" cy="787.7" r="1.85" fill="#ec2a26"/>
<circle cx="568.3" cy="759.6" r="1.85" fill="#ec2a26"/>
<circle cx="558" cy="782.3" r="1.85" fill="#ec2a26"/>
<circle cx="537.9" cy="790.3" r="1.85" fill="#ec2a26"/>
<circle cx="532.8" cy="759.8" r="1.85" fill="#ec2a26"/>
<circle cx="560.3" cy="742.3" r="1.85" fill="#ec2a26"/>
<circle cx="534.2" cy="724.8" r="1.85" fill="#ec2a26"/>
<circle cx="540.2" cy="805.6" r="1.85" fill="#ec2a26"/>
<circle cx="541.5" cy="764.5" r="1.85" fill="#ec2a26"/>
<circle cx="549.6" cy="764.5" r="1.85" fill="#ec2a26"/>
<circle cx="533.8" cy="760.6" r="1.85" fill="#ec2a26"/>
<circle cx="542.3" cy="768.3" r="1.85" fill="#ec2a26"/>
<circle cx="558.4" cy="758.8" r="1.85" fill="#ec2a26"/>
<circle cx="539.3" cy="747.5" r="1.85" fill="#ec2a26"/>
<circle cx="552.3" cy="713.8" r="1.85" fill="#ec2a26"/>
<circle cx="550.6" cy="759.4" r="1.85" fill="#ec2a26"/>
<circle cx="576.6" cy="761.8" r="1.85" fill="#ec2a26"/>
<circle cx="534.4" cy="711.9" r="1.85" fill="#ec2a26"/>
<circle cx="558.3" cy="776.8" r="1.85" fill="#ec2a26"/>
<circle cx="550.4" cy="793" r="1.85" fill="#ec2a26"/>
<circle cx="532.3" cy="791.2" r="1.85" fill="#ec2a26"/>
<circle cx="571.4" cy="739" r="1.85" fill="#ec2a26"/>
<circle cx="548.8" cy="748.9" r="1.85" fill="#ec2a26"/>
<circle cx="531.7" cy="753.7" r="1.85" fill="#ec2a26"/>
<circle cx="548.1" cy="743.7" r="1.85" fill="#ec2a26"/>
<circle cx="546.8" cy="777.2" r="1.85" fill="#ec2a26"/>
<circle cx="561.4" cy="746.4" r="1.85" fill="#ec2a26"/>
<circle cx="554.4" cy="664" r="1.85" fill="#ec2a26"/>
<circle cx="562.7" cy="680.5" r="1.85" fill="#ec2a26"/>
<circle cx="567" cy="692.3" r="1.85" fill="#ec2a26"/>
<circle cx="540.4" cy="823" r="1.85" fill="#ec2a26"/>
<circle cx="556.4" cy="826.3" r="1.85" fill="#ec2a26"/>
<circle cx="567.7" cy="821.7" r="1.85" fill="#ec2a26"/>
<line x1="554.4" y1="703.5" x2="554.4" y2="745.9" stroke="#ec2a26" stroke-width="1.1"/>
<line x1="554.4" y1="777.8" x2="554.4" y2="826.3" stroke="#ec2a26" stroke-width="1.1"/>
<rect x="513.6" y="745.9" width="82.5" height="31.9" fill="none" stroke="#ec2a26" stroke-width="1.1"/>
<line x1="513.6" y1="761.2" x2="596.1" y2="761.2" stroke="#ec2a26" stroke-width="1.6"/>
<line x1="672.2" y1="845" x2="672.2" y2="848" stroke="#000" stroke-width="1.2"/>
<text x="672.2" y="862.7" font-size="10.2" text-anchor="middle" fill="#1a1a1a">Recurrent</text>
<circle cx="693.4" cy="782.8" r="1.85" fill="#00898f"/>
<circle cx="674.7" cy="814.5" r="1.85" fill="#00898f"/>
<circle cx="667" cy="741.5" r="1.85" fill="#00898f"/>
<circle cx="669.2" cy="788.8" r="1.85" fill="#00898f"/>
<circle cx="662" cy="762.2" r="1.85" fill="#00898f"/>
<circle cx="660.3" cy="723.2" r="1.85" fill="#00898f"/>
<circle cx="655.2" cy="759.8" r="1.85" fill="#00898f"/>
<circle cx="685.4" cy="756.6" r="1.85" fill="#00898f"/>
<circle cx="674.7" cy="737.9" r="1.85" fill="#00898f"/>
<circle cx="660.3" cy="809.4" r="1.85" fill="#00898f"/>
<circle cx="666.1" cy="757.9" r="1.85" fill="#00898f"/>
<circle cx="678.1" cy="761.6" r="1.85" fill="#00898f"/>
<circle cx="675.9" cy="742.4" r="1.85" fill="#00898f"/>
<circle cx="658.6" cy="774.9" r="1.85" fill="#00898f"/>
<circle cx="688.7" cy="740.2" r="1.85" fill="#00898f"/>
<circle cx="695.1" cy="793.2" r="1.85" fill="#00898f"/>
<circle cx="676.6" cy="818.8" r="1.85" fill="#00898f"/>
<circle cx="673.8" cy="739.6" r="1.85" fill="#00898f"/>
<circle cx="655" cy="790.9" r="1.85" fill="#00898f"/>
<circle cx="683.7" cy="750.3" r="1.85" fill="#00898f"/>
<circle cx="688.4" cy="771.5" r="1.85" fill="#00898f"/>
<circle cx="683" cy="776.4" r="1.85" fill="#00898f"/>
<circle cx="682.2" cy="766.3" r="1.85" fill="#00898f"/>
<circle cx="655.9" cy="772.7" r="1.85" fill="#00898f"/>
<circle cx="681.1" cy="728.5" r="1.85" fill="#00898f"/>
<circle cx="684.9" cy="763.2" r="1.85" fill="#00898f"/>
<circle cx="690.2" cy="765" r="1.85" fill="#00898f"/>
<circle cx="652.3" cy="751.1" r="1.85" fill="#00898f"/>
<circle cx="684.1" cy="728.9" r="1.85" fill="#00898f"/>
<circle cx="658.1" cy="789.6" r="1.85" fill="#00898f"/>
<circle cx="662.5" cy="768.8" r="1.85" fill="#00898f"/>
<circle cx="686.8" cy="777.1" r="1.85" fill="#00898f"/>
<circle cx="688" cy="785.3" r="1.85" fill="#00898f"/>
<circle cx="670.6" cy="753.2" r="1.85" fill="#00898f"/>
<circle cx="688.9" cy="790.7" r="1.85" fill="#00898f"/>
<circle cx="692.3" cy="791.6" r="1.85" fill="#00898f"/>
<circle cx="686" cy="756.4" r="1.85" fill="#00898f"/>
<circle cx="681" cy="745.9" r="1.85" fill="#00898f"/>
<circle cx="681.6" cy="762.4" r="1.85" fill="#00898f"/>
<circle cx="670.5" cy="770.1" r="1.85" fill="#00898f"/>
<circle cx="690.9" cy="742.1" r="1.85" fill="#00898f"/>
<circle cx="653.7" cy="766.8" r="1.85" fill="#00898f"/>
<circle cx="677.2" cy="771.8" r="1.85" fill="#00898f"/>
<circle cx="659.3" cy="748" r="1.85" fill="#00898f"/>
<circle cx="677.2" cy="777.8" r="1.85" fill="#00898f"/>
<circle cx="669" cy="789.2" r="1.85" fill="#00898f"/>
<circle cx="683.2" cy="766.2" r="1.85" fill="#00898f"/>
<circle cx="674.6" cy="781" r="1.85" fill="#00898f"/>
<circle cx="675.2" cy="806.8" r="1.85" fill="#00898f"/>
<circle cx="659.7" cy="809.1" r="1.85" fill="#00898f"/>
<circle cx="691.8" cy="796.4" r="1.85" fill="#00898f"/>
<circle cx="680" cy="766.4" r="1.85" fill="#00898f"/>
<circle cx="654.4" cy="817.8" r="1.85" fill="#00898f"/>
<circle cx="684.3" cy="792.9" r="1.85" fill="#00898f"/>
<circle cx="689.4" cy="796.2" r="1.85" fill="#00898f"/>
<circle cx="676.1" cy="810.4" r="1.85" fill="#00898f"/>
<circle cx="680.5" cy="788.8" r="1.85" fill="#00898f"/>
<circle cx="650.9" cy="829.1" r="1.85" fill="#00898f"/>
<circle cx="665.1" cy="784.5" r="1.85" fill="#00898f"/>
<circle cx="691.2" cy="728.3" r="1.85" fill="#00898f"/>
<circle cx="695.1" cy="801.8" r="1.85" fill="#00898f"/>
<circle cx="677.5" cy="746.8" r="1.85" fill="#00898f"/>
<circle cx="665.3" cy="761.3" r="1.85" fill="#00898f"/>
<circle cx="692.9" cy="737.4" r="1.85" fill="#00898f"/>
<circle cx="672.3" cy="787.7" r="1.85" fill="#00898f"/>
<circle cx="680.9" cy="758.9" r="1.85" fill="#00898f"/>
<circle cx="672.6" cy="748.6" r="1.85" fill="#00898f"/>
<circle cx="680.3" cy="795.9" r="1.85" fill="#00898f"/>
<circle cx="688.1" cy="756.8" r="1.85" fill="#00898f"/>
<circle cx="685" cy="731.6" r="1.85" fill="#00898f"/>
<circle cx="693" cy="782.6" r="1.85" fill="#00898f"/>
<circle cx="687.2" cy="765.8" r="1.85" fill="#00898f"/>
<circle cx="656.7" cy="780.9" r="1.85" fill="#00898f"/>
<circle cx="685.1" cy="772.3" r="1.85" fill="#00898f"/>
<circle cx="693.5" cy="765.1" r="1.85" fill="#00898f"/>
<circle cx="656.9" cy="747.9" r="1.85" fill="#00898f"/>
<circle cx="678.5" cy="773" r="1.85" fill="#00898f"/>
<circle cx="655.5" cy="758" r="1.85" fill="#00898f"/>
<circle cx="671.4" cy="777.8" r="1.85" fill="#00898f"/>
<circle cx="681.7" cy="792.8" r="1.85" fill="#00898f"/>
<circle cx="655.3" cy="729.3" r="1.85" fill="#00898f"/>
<circle cx="678.7" cy="765.4" r="1.85" fill="#00898f"/>
<circle cx="681.7" cy="771" r="1.85" fill="#00898f"/>
<circle cx="676.2" cy="779.2" r="1.85" fill="#00898f"/>
<circle cx="654.6" cy="764.8" r="1.85" fill="#00898f"/>
<circle cx="668.7" cy="732.4" r="1.85" fill="#00898f"/>
<circle cx="656.3" cy="732.5" r="1.85" fill="#00898f"/>
<circle cx="694.2" cy="780.1" r="1.85" fill="#00898f"/>
<circle cx="658.7" cy="753.5" r="1.85" fill="#00898f"/>
<circle cx="680.9" cy="787.9" r="1.85" fill="#00898f"/>
<circle cx="651.2" cy="738.7" r="1.85" fill="#00898f"/>
<circle cx="690.4" cy="764.6" r="1.85" fill="#00898f"/>
<circle cx="663.4" cy="770.7" r="1.85" fill="#00898f"/>
<circle cx="693.5" cy="755.6" r="1.85" fill="#00898f"/>
<circle cx="675.4" cy="752.8" r="1.85" fill="#00898f"/>
<circle cx="662.5" cy="744.3" r="1.85" fill="#00898f"/>
<circle cx="670.8" cy="773.8" r="1.85" fill="#00898f"/>
<circle cx="694.3" cy="769.4" r="1.85" fill="#00898f"/>
<circle cx="664.5" cy="807.2" r="1.85" fill="#00898f"/>
<circle cx="683.2" cy="763.1" r="1.85" fill="#00898f"/>
<circle cx="693.2" cy="770" r="1.85" fill="#00898f"/>
<circle cx="671.7" cy="731.8" r="1.85" fill="#00898f"/>
<circle cx="665.7" cy="762.2" r="1.85" fill="#00898f"/>
<circle cx="653.4" cy="787.9" r="1.85" fill="#00898f"/>
<circle cx="682.8" cy="774.4" r="1.85" fill="#00898f"/>
<circle cx="681.4" cy="734" r="1.85" fill="#00898f"/>
<circle cx="683.6" cy="772.4" r="1.85" fill="#00898f"/>
<circle cx="650.4" cy="774.9" r="1.85" fill="#00898f"/>
<circle cx="666.1" cy="777.6" r="1.85" fill="#00898f"/>
<circle cx="693.4" cy="758.4" r="1.85" fill="#00898f"/>
<circle cx="680.6" cy="818.1" r="1.85" fill="#00898f"/>
<circle cx="653.9" cy="775.1" r="1.85" fill="#00898f"/>
<circle cx="677.6" cy="770.9" r="1.85" fill="#00898f"/>
<circle cx="666.7" cy="787.5" r="1.85" fill="#00898f"/>
<circle cx="659.8" cy="780.6" r="1.85" fill="#00898f"/>
<circle cx="655.5" cy="785.1" r="1.85" fill="#00898f"/>
<circle cx="660.9" cy="726" r="1.85" fill="#00898f"/>
<circle cx="651.9" cy="789.3" r="1.85" fill="#00898f"/>
<circle cx="691.6" cy="732.4" r="1.85" fill="#00898f"/>
<circle cx="695.2" cy="739.3" r="1.85" fill="#00898f"/>
<circle cx="659.2" cy="773.3" r="1.85" fill="#00898f"/>
<circle cx="668.7" cy="762.3" r="1.85" fill="#00898f"/>
<circle cx="676.9" cy="776.5" r="1.85" fill="#00898f"/>
<circle cx="659.7" cy="776.3" r="1.85" fill="#00898f"/>
<circle cx="655.6" cy="776.5" r="1.85" fill="#00898f"/>
<circle cx="694.2" cy="783" r="1.85" fill="#00898f"/>
<circle cx="688.3" cy="785.6" r="1.85" fill="#00898f"/>
<circle cx="666.3" cy="783.8" r="1.85" fill="#00898f"/>
<circle cx="650.7" cy="764.6" r="1.85" fill="#00898f"/>
<circle cx="672.7" cy="802.3" r="1.85" fill="#00898f"/>
<circle cx="655.8" cy="796.5" r="1.85" fill="#00898f"/>
<circle cx="681.9" cy="759.4" r="1.85" fill="#00898f"/>
<circle cx="690.2" cy="763.2" r="1.85" fill="#00898f"/>
<circle cx="693.2" cy="763.8" r="1.85" fill="#00898f"/>
<circle cx="657.3" cy="765.6" r="1.85" fill="#00898f"/>
<circle cx="649.4" cy="770.6" r="1.85" fill="#00898f"/>
<circle cx="686.2" cy="790.4" r="1.85" fill="#00898f"/>
<circle cx="670.8" cy="781.1" r="1.85" fill="#00898f"/>
<circle cx="674.2" cy="795" r="1.85" fill="#00898f"/>
<circle cx="673.8" cy="792.5" r="1.85" fill="#00898f"/>
<circle cx="678" cy="769.5" r="1.85" fill="#00898f"/>
<circle cx="677.2" cy="752.8" r="1.85" fill="#00898f"/>
<circle cx="653" cy="746.4" r="1.85" fill="#00898f"/>
<circle cx="664.5" cy="752.5" r="1.85" fill="#00898f"/>
<circle cx="679.5" cy="803.2" r="1.85" fill="#00898f"/>
<circle cx="666.2" cy="790.3" r="1.85" fill="#00898f"/>
<circle cx="679.4" cy="777" r="1.85" fill="#00898f"/>
<circle cx="673.6" cy="734.9" r="1.85" fill="#00898f"/>
<circle cx="678.3" cy="729.7" r="1.85" fill="#00898f"/>
<circle cx="683.2" cy="756.8" r="1.85" fill="#00898f"/>
<circle cx="681" cy="780.9" r="1.85" fill="#00898f"/>
<circle cx="674.7" cy="747.4" r="1.85" fill="#00898f"/>
<circle cx="692.6" cy="741.2" r="1.85" fill="#00898f"/>
<circle cx="669.5" cy="778.4" r="1.85" fill="#00898f"/>
<circle cx="661.2" cy="752.8" r="1.85" fill="#00898f"/>
<circle cx="658.5" cy="757.6" r="1.85" fill="#00898f"/>
<circle cx="687.7" cy="766.8" r="1.85" fill="#00898f"/>
<circle cx="679.1" cy="784.1" r="1.85" fill="#00898f"/>
<circle cx="681.8" cy="752.9" r="1.85" fill="#00898f"/>
<circle cx="659.6" cy="733.2" r="1.85" fill="#00898f"/>
<circle cx="681.2" cy="796.3" r="1.85" fill="#00898f"/>
<circle cx="683" cy="758.9" r="1.85" fill="#00898f"/>
<circle cx="688.4" cy="740.2" r="1.85" fill="#00898f"/>
<circle cx="680.5" cy="783.9" r="1.85" fill="#00898f"/>
<circle cx="672.3" cy="762.7" r="1.85" fill="#00898f"/>
<circle cx="672.5" cy="779.3" r="1.85" fill="#00898f"/>
<circle cx="678" cy="735.4" r="1.85" fill="#00898f"/>
<circle cx="693.4" cy="817.3" r="1.85" fill="#00898f"/>
<circle cx="680.7" cy="793.8" r="1.85" fill="#00898f"/>
<circle cx="674.2" cy="769.4" r="1.85" fill="#00898f"/>
<circle cx="671.1" cy="751.2" r="1.85" fill="#00898f"/>
<circle cx="653.5" cy="770" r="1.85" fill="#00898f"/>
<circle cx="667.8" cy="790.6" r="1.85" fill="#00898f"/>
<circle cx="651.4" cy="742.5" r="1.85" fill="#00898f"/>
<circle cx="693.1" cy="730.1" r="1.85" fill="#00898f"/>
<circle cx="670.3" cy="756.9" r="1.85" fill="#00898f"/>
<circle cx="691" cy="757.2" r="1.85" fill="#00898f"/>
<circle cx="653.2" cy="757.7" r="1.85" fill="#00898f"/>
<circle cx="654.5" cy="750.4" r="1.85" fill="#00898f"/>
<circle cx="682.7" cy="768" r="1.85" fill="#00898f"/>
<circle cx="687.9" cy="781.1" r="1.85" fill="#00898f"/>
<circle cx="686.2" cy="748.3" r="1.85" fill="#00898f"/>
<circle cx="661" cy="767.1" r="1.85" fill="#00898f"/>
<circle cx="660.2" cy="770.5" r="1.85" fill="#00898f"/>
<circle cx="665.6" cy="796.5" r="1.85" fill="#00898f"/>
<circle cx="671.7" cy="769.3" r="1.85" fill="#00898f"/>
<circle cx="665.6" cy="757.5" r="1.85" fill="#00898f"/>
<circle cx="664.3" cy="787.7" r="1.85" fill="#00898f"/>
<circle cx="691.1" cy="771.9" r="1.85" fill="#00898f"/>
<circle cx="660.4" cy="770.7" r="1.85" fill="#00898f"/>
<circle cx="650.2" cy="789.7" r="1.85" fill="#00898f"/>
<circle cx="694.7" cy="737" r="1.85" fill="#00898f"/>
<circle cx="671.7" cy="807" r="1.85" fill="#00898f"/>
<circle cx="652.6" cy="750.8" r="1.85" fill="#00898f"/>
<circle cx="692" cy="767.5" r="1.85" fill="#00898f"/>
<circle cx="689.4" cy="752.9" r="1.85" fill="#00898f"/>
<circle cx="676.3" cy="789.3" r="1.85" fill="#00898f"/>
<circle cx="660.7" cy="807.5" r="1.85" fill="#00898f"/>
<circle cx="661.6" cy="725.4" r="1.85" fill="#00898f"/>
<circle cx="669.6" cy="767.5" r="1.85" fill="#00898f"/>
<circle cx="687" cy="668.8" r="1.85" fill="#00898f"/>
<circle cx="659.6" cy="835.6" r="1.85" fill="#00898f"/>
<circle cx="652" cy="832.2" r="1.85" fill="#00898f"/>
<line x1="672.2" y1="704.1" x2="672.2" y2="751.2" stroke="#00898f" stroke-width="1.1"/>
<line x1="672.2" y1="784.2" x2="672.2" y2="830.9" stroke="#00898f" stroke-width="1.1"/>
<rect x="631.5" y="751.2" width="82.1" height="33" fill="none" stroke="#00898f" stroke-width="1.1"/>
<line x1="631.5" y1="766.8" x2="713.6" y2="766.8" stroke="#00898f" stroke-width="1.6"/>
<path d="M554.4 660.5 V655.4 H672.6 V660.5" fill="none" stroke="#000" stroke-width="1.1"/>
<text x="613.5" y="651.8" font-size="9.8" text-anchor="middle" fill="#1a1a1a" stroke="#1a1a1a" stroke-width="0.4">0.014</text>
<text x="612.7" y="885.8" font-size="10.2" text-anchor="middle" fill="#1a1a1a">PRS_type</text>
<text x="0" y="0" font-size="10.2" text-anchor="middle" fill="#1a1a1a" transform="translate(456.2,747.3) rotate(-90)">VASH1 expression</text>
<text x="485.5" y="919.4" font-size="10.2" text-anchor="start" fill="#1a1a1a">PRS_type</text>
<rect x="546.1" y="912.6" width="10" height="7" fill="none" stroke="#ec2a26" stroke-width="1.3"/>
<line x1="546.1" y1="916.1" x2="556.1" y2="916.1" stroke="#ec2a26" stroke-width="1.3"/>
<line x1="551.1" y1="909.9" x2="551.1" y2="922.2" stroke="#ec2a26" stroke-width="1.3"/>
<text x="566.6" y="919.4" font-size="10.2" text-anchor="start" fill="#1a1a1a">Primary</text>
<rect x="621.3" y="912.6" width="10" height="7" fill="none" stroke="#00898f" stroke-width="1.3"/>
<line x1="621.3" y1="916.1" x2="631.3" y2="916.1" stroke="#00898f" stroke-width="1.3"/>
<line x1="626.3" y1="909.9" x2="626.3" y2="922.2" stroke="#00898f" stroke-width="1.3"/>
<text x="641.8" y="919.4" font-size="10.2" text-anchor="start" fill="#1a1a1a">Recurrent</text>
<line x1="118.4" y1="973.2" x2="118.4" y2="1170.4" stroke="#000" stroke-width="1.4"/>
<line x1="118.4" y1="1170.4" x2="347.7" y2="1170.4" stroke="#000" stroke-width="1.4"/>
<line x1="115.4" y1="990.1" x2="118.4" y2="990.1" stroke="#000" stroke-width="1.2"/>
<text x="108.4" y="993.6" font-size="9.8" text-anchor="end" fill="#222">7</text>
<line x1="115.4" y1="1035.8" x2="118.4" y2="1035.8" stroke="#000" stroke-width="1.2"/>
<text x="108.4" y="1039.3" font-size="9.8" text-anchor="end" fill="#222">6</text>
<line x1="115.4" y1="1081.5" x2="118.4" y2="1081.5" stroke="#000" stroke-width="1.2"/>
<text x="108.4" y="1085" font-size="9.8" text-anchor="end" fill="#222">5</text>
<line x1="115.4" y1="1127.2" x2="118.4" y2="1127.2" stroke="#000" stroke-width="1.2"/>
<text x="108.4" y="1130.7" font-size="9.8" text-anchor="end" fill="#222">4</text>
<line x1="180.5" y1="1170.4" x2="180.5" y2="1173.4" stroke="#000" stroke-width="1.2"/>
<text x="180.5" y="1187.2" font-size="10.2" text-anchor="middle" fill="#1a1a1a">WHO II</text>
<circle cx="180" cy="1086.9" r="2.1" fill="#ec2a26"/>
<circle cx="194.1" cy="1105.1" r="2.1" fill="#ec2a26"/>
<circle cx="163.3" cy="1098.4" r="2.1" fill="#ec2a26"/>
<circle cx="184.5" cy="1124.3" r="2.1" fill="#ec2a26"/>
<circle cx="194.3" cy="1122.8" r="2.1" fill="#ec2a26"/>
<circle cx="178.4" cy="1062.7" r="2.1" fill="#ec2a26"/>
<circle cx="169.6" cy="1106.5" r="2.1" fill="#ec2a26"/>
<circle cx="174.9" cy="1070.9" r="2.1" fill="#ec2a26"/>
<circle cx="181.6" cy="1106.6" r="2.1" fill="#ec2a26"/>
<circle cx="185.5" cy="1103.8" r="2.1" fill="#ec2a26"/>
<circle cx="168.8" cy="1087.1" r="2.1" fill="#ec2a26"/>
<circle cx="173.7" cy="1082.6" r="2.1" fill="#ec2a26"/>
<circle cx="179.2" cy="1134.3" r="2.1" fill="#ec2a26"/>
<circle cx="173.9" cy="1079.6" r="2.1" fill="#ec2a26"/>
<circle cx="179.8" cy="1107" r="2.1" fill="#ec2a26"/>
<circle cx="195.7" cy="1096.3" r="2.1" fill="#ec2a26"/>
<circle cx="184.9" cy="1080.9" r="2.1" fill="#ec2a26"/>
<circle cx="166.1" cy="1125.5" r="2.1" fill="#ec2a26"/>
<circle cx="175.8" cy="1127.5" r="2.1" fill="#ec2a26"/>
<circle cx="174.7" cy="1070.1" r="2.1" fill="#ec2a26"/>
<circle cx="165.9" cy="1127.6" r="2.1" fill="#ec2a26"/>
<circle cx="188.5" cy="1113.3" r="2.1" fill="#ec2a26"/>
<circle cx="164.2" cy="1054.1" r="2.1" fill="#ec2a26"/>
<circle cx="168.4" cy="1125.5" r="2.1" fill="#ec2a26"/>
<circle cx="164.3" cy="1127.1" r="2.1" fill="#ec2a26"/>
<circle cx="192.3" cy="1084.9" r="2.1" fill="#ec2a26"/>
<circle cx="192.5" cy="1094.2" r="2.1" fill="#ec2a26"/>
<circle cx="166" cy="1116.2" r="2.1" fill="#ec2a26"/>
<circle cx="174.1" cy="1071.9" r="2.1" fill="#ec2a26"/>
<circle cx="170.2" cy="1129.8" r="2.1" fill="#ec2a26"/>
<circle cx="195.6" cy="1063.1" r="2.1" fill="#ec2a26"/>
<circle cx="188.7" cy="1103.7" r="2.1" fill="#ec2a26"/>
<circle cx="187.4" cy="1120.3" r="2.1" fill="#ec2a26"/>
<circle cx="180.7" cy="1067.6" r="2.1" fill="#ec2a26"/>
<circle cx="196.4" cy="1127.2" r="2.1" fill="#ec2a26"/>
<circle cx="166.4" cy="1069.4" r="2.1" fill="#ec2a26"/>
<circle cx="187.4" cy="1085" r="2.1" fill="#ec2a26"/>
<circle cx="176.7" cy="1050.4" r="2.1" fill="#ec2a26"/>
<circle cx="197.8" cy="1132" r="2.1" fill="#ec2a26"/>
<circle cx="184" cy="1073.8" r="2.1" fill="#ec2a26"/>
<circle cx="170.5" cy="1075.2" r="2.1" fill="#ec2a26"/>
<circle cx="183.4" cy="1068.7" r="2.1" fill="#ec2a26"/>
<circle cx="163.3" cy="1133" r="2.1" fill="#ec2a26"/>
<circle cx="168" cy="1151.7" r="2.1" fill="#ec2a26"/>
<circle cx="172.6" cy="1070.5" r="2.1" fill="#ec2a26"/>
<circle cx="174.6" cy="1113.6" r="2.1" fill="#ec2a26"/>
<circle cx="188.2" cy="1086.1" r="2.1" fill="#ec2a26"/>
<circle cx="194.2" cy="1108.8" r="2.1" fill="#ec2a26"/>
<circle cx="173.2" cy="1152.6" r="2.1" fill="#ec2a26"/>
<circle cx="182.4" cy="1075.7" r="2.1" fill="#ec2a26"/>
<circle cx="190.9" cy="1053" r="2.1" fill="#ec2a26"/>
<circle cx="161.1" cy="1111.4" r="2.1" fill="#ec2a26"/>
<circle cx="162.2" cy="1111.7" r="2.1" fill="#ec2a26"/>
<circle cx="171.7" cy="1147.3" r="2.1" fill="#ec2a26"/>
<circle cx="180.6" cy="1082.6" r="2.1" fill="#ec2a26"/>
<circle cx="162.6" cy="1084.4" r="2.1" fill="#ec2a26"/>
<circle cx="165.5" cy="1088.5" r="2.1" fill="#ec2a26"/>
<circle cx="193.3" cy="1090" r="2.1" fill="#ec2a26"/>
<circle cx="183.5" cy="1096.2" r="2.1" fill="#ec2a26"/>
<circle cx="171.2" cy="1099.5" r="2.1" fill="#ec2a26"/>
<circle cx="186.3" cy="1101.4" r="2.1" fill="#ec2a26"/>
<circle cx="161.4" cy="1077.8" r="2.1" fill="#ec2a26"/>
<circle cx="173.3" cy="1097" r="2.1" fill="#ec2a26"/>
<circle cx="179.9" cy="1095.2" r="2.1" fill="#ec2a26"/>
<circle cx="184.9" cy="1103.2" r="2.1" fill="#ec2a26"/>
<circle cx="195.2" cy="1094.3" r="2.1" fill="#ec2a26"/>
<circle cx="192.5" cy="1113.2" r="2.1" fill="#ec2a26"/>
<circle cx="191.6" cy="1070.6" r="2.1" fill="#ec2a26"/>
<circle cx="200.2" cy="1081.7" r="2.1" fill="#ec2a26"/>
<circle cx="195.6" cy="1145.3" r="2.1" fill="#ec2a26"/>
<circle cx="161.4" cy="1065.2" r="2.1" fill="#ec2a26"/>
<circle cx="173" cy="1113.4" r="2.1" fill="#ec2a26"/>
<circle cx="177.1" cy="1066.9" r="2.1" fill="#ec2a26"/>
<circle cx="166.6" cy="1110.4" r="2.1" fill="#ec2a26"/>
<circle cx="161.1" cy="1143.4" r="2.1" fill="#ec2a26"/>
<circle cx="194.3" cy="1091.7" r="2.1" fill="#ec2a26"/>
<circle cx="174.8" cy="1070.3" r="2.1" fill="#ec2a26"/>
<circle cx="187.8" cy="1113.3" r="2.1" fill="#ec2a26"/>
<circle cx="195.3" cy="1082.1" r="2.1" fill="#ec2a26"/>
<circle cx="183.5" cy="1060.1" r="2.1" fill="#ec2a26"/>
<circle cx="193.2" cy="1094.8" r="2.1" fill="#ec2a26"/>
<circle cx="179.6" cy="1065.7" r="2.1" fill="#ec2a26"/>
<circle cx="186.6" cy="1064.8" r="2.1" fill="#ec2a26"/>
<circle cx="182.5" cy="1092.1" r="2.1" fill="#ec2a26"/>
<circle cx="174.9" cy="1107.4" r="2.1" fill="#ec2a26"/>
<circle cx="161.9" cy="1161" r="2.1" fill="#ec2a26"/>
<circle cx="180.5" cy="1045.5" r="2.1" fill="#ec2a26"/>
<line x1="180.5" y1="1045.5" x2="180.5" y2="1086.4" stroke="#ec2a26" stroke-width="1.1"/>
<line x1="180.5" y1="1119" x2="180.5" y2="1161" stroke="#ec2a26" stroke-width="1.1"/>
<rect x="144.4" y="1086.4" width="72.1" height="32.6" fill="none" stroke="#ec2a26" stroke-width="1.1"/>
<line x1="144.4" y1="1099" x2="216.5" y2="1099" stroke="#ec2a26" stroke-width="1.6"/>
<line x1="284.4" y1="1170.4" x2="284.4" y2="1173.4" stroke="#000" stroke-width="1.2"/>
<text x="284.4" y="1187.2" font-size="10.2" text-anchor="middle" fill="#1a1a1a">WHO III</text>
<circle cx="285.6" cy="1122.6" r="2.1" fill="#168a16"/>
<circle cx="286.8" cy="1097.1" r="2.1" fill="#168a16"/>
<circle cx="267.9" cy="1077.3" r="2.1" fill="#168a16"/>
<circle cx="270" cy="1071.7" r="2.1" fill="#168a16"/>
<circle cx="304.1" cy="1110.4" r="2.1" fill="#168a16"/>
<circle cx="302.4" cy="1111.2" r="2.1" fill="#168a16"/>
<circle cx="286.2" cy="1102.8" r="2.1" fill="#168a16"/>
<circle cx="272.3" cy="1102.7" r="2.1" fill="#168a16"/>
<circle cx="288.8" cy="1091.5" r="2.1" fill="#168a16"/>
<circle cx="294.2" cy="1111.9" r="2.1" fill="#168a16"/>
<circle cx="299" cy="1056.7" r="2.1" fill="#168a16"/>
<circle cx="295.9" cy="1121" r="2.1" fill="#168a16"/>
<circle cx="293" cy="1115.4" r="2.1" fill="#168a16"/>
<circle cx="282" cy="1098.3" r="2.1" fill="#168a16"/>
<circle cx="301.3" cy="1084.4" r="2.1" fill="#168a16"/>
<circle cx="300.9" cy="1106.7" r="2.1" fill="#168a16"/>
<circle cx="296.3" cy="1106.6" r="2.1" fill="#168a16"/>
<circle cx="264.9" cy="1084.4" r="2.1" fill="#168a16"/>
<circle cx="297" cy="1096.7" r="2.1" fill="#168a16"/>
<circle cx="301.4" cy="1097.9" r="2.1" fill="#168a16"/>
<circle cx="273.2" cy="1104.2" r="2.1" fill="#168a16"/>
<circle cx="279.3" cy="1113.3" r="2.1" fill="#168a16"/>
<circle cx="290.9" cy="1076" r="2.1" fill="#168a16"/>
<circle cx="299.2" cy="1106.7" r="2.1" fill="#168a16"/>
<circle cx="293" cy="1089.9" r="2.1" fill="#168a16"/>
<circle cx="273.8" cy="1093.6" r="2.1" fill="#168a16"/>
<circle cx="281.3" cy="1106.9" r="2.1" fill="#168a16"/>
<circle cx="275.3" cy="1078.4" r="2.1" fill="#168a16"/>
<circle cx="304.2" cy="1075" r="2.1" fill="#168a16"/>
<circle cx="296.4" cy="1112.9" r="2.1" fill="#168a16"/>
<circle cx="295.5" cy="1087" r="2.1" fill="#168a16"/>
<circle cx="276.2" cy="1082.6" r="2.1" fill="#168a16"/>
<circle cx="267.5" cy="1098" r="2.1" fill="#168a16"/>
<circle cx="274.1" cy="1048.2" r="2.1" fill="#168a16"/>
<circle cx="277" cy="1093.4" r="2.1" fill="#168a16"/>
<circle cx="272.6" cy="1138.5" r="2.1" fill="#168a16"/>
<circle cx="266" cy="1131" r="2.1" fill="#168a16"/>
<circle cx="294.1" cy="1085.6" r="2.1" fill="#168a16"/>
<circle cx="265.7" cy="1138.1" r="2.1" fill="#168a16"/>
<circle cx="281.7" cy="1090.8" r="2.1" fill="#168a16"/>
<circle cx="269.6" cy="1118.8" r="2.1" fill="#168a16"/>
<circle cx="296.9" cy="1062.6" r="2.1" fill="#168a16"/>
<circle cx="270.1" cy="1108" r="2.1" fill="#168a16"/>
<circle cx="276.3" cy="1084.1" r="2.1" fill="#168a16"/>
<circle cx="284.5" cy="1100.9" r="2.1" fill="#168a16"/>
<circle cx="282.9" cy="1117.2" r="2.1" fill="#168a16"/>
<circle cx="280.2" cy="1063.9" r="2.1" fill="#168a16"/>
<circle cx="291.2" cy="1122.6" r="2.1" fill="#168a16"/>
<circle cx="280.2" cy="1077.7" r="2.1" fill="#168a16"/>
<circle cx="287.9" cy="1119.3" r="2.1" fill="#168a16"/>
<circle cx="272.1" cy="1052.9" r="2.1" fill="#168a16"/>
<circle cx="269.4" cy="1097.3" r="2.1" fill="#168a16"/>
<circle cx="288.3" cy="1097.4" r="2.1" fill="#168a16"/>
<circle cx="293.8" cy="1126" r="2.1" fill="#168a16"/>
<circle cx="265.8" cy="1110.5" r="2.1" fill="#168a16"/>
<circle cx="268.4" cy="1087.9" r="2.1" fill="#168a16"/>
<circle cx="303.2" cy="1099.6" r="2.1" fill="#168a16"/>
<circle cx="264" cy="1067.1" r="2.1" fill="#168a16"/>
<circle cx="273.1" cy="1099.6" r="2.1" fill="#168a16"/>
<circle cx="286.3" cy="1125.8" r="2.1" fill="#168a16"/>
<circle cx="304.7" cy="1102.6" r="2.1" fill="#168a16"/>
<circle cx="303.2" cy="1137.4" r="2.1" fill="#168a16"/>
<circle cx="267" cy="1102.7" r="2.1" fill="#168a16"/>
<circle cx="303.8" cy="1050.6" r="2.1" fill="#168a16"/>
<circle cx="273.1" cy="1102.7" r="2.1" fill="#168a16"/>
<circle cx="264.5" cy="1062.5" r="2.1" fill="#168a16"/>
<circle cx="274.9" cy="1078.9" r="2.1" fill="#168a16"/>
<circle cx="265.8" cy="1079.7" r="2.1" fill="#168a16"/>
<circle cx="296.3" cy="1097.7" r="2.1" fill="#168a16"/>
<circle cx="277.2" cy="1077.3" r="2.1" fill="#168a16"/>
<circle cx="265.6" cy="1099.9" r="2.1" fill="#168a16"/>
<circle cx="277.4" cy="1112.3" r="2.1" fill="#168a16"/>
<circle cx="285.4" cy="1022.7" r="2.1" fill="#168a16"/>
<circle cx="304.7" cy="1161.7" r="2.1" fill="#168a16"/>
<line x1="284.4" y1="1039.5" x2="284.4" y2="1080.5" stroke="#168a16" stroke-width="1.1"/>
<line x1="284.4" y1="1111.3" x2="284.4" y2="1139.3" stroke="#168a16" stroke-width="1.1"/>
<rect x="247.7" y="1080.5" width="73.4" height="30.8" fill="none" stroke="#168a16" stroke-width="1.1"/>
<line x1="247.7" y1="1094.5" x2="321.1" y2="1094.5" stroke="#168a16" stroke-width="1.6"/>
<path d="M180.5 1019.4 V1015.7 H284.4 V1019.4" fill="none" stroke="#000" stroke-width="1.1"/>
<text x="232.4" y="1012.1" font-size="9.8" text-anchor="middle" fill="#1a1a1a" stroke="#1a1a1a" stroke-width="0.4">0.049</text>
<text x="231.8" y="1209.2" font-size="10.2" text-anchor="middle" fill="#1a1a1a">Grade</text>
<text x="0" y="0" font-size="10.2" text-anchor="middle" fill="#1a1a1a" transform="translate(88.5,1072) rotate(-90)">VASH1 expression</text>
<text x="119.2" y="1243.9" font-size="10.2" text-anchor="start" fill="#1a1a1a">Grade</text>
<rect x="165.2" y="1237.1" width="10" height="7" fill="none" stroke="#ec2a26" stroke-width="1.3"/>
<line x1="165.2" y1="1240.6" x2="175.2" y2="1240.6" stroke="#ec2a26" stroke-width="1.3"/>
<line x1="170.2" y1="1234.4" x2="170.2" y2="1246.7" stroke="#ec2a26" stroke-width="1.3"/>
<text x="185.7" y="1243.9" font-size="10.2" text-anchor="start" fill="#1a1a1a">WHO II</text>
<rect x="240.7" y="1237.1" width="10" height="7" fill="none" stroke="#168a16" stroke-width="1.3"/>
<line x1="240.7" y1="1240.6" x2="250.7" y2="1240.6" stroke="#168a16" stroke-width="1.3"/>
<line x1="245.7" y1="1234.4" x2="245.7" y2="1246.7" stroke="#168a16" stroke-width="1.3"/>
<text x="261.2" y="1243.9" font-size="10.2" text-anchor="start" fill="#1a1a1a">WHO III</text>
<line x1="404" y1="969.2" x2="404" y2="1169.8" stroke="#000" stroke-width="1.4"/>
<line x1="404" y1="1169.8" x2="663" y2="1169.8" stroke="#000" stroke-width="1.4"/>
<line x1="401" y1="970.5" x2="404" y2="970.5" stroke="#000" stroke-width="1.2"/>
<text x="395" y="974" font-size="9.8" text-anchor="end" fill="#222">7</text>
<line x1="401" y1="1019.4" x2="404" y2="1019.4" stroke="#000" stroke-width="1.2"/>
<text x="395" y="1022.9" font-size="9.8" text-anchor="end" fill="#222">6</text>
<line x1="401" y1="1068.3" x2="404" y2="1068.3" stroke="#000" stroke-width="1.2"/>
<text x="395" y="1071.8" font-size="9.8" text-anchor="end" fill="#222">5</text>
<line x1="401" y1="1117.2" x2="404" y2="1117.2" stroke="#000" stroke-width="1.2"/>
<text x="395" y="1120.7" font-size="9.8" text-anchor="end" fill="#222">4</text>
<line x1="401" y1="1166.1" x2="404" y2="1166.1" stroke="#000" stroke-width="1.2"/>
<text x="395" y="1169.6" font-size="9.8" text-anchor="end" fill="#222">3</text>
<line x1="475.4" y1="1169.8" x2="475.4" y2="1172.8" stroke="#000" stroke-width="1.2"/>
<text x="475.4" y="1187.5" font-size="10.2" text-anchor="middle" fill="#1a1a1a">Mutant</text>
<circle cx="471.2" cy="1087.7" r="1.75" fill="#ec2a26"/>
<circle cx="464.7" cy="1051.2" r="1.75" fill="#ec2a26"/>
<circle cx="471.8" cy="1095.5" r="1.75" fill="#ec2a26"/>
<circle cx="459.2" cy="1118.2" r="1.75" fill="#ec2a26"/>
<circle cx="487.5" cy="1100" r="1.75" fill="#ec2a26"/>
<circle cx="493.8" cy="1059.6" r="1.75" fill="#ec2a26"/>
<circle cx="481.7" cy="1125.1" r="1.75" fill="#ec2a26"/>
<circle cx="498" cy="1091.6" r="1.75" fill="#ec2a26"/>
<circle cx="484.4" cy="1063.5" r="1.75" fill="#ec2a26"/>
<circle cx="490.5" cy="1103.6" r="1.75" fill="#ec2a26"/>
<circle cx="481" cy="1099.4" r="1.75" fill="#ec2a26"/>
<circle cx="453.8" cy="1103.1" r="1.75" fill="#ec2a26"/>
<circle cx="478.1" cy="1099.2" r="1.75" fill="#ec2a26"/>
<circle cx="484" cy="1119.3" r="1.75" fill="#ec2a26"/>
<circle cx="473.3" cy="1129.4" r="1.75" fill="#ec2a26"/>
<circle cx="479" cy="1080.2" r="1.75" fill="#ec2a26"/>
<circle cx="474" cy="1130.3" r="1.75" fill="#ec2a26"/>
<circle cx="468.1" cy="1087.5" r="1.75" fill="#ec2a26"/>
<circle cx="490.5" cy="1117.8" r="1.75" fill="#ec2a26"/>
<circle cx="488.9" cy="1100.9" r="1.75" fill="#ec2a26"/>
<circle cx="455.2" cy="1077.3" r="1.75" fill="#ec2a26"/>
<circle cx="497.4" cy="1111.3" r="1.75" fill="#ec2a26"/>
<circle cx="490.5" cy="1097.6" r="1.75" fill="#ec2a26"/>
<circle cx="455.6" cy="1056.2" r="1.75" fill="#ec2a26"/>
<circle cx="495" cy="1082.6" r="1.75" fill="#ec2a26"/>
<circle cx="487.7" cy="1130" r="1.75" fill="#ec2a26"/>
<circle cx="492" cy="1097.5" r="1.75" fill="#ec2a26"/>
<circle cx="468.4" cy="1044.6" r="1.75" fill="#ec2a26"/>
<circle cx="498.5" cy="1122" r="1.75" fill="#ec2a26"/>
<circle cx="455.3" cy="1111.5" r="1.75" fill="#ec2a26"/>
<circle cx="461.7" cy="1092.6" r="1.75" fill="#ec2a26"/>
<circle cx="460.1" cy="1118.1" r="1.75" fill="#ec2a26"/>
<circle cx="459.3" cy="1119.3" r="1.75" fill="#ec2a26"/>
<circle cx="482.9" cy="1065" r="1.75" fill="#ec2a26"/>
<circle cx="491.9" cy="1066.3" r="1.75" fill="#ec2a26"/>
<circle cx="482.4" cy="1037.6" r="1.75" fill="#ec2a26"/>
<circle cx="469" cy="1074.5" r="1.75" fill="#ec2a26"/>
<circle cx="492.2" cy="1105.8" r="1.75" fill="#ec2a26"/>
<circle cx="484.8" cy="1117.5" r="1.75" fill="#ec2a26"/>
<circle cx="469.6" cy="1082.2" r="1.75" fill="#ec2a26"/>
<circle cx="476.4" cy="1118.7" r="1.75" fill="#ec2a26"/>
<circle cx="466.2" cy="1065.2" r="1.75" fill="#ec2a26"/>
<circle cx="465.7" cy="1104.5" r="1.75" fill="#ec2a26"/>
<circle cx="472.9" cy="1111.3" r="1.75" fill="#ec2a26"/>
<circle cx="486.1" cy="1065.9" r="1.75" fill="#ec2a26"/>
<circle cx="460.3" cy="1070.1" r="1.75" fill="#ec2a26"/>
<circle cx="458.3" cy="1096.5" r="1.75" fill="#ec2a26"/>
<circle cx="474.9" cy="1094" r="1.75" fill="#ec2a26"/>
<circle cx="476.5" cy="1112.9" r="1.75" fill="#ec2a26"/>
<circle cx="489.4" cy="1124" r="1.75" fill="#ec2a26"/>
<circle cx="452.3" cy="1094.3" r="1.75" fill="#ec2a26"/>
<circle cx="464.3" cy="1060.9" r="1.75" fill="#ec2a26"/>
<circle cx="477.5" cy="1112.2" r="1.75" fill="#ec2a26"/>
<circle cx="494.7" cy="1105.6" r="1.75" fill="#ec2a26"/>
<circle cx="472.5" cy="1094.4" r="1.75" fill="#ec2a26"/>
<circle cx="476.6" cy="1073.5" r="1.75" fill="#ec2a26"/>
<circle cx="458.2" cy="1104.8" r="1.75" fill="#ec2a26"/>
<circle cx="496.6" cy="1093.2" r="1.75" fill="#ec2a26"/>
<circle cx="494.9" cy="1105" r="1.75" fill="#ec2a26"/>
<circle cx="485.5" cy="1050.3" r="1.75" fill="#ec2a26"/>
<circle cx="487.1" cy="1099" r="1.75" fill="#ec2a26"/>
<circle cx="497.2" cy="1088.4" r="1.75" fill="#ec2a26"/>
<circle cx="464.1" cy="1125.6" r="1.75" fill="#ec2a26"/>
<circle cx="463.3" cy="1078.9" r="1.75" fill="#ec2a26"/>
<circle cx="480.9" cy="1085.8" r="1.75" fill="#ec2a26"/>
<circle cx="497.5" cy="1104.7" r="1.75" fill="#ec2a26"/>
<circle cx="455.2" cy="1073.5" r="1.75" fill="#ec2a26"/>
<circle cx="461.7" cy="1120.9" r="1.75" fill="#ec2a26"/>
<circle cx="472.9" cy="1087" r="1.75" fill="#ec2a26"/>
<circle cx="470.5" cy="1101.8" r="1.75" fill="#ec2a26"/>
<circle cx="482" cy="1145.5" r="1.75" fill="#ec2a26"/>
<circle cx="488.9" cy="1062.9" r="1.75" fill="#ec2a26"/>
<circle cx="495.5" cy="1067.9" r="1.75" fill="#ec2a26"/>
<circle cx="484.7" cy="1073" r="1.75" fill="#ec2a26"/>
<circle cx="460.4" cy="1061.1" r="1.75" fill="#ec2a26"/>
<circle cx="458.5" cy="1070" r="1.75" fill="#ec2a26"/>
<circle cx="487.1" cy="1083.4" r="1.75" fill="#ec2a26"/>
<circle cx="461.5" cy="1075" r="1.75" fill="#ec2a26"/>
<circle cx="477.3" cy="1092.6" r="1.75" fill="#ec2a26"/>
<circle cx="467.5" cy="1074.5" r="1.75" fill="#ec2a26"/>
<circle cx="470.2" cy="1103.3" r="1.75" fill="#ec2a26"/>
<circle cx="491.5" cy="1104.5" r="1.75" fill="#ec2a26"/>
<circle cx="478.7" cy="1090.9" r="1.75" fill="#ec2a26"/>
<circle cx="491.5" cy="1063.7" r="1.75" fill="#ec2a26"/>
<circle cx="462.2" cy="1090.8" r="1.75" fill="#ec2a26"/>
<circle cx="461.5" cy="1139.6" r="1.75" fill="#ec2a26"/>
<circle cx="467.8" cy="1080.1" r="1.75" fill="#ec2a26"/>
<circle cx="486.9" cy="1072.5" r="1.75" fill="#ec2a26"/>
<circle cx="491.3" cy="1118.3" r="1.75" fill="#ec2a26"/>
<circle cx="454.6" cy="1077" r="1.75" fill="#ec2a26"/>
<circle cx="481.3" cy="1073.4" r="1.75" fill="#ec2a26"/>
<circle cx="497.7" cy="1100.9" r="1.75" fill="#ec2a26"/>
<circle cx="460.9" cy="1078.6" r="1.75" fill="#ec2a26"/>
<circle cx="456.3" cy="1123.9" r="1.75" fill="#ec2a26"/>
<circle cx="470" cy="1101.2" r="1.75" fill="#ec2a26"/>
<circle cx="470.5" cy="1104.8" r="1.75" fill="#ec2a26"/>
<circle cx="493.3" cy="1112.3" r="1.75" fill="#ec2a26"/>
<circle cx="463.8" cy="1102.9" r="1.75" fill="#ec2a26"/>
<circle cx="469.9" cy="1113.7" r="1.75" fill="#ec2a26"/>
<circle cx="466.4" cy="1123.2" r="1.75" fill="#ec2a26"/>
<circle cx="458.3" cy="1081.2" r="1.75" fill="#ec2a26"/>
<circle cx="495.4" cy="1083.8" r="1.75" fill="#ec2a26"/>
<circle cx="482.6" cy="1057.7" r="1.75" fill="#ec2a26"/>
<circle cx="495.3" cy="1097.2" r="1.75" fill="#ec2a26"/>
<circle cx="468.1" cy="1107.4" r="1.75" fill="#ec2a26"/>
<circle cx="483" cy="1132.5" r="1.75" fill="#ec2a26"/>
<circle cx="486" cy="1082.8" r="1.75" fill="#ec2a26"/>
<circle cx="496.3" cy="1084.1" r="1.75" fill="#ec2a26"/>
<circle cx="490.4" cy="1093.2" r="1.75" fill="#ec2a26"/>
<circle cx="472.6" cy="1076" r="1.75" fill="#ec2a26"/>
<circle cx="461.5" cy="1089.7" r="1.75" fill="#ec2a26"/>
<circle cx="480.5" cy="1076.2" r="1.75" fill="#ec2a26"/>
<circle cx="461.7" cy="1128.1" r="1.75" fill="#ec2a26"/>
<circle cx="461.7" cy="1070.6" r="1.75" fill="#ec2a26"/>
<circle cx="458" cy="1072.1" r="1.75" fill="#ec2a26"/>
<circle cx="458.6" cy="1047.7" r="1.75" fill="#ec2a26"/>
<circle cx="475.3" cy="1059.3" r="1.75" fill="#ec2a26"/>
<circle cx="452.9" cy="1126" r="1.75" fill="#ec2a26"/>
<circle cx="459.8" cy="1101.2" r="1.75" fill="#ec2a26"/>
<circle cx="462.5" cy="1135" r="1.75" fill="#ec2a26"/>
<circle cx="489.4" cy="1101.6" r="1.75" fill="#ec2a26"/>
<circle cx="477" cy="1135.7" r="1.75" fill="#ec2a26"/>
<circle cx="485.4" cy="1069.6" r="1.75" fill="#ec2a26"/>
<circle cx="476.2" cy="1056.2" r="1.75" fill="#ec2a26"/>
<circle cx="456.5" cy="1110.5" r="1.75" fill="#ec2a26"/>
<circle cx="454.6" cy="1090" r="1.75" fill="#ec2a26"/>
<circle cx="484.9" cy="1085.7" r="1.75" fill="#ec2a26"/>
<circle cx="472.7" cy="1045.7" r="1.75" fill="#ec2a26"/>
<circle cx="495" cy="1139.7" r="1.75" fill="#ec2a26"/>
<circle cx="458.4" cy="1070.1" r="1.75" fill="#ec2a26"/>
<circle cx="487.4" cy="1078.7" r="1.75" fill="#ec2a26"/>
<circle cx="492.8" cy="1070.1" r="1.75" fill="#ec2a26"/>
<circle cx="485.6" cy="1081.9" r="1.75" fill="#ec2a26"/>
<circle cx="466.6" cy="1132.2" r="1.75" fill="#ec2a26"/>
<circle cx="462.2" cy="1095.3" r="1.75" fill="#ec2a26"/>
<circle cx="496" cy="1061.3" r="1.75" fill="#ec2a26"/>
<circle cx="497.4" cy="1103.1" r="1.75" fill="#ec2a26"/>
<circle cx="467.4" cy="1109.8" r="1.75" fill="#ec2a26"/>
<circle cx="482.6" cy="1081.8" r="1.75" fill="#ec2a26"/>
<circle cx="484.4" cy="1076" r="1.75" fill="#ec2a26"/>
<circle cx="460.8" cy="1089" r="1.75" fill="#ec2a26"/>
<circle cx="467.7" cy="1079.9" r="1.75" fill="#ec2a26"/>
<circle cx="468.5" cy="1099.6" r="1.75" fill="#ec2a26"/>
<circle cx="482.7" cy="1089.5" r="1.75" fill="#ec2a26"/>
<circle cx="476.5" cy="1084.5" r="1.75" fill="#ec2a26"/>
<circle cx="455.6" cy="1057.3" r="1.75" fill="#ec2a26"/>
<circle cx="488.4" cy="1098.6" r="1.75" fill="#ec2a26"/>
<circle cx="493.4" cy="1093.4" r="1.75" fill="#ec2a26"/>
<circle cx="465.2" cy="1079" r="1.75" fill="#ec2a26"/>
<circle cx="466.3" cy="1102.6" r="1.75" fill="#ec2a26"/>
<circle cx="461.6" cy="1131" r="1.75" fill="#ec2a26"/>
<circle cx="474" cy="1115.4" r="1.75" fill="#ec2a26"/>
<circle cx="494.1" cy="1088.8" r="1.75" fill="#ec2a26"/>
<circle cx="479" cy="1137.2" r="1.75" fill="#ec2a26"/>
<circle cx="456.9" cy="1104.1" r="1.75" fill="#ec2a26"/>
<circle cx="452.3" cy="1061.5" r="1.75" fill="#ec2a26"/>
<circle cx="466.1" cy="1088.6" r="1.75" fill="#ec2a26"/>
<circle cx="460.2" cy="1079.8" r="1.75" fill="#ec2a26"/>
<circle cx="467.5" cy="1111" r="1.75" fill="#ec2a26"/>
<circle cx="469.1" cy="1069.9" r="1.75" fill="#ec2a26"/>
<circle cx="489.7" cy="1056.2" r="1.75" fill="#ec2a26"/>
<circle cx="485.8" cy="1062.8" r="1.75" fill="#ec2a26"/>
<circle cx="457.5" cy="1134.6" r="1.75" fill="#ec2a26"/>
<circle cx="459.7" cy="1081.8" r="1.75" fill="#ec2a26"/>
<circle cx="454.1" cy="1099.1" r="1.75" fill="#ec2a26"/>
<circle cx="479.1" cy="1089.4" r="1.75" fill="#ec2a26"/>
<circle cx="471.5" cy="1127.6" r="1.75" fill="#ec2a26"/>
<circle cx="491" cy="1073.1" r="1.75" fill="#ec2a26"/>
<circle cx="486.2" cy="1056.9" r="1.75" fill="#ec2a26"/>
<circle cx="468.9" cy="1074.6" r="1.75" fill="#ec2a26"/>
<circle cx="452.5" cy="1099.5" r="1.75" fill="#ec2a26"/>
<circle cx="482.1" cy="1103.2" r="1.75" fill="#ec2a26"/>
<circle cx="464.3" cy="1082.4" r="1.75" fill="#ec2a26"/>
<circle cx="457.2" cy="1112.4" r="1.75" fill="#ec2a26"/>
<circle cx="464.8" cy="1092.7" r="1.75" fill="#ec2a26"/>
<circle cx="477.3" cy="1078.9" r="1.75" fill="#ec2a26"/>
<circle cx="478.6" cy="1102.4" r="1.75" fill="#ec2a26"/>
<circle cx="454.2" cy="1076.5" r="1.75" fill="#ec2a26"/>
<circle cx="465.4" cy="1096.2" r="1.75" fill="#ec2a26"/>
<circle cx="478" cy="1031" r="1.75" fill="#ec2a26"/>
<circle cx="485.9" cy="1037.7" r="1.75" fill="#ec2a26"/>
<circle cx="477" cy="1097.9" r="1.75" fill="#ec2a26"/>
<circle cx="457.1" cy="1093" r="1.75" fill="#ec2a26"/>
<circle cx="454.7" cy="1082.2" r="1.75" fill="#ec2a26"/>
<circle cx="462" cy="1083.4" r="1.75" fill="#ec2a26"/>
<circle cx="486.7" cy="1132.3" r="1.75" fill="#ec2a26"/>
<circle cx="491.2" cy="1080.2" r="1.75" fill="#ec2a26"/>
<circle cx="498.5" cy="1085.5" r="1.75" fill="#ec2a26"/>
<circle cx="457.3" cy="1125.6" r="1.75" fill="#ec2a26"/>
<circle cx="478.6" cy="1077.2" r="1.75" fill="#ec2a26"/>
<circle cx="462.3" cy="1066.2" r="1.75" fill="#ec2a26"/>
<circle cx="463.5" cy="1067.6" r="1.75" fill="#ec2a26"/>
<circle cx="490.2" cy="1088.9" r="1.75" fill="#ec2a26"/>
<circle cx="490.3" cy="1124.2" r="1.75" fill="#ec2a26"/>
<circle cx="456.8" cy="1072.8" r="1.75" fill="#ec2a26"/>
<circle cx="462.2" cy="1083.4" r="1.75" fill="#ec2a26"/>
<circle cx="466.3" cy="1091.4" r="1.75" fill="#ec2a26"/>
<circle cx="456.1" cy="1109.5" r="1.75" fill="#ec2a26"/>
<circle cx="460.7" cy="1091.7" r="1.75" fill="#ec2a26"/>
<circle cx="466.9" cy="1128.1" r="1.75" fill="#ec2a26"/>
<circle cx="453.7" cy="1052.7" r="1.75" fill="#ec2a26"/>
<circle cx="488.8" cy="1112.6" r="1.75" fill="#ec2a26"/>
<circle cx="460" cy="1075.3" r="1.75" fill="#ec2a26"/>
<circle cx="489.2" cy="1069" r="1.75" fill="#ec2a26"/>
<circle cx="495.1" cy="1091.5" r="1.75" fill="#ec2a26"/>
<circle cx="484" cy="1110.9" r="1.75" fill="#ec2a26"/>
<circle cx="452.4" cy="1096.2" r="1.75" fill="#ec2a26"/>
<circle cx="493" cy="1102.9" r="1.75" fill="#ec2a26"/>
<circle cx="467.5" cy="1063.2" r="1.75" fill="#ec2a26"/>
<circle cx="455.4" cy="1086.3" r="1.75" fill="#ec2a26"/>
<circle cx="492.4" cy="1101.1" r="1.75" fill="#ec2a26"/>
<circle cx="454.6" cy="1099.3" r="1.75" fill="#ec2a26"/>
<circle cx="482.4" cy="1111.3" r="1.75" fill="#ec2a26"/>
<circle cx="497.2" cy="1073.9" r="1.75" fill="#ec2a26"/>
<circle cx="475.1" cy="1133.9" r="1.75" fill="#ec2a26"/>
<circle cx="488" cy="1116.7" r="1.75" fill="#ec2a26"/>
<circle cx="484.4" cy="1113.6" r="1.75" fill="#ec2a26"/>
<circle cx="466.3" cy="1093.2" r="1.75" fill="#ec2a26"/>
<circle cx="488.8" cy="1066.5" r="1.75" fill="#ec2a26"/>
<circle cx="483.7" cy="1084.3" r="1.75" fill="#ec2a26"/>
<circle cx="481.9" cy="1080.7" r="1.75" fill="#ec2a26"/>
<circle cx="495.7" cy="1071.9" r="1.75" fill="#ec2a26"/>
<circle cx="479.7" cy="1136.2" r="1.75" fill="#ec2a26"/>
<circle cx="482.6" cy="1097.2" r="1.75" fill="#ec2a26"/>
<circle cx="488.5" cy="1100.2" r="1.75" fill="#ec2a26"/>
<circle cx="489.4" cy="1100.8" r="1.75" fill="#ec2a26"/>
<circle cx="463.4" cy="1093.5" r="1.75" fill="#ec2a26"/>
<circle cx="479.5" cy="1143.5" r="1.75" fill="#ec2a26"/>
<circle cx="478.9" cy="1142.5" r="1.75" fill="#ec2a26"/>
<circle cx="495.5" cy="1113.6" r="1.75" fill="#ec2a26"/>
<circle cx="483" cy="1087.4" r="1.75" fill="#ec2a26"/>
<circle cx="470.5" cy="1099" r="1.75" fill="#ec2a26"/>
<circle cx="468.1" cy="1124.7" r="1.75" fill="#ec2a26"/>
<circle cx="469.8" cy="1125.4" r="1.75" fill="#ec2a26"/>
<circle cx="483.4" cy="1076.2" r="1.75" fill="#ec2a26"/>
<circle cx="488.9" cy="1099.6" r="1.75" fill="#ec2a26"/>
<circle cx="472" cy="1122.6" r="1.75" fill="#ec2a26"/>
<circle cx="466.4" cy="1141.3" r="1.75" fill="#ec2a26"/>
<circle cx="496.3" cy="1104.6" r="1.75" fill="#ec2a26"/>
<circle cx="492.9" cy="1060.5" r="1.75" fill="#ec2a26"/>
<circle cx="466.1" cy="1119.8" r="1.75" fill="#ec2a26"/>
<circle cx="459" cy="1089.6" r="1.75" fill="#ec2a26"/>
<circle cx="470.5" cy="1104" r="1.75" fill="#ec2a26"/>
<circle cx="473.8" cy="1096.7" r="1.75" fill="#ec2a26"/>
<circle cx="498.2" cy="1070.9" r="1.75" fill="#ec2a26"/>
<circle cx="460.9" cy="1089" r="1.75" fill="#ec2a26"/>
<circle cx="477.2" cy="1073.5" r="1.75" fill="#ec2a26"/>
<circle cx="463.4" cy="1110.5" r="1.75" fill="#ec2a26"/>
<circle cx="469.6" cy="1086.1" r="1.75" fill="#ec2a26"/>
<circle cx="493.8" cy="1058.4" r="1.75" fill="#ec2a26"/>
<circle cx="459.2" cy="1111.5" r="1.75" fill="#ec2a26"/>
<circle cx="460" cy="1078.9" r="1.75" fill="#ec2a26"/>
<circle cx="493.1" cy="1121.9" r="1.75" fill="#ec2a26"/>
<circle cx="496.7" cy="1055.7" r="1.75" fill="#ec2a26"/>
<circle cx="492.8" cy="1101.8" r="1.75" fill="#ec2a26"/>
<circle cx="488.9" cy="1072.7" r="1.75" fill="#ec2a26"/>
<circle cx="497.1" cy="1133.4" r="1.75" fill="#ec2a26"/>
<circle cx="470.3" cy="1125.2" r="1.75" fill="#ec2a26"/>
<circle cx="457" cy="1043.4" r="1.75" fill="#ec2a26"/>
<circle cx="463.6" cy="1090.8" r="1.75" fill="#ec2a26"/>
<circle cx="461.9" cy="1160.8" r="1.75" fill="#ec2a26"/>
<circle cx="469.4" cy="1155" r="1.75" fill="#ec2a26"/>
<line x1="475.4" y1="1028" x2="475.4" y2="1075.6" stroke="#ec2a26" stroke-width="1.1"/>
<line x1="475.4" y1="1110.3" x2="475.4" y2="1160" stroke="#ec2a26" stroke-width="1.1"/>
<rect x="434" y="1075.6" width="82.7" height="34.7" fill="none" stroke="#ec2a26" stroke-width="1.1"/>
<line x1="434" y1="1093.7" x2="516.7" y2="1093.7" stroke="#ec2a26" stroke-width="1.6"/>
<line x1="592.9" y1="1169.8" x2="592.9" y2="1172.8" stroke="#000" stroke-width="1.2"/>
<text x="592.9" y="1187.5" font-size="10.2" text-anchor="middle" fill="#1a1a1a">Wildtype</text>
<circle cx="603.9" cy="1127" r="1.75" fill="#00898f"/>
<circle cx="601.1" cy="1107.9" r="1.75" fill="#00898f"/>
<circle cx="604.7" cy="1052.6" r="1.75" fill="#00898f"/>
<circle cx="600.6" cy="1097.3" r="1.75" fill="#00898f"/>
<circle cx="581.4" cy="1065.5" r="1.75" fill="#00898f"/>
<circle cx="589" cy="1061.8" r="1.75" fill="#00898f"/>
<circle cx="582.1" cy="1115.7" r="1.75" fill="#00898f"/>
<circle cx="583.4" cy="1095.3" r="1.75" fill="#00898f"/>
<circle cx="601.5" cy="1106.7" r="1.75" fill="#00898f"/>
<circle cx="613.2" cy="1056.2" r="1.75" fill="#00898f"/>
<circle cx="600.1" cy="1090.1" r="1.75" fill="#00898f"/>
<circle cx="592.6" cy="1101.5" r="1.75" fill="#00898f"/>
<circle cx="610.3" cy="1095" r="1.75" fill="#00898f"/>
<circle cx="610.9" cy="1097.8" r="1.75" fill="#00898f"/>
<circle cx="584.1" cy="1075.4" r="1.75" fill="#00898f"/>
<circle cx="593.5" cy="1076.7" r="1.75" fill="#00898f"/>
<circle cx="591" cy="1073.5" r="1.75" fill="#00898f"/>
<circle cx="613.7" cy="1065.2" r="1.75" fill="#00898f"/>
<circle cx="613.2" cy="1096.3" r="1.75" fill="#00898f"/>
<circle cx="582.3" cy="1093" r="1.75" fill="#00898f"/>
<circle cx="593.3" cy="1071.9" r="1.75" fill="#00898f"/>
<circle cx="616" cy="1041.4" r="1.75" fill="#00898f"/>
<circle cx="615.3" cy="1077.8" r="1.75" fill="#00898f"/>
<circle cx="598.8" cy="1063.6" r="1.75" fill="#00898f"/>
<circle cx="570.9" cy="1091.1" r="1.75" fill="#00898f"/>
<circle cx="595.1" cy="1050.1" r="1.75" fill="#00898f"/>
<circle cx="613.8" cy="1102.1" r="1.75" fill="#00898f"/>
<circle cx="599.4" cy="1087.5" r="1.75" fill="#00898f"/>
<circle cx="586.4" cy="1090.3" r="1.75" fill="#00898f"/>
<circle cx="608.4" cy="1075.1" r="1.75" fill="#00898f"/>
<circle cx="592.7" cy="1106" r="1.75" fill="#00898f"/>
<circle cx="611.2" cy="1063.8" r="1.75" fill="#00898f"/>
<circle cx="579" cy="1084" r="1.75" fill="#00898f"/>
<circle cx="584" cy="1090.1" r="1.75" fill="#00898f"/>
<circle cx="593.9" cy="1101.7" r="1.75" fill="#00898f"/>
<circle cx="597" cy="1116.2" r="1.75" fill="#00898f"/>
<circle cx="614.8" cy="1143.1" r="1.75" fill="#00898f"/>
<circle cx="601.9" cy="1089.3" r="1.75" fill="#00898f"/>
<circle cx="582.3" cy="1116.7" r="1.75" fill="#00898f"/>
<circle cx="598.5" cy="1071.2" r="1.75" fill="#00898f"/>
<circle cx="612.8" cy="1111.3" r="1.75" fill="#00898f"/>
<circle cx="586.5" cy="1124.5" r="1.75" fill="#00898f"/>
<circle cx="584.5" cy="1071.6" r="1.75" fill="#00898f"/>
<circle cx="574.9" cy="1085.7" r="1.75" fill="#00898f"/>
<circle cx="612.7" cy="1120.7" r="1.75" fill="#00898f"/>
<circle cx="588.6" cy="1114.5" r="1.75" fill="#00898f"/>
<circle cx="577.1" cy="1113.9" r="1.75" fill="#00898f"/>
<circle cx="582.6" cy="1087.4" r="1.75" fill="#00898f"/>
<circle cx="594.6" cy="1098" r="1.75" fill="#00898f"/>
<circle cx="588.8" cy="1119.1" r="1.75" fill="#00898f"/>
<circle cx="573.2" cy="1134.7" r="1.75" fill="#00898f"/>
<circle cx="588.1" cy="1124.3" r="1.75" fill="#00898f"/>
<circle cx="607.3" cy="1068.2" r="1.75" fill="#00898f"/>
<circle cx="590.6" cy="1085.7" r="1.75" fill="#00898f"/>
<circle cx="570.2" cy="1103.6" r="1.75" fill="#00898f"/>
<circle cx="583.9" cy="1131.4" r="1.75" fill="#00898f"/>
<circle cx="597.6" cy="1101.1" r="1.75" fill="#00898f"/>
<circle cx="610.8" cy="1138.1" r="1.75" fill="#00898f"/>
<circle cx="610.3" cy="1039" r="1.75" fill="#00898f"/>
<circle cx="608.1" cy="1065.2" r="1.75" fill="#00898f"/>
<circle cx="608.4" cy="1073.9" r="1.75" fill="#00898f"/>
<circle cx="577.4" cy="1107.1" r="1.75" fill="#00898f"/>
<circle cx="577.9" cy="1149.6" r="1.75" fill="#00898f"/>
<circle cx="575.2" cy="1100.3" r="1.75" fill="#00898f"/>
<circle cx="588.4" cy="1134.1" r="1.75" fill="#00898f"/>
<circle cx="608.6" cy="1069.2" r="1.75" fill="#00898f"/>
<circle cx="588.3" cy="1130.5" r="1.75" fill="#00898f"/>
<circle cx="609.8" cy="1116.1" r="1.75" fill="#00898f"/>
<circle cx="602.7" cy="1093.3" r="1.75" fill="#00898f"/>
<circle cx="588.9" cy="1067.9" r="1.75" fill="#00898f"/>
<circle cx="612.7" cy="1061.2" r="1.75" fill="#00898f"/>
<circle cx="601.3" cy="1097.5" r="1.75" fill="#00898f"/>
<circle cx="612.6" cy="1076.4" r="1.75" fill="#00898f"/>
<circle cx="596.3" cy="1091.5" r="1.75" fill="#00898f"/>
<circle cx="580.6" cy="1092.5" r="1.75" fill="#00898f"/>
<circle cx="603.5" cy="1109.2" r="1.75" fill="#00898f"/>
<circle cx="606.1" cy="1086.1" r="1.75" fill="#00898f"/>
<circle cx="575.8" cy="1114.4" r="1.75" fill="#00898f"/>
<circle cx="580" cy="1137.7" r="1.75" fill="#00898f"/>
<circle cx="575.5" cy="1082.4" r="1.75" fill="#00898f"/>
<circle cx="570.8" cy="986.6" r="1.75" fill="#00898f"/>
<circle cx="581.8" cy="1003.2" r="1.75" fill="#00898f"/>
<circle cx="609.5" cy="1151.8" r="1.75" fill="#00898f"/>
<line x1="592.9" y1="1027.8" x2="592.9" y2="1071.5" stroke="#00898f" stroke-width="1.1"/>
<line x1="592.9" y1="1105.4" x2="592.9" y2="1151" stroke="#00898f" stroke-width="1.1"/>
<rect x="551.5" y="1071.5" width="82.9" height="33.9" fill="none" stroke="#00898f" stroke-width="1.1"/>
<line x1="551.5" y1="1093.3" x2="634.4" y2="1093.3" stroke="#00898f" stroke-width="1.6"/>
<path d="M475.4 983.2 V978.1 H592.9 V983.2" fill="none" stroke="#000" stroke-width="1.1"/>
<text x="534.1" y="974.5" font-size="9.8" text-anchor="middle" fill="#1a1a1a" stroke="#1a1a1a" stroke-width="0.4">0.24</text>
<text x="532.6" y="1209" font-size="10.2" text-anchor="middle" fill="#1a1a1a">IDH_mutation_status</text>
<text x="0" y="0" font-size="10.2" text-anchor="middle" fill="#1a1a1a" transform="translate(375.9,1071) rotate(-90)">VASH1 expression</text>
<text x="405.7" y="1243" font-size="10.2" text-anchor="start" fill="#1a1a1a">IDH_mutation_status</text>
<rect x="518.2" y="1236.2" width="10" height="7" fill="none" stroke="#ec2a26" stroke-width="1.3"/>
<line x1="518.2" y1="1239.7" x2="528.2" y2="1239.7" stroke="#ec2a26" stroke-width="1.3"/>
<line x1="523.2" y1="1233.5" x2="523.2" y2="1245.8" stroke="#ec2a26" stroke-width="1.3"/>
<text x="538.7" y="1243" font-size="10.2" text-anchor="start" fill="#1a1a1a">Mutant</text>
<rect x="590.2" y="1236.2" width="10" height="7" fill="none" stroke="#00898f" stroke-width="1.3"/>
<line x1="590.2" y1="1239.7" x2="600.2" y2="1239.7" stroke="#00898f" stroke-width="1.3"/>
<line x1="595.2" y1="1233.5" x2="595.2" y2="1245.8" stroke="#00898f" stroke-width="1.3"/>
<text x="610.7" y="1243" font-size="10.2" text-anchor="start" fill="#1a1a1a">Wildtype</text>
</svg></body></html>
